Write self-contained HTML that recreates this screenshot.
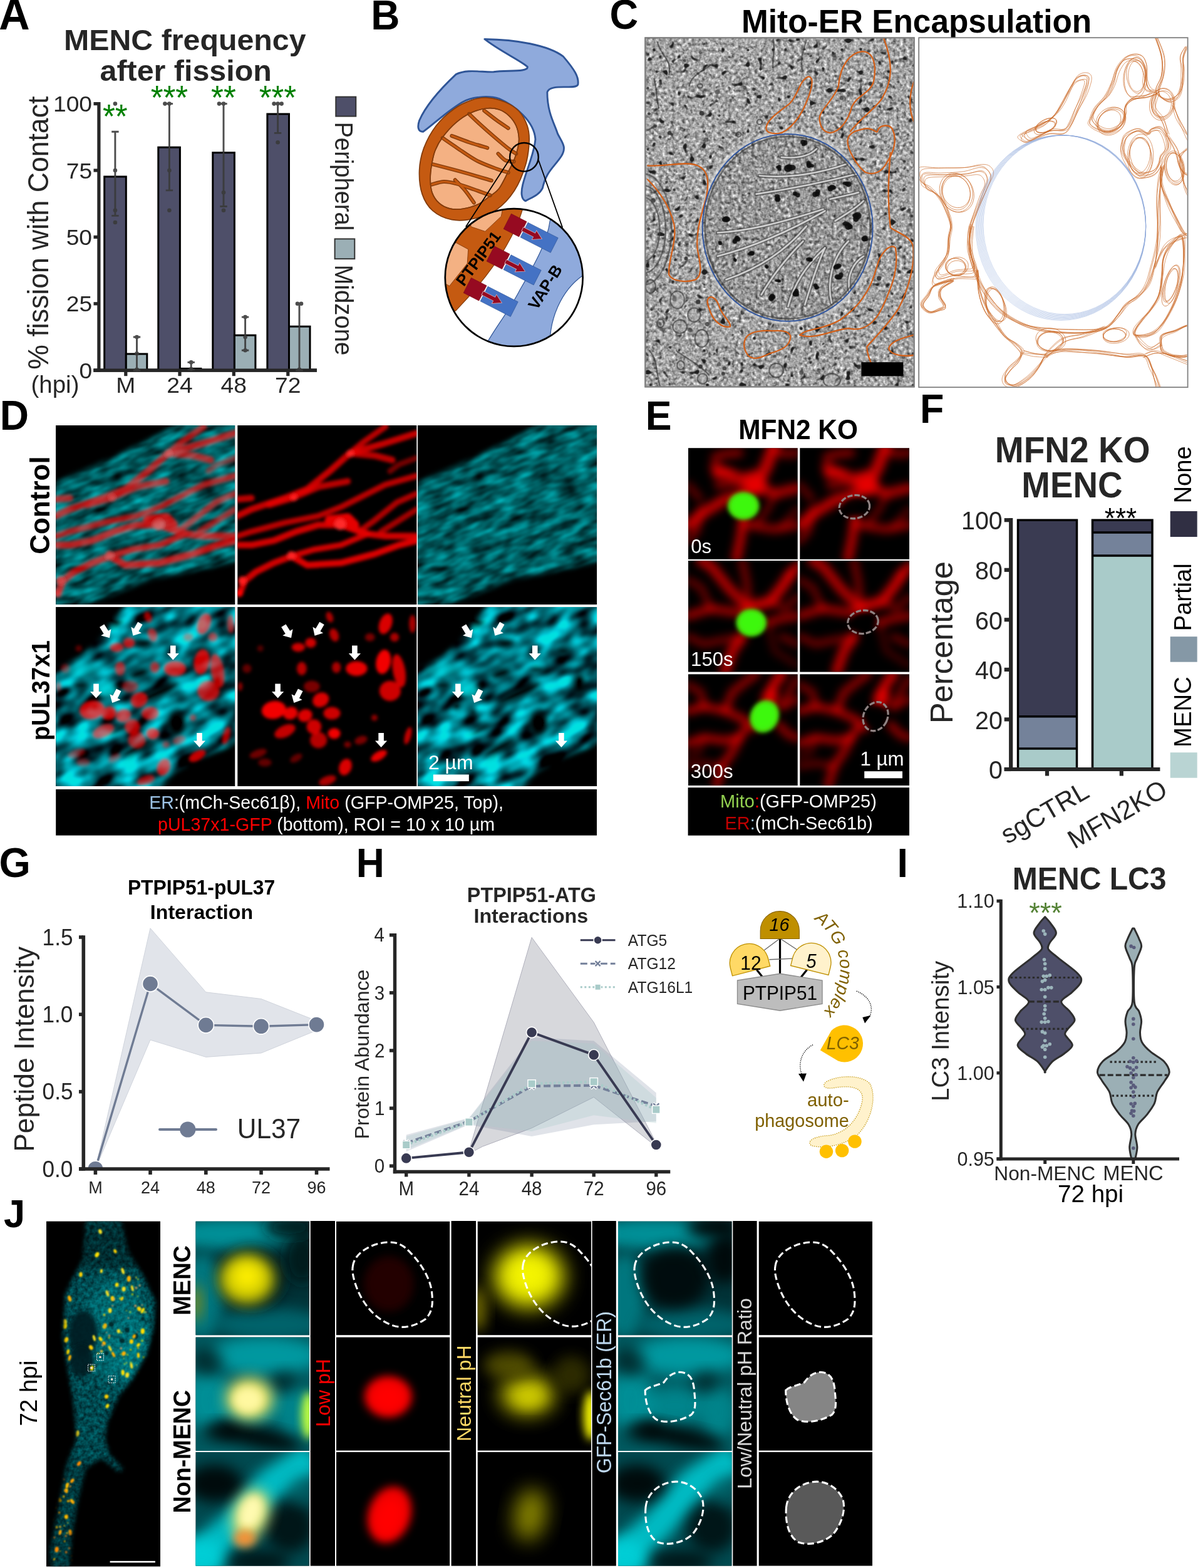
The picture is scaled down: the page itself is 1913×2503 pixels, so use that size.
<!DOCTYPE html>
<html lang="en"><head><meta charset="utf-8"><title>Figure</title>
<style>
html,body{margin:0;padding:0;background:#fff;}
body{width:1913px;height:2503px;overflow:hidden;font-family:'Liberation Sans',Arial,sans-serif;}
svg{display:block;}
text{font-family:'Liberation Sans',Arial,sans-serif;}
</style></head>
<body>
<svg width="1913" height="2503" viewBox="0 0 1913 2503">
<defs>

<filter id="emtex" x="0" y="0" width="100%" height="100%" color-interpolation-filters="sRGB">
  <feTurbulence type="fractalNoise" baseFrequency="0.19" numOctaves="2" seed="7" result="n"/>
  <feColorMatrix in="n" type="matrix" values="0.68 0.68 0 0 -0.035  0.68 0.68 0 0 -0.035  0.68 0.68 0 0 -0.035  0 0 0 0 1" result="g"/>
  <feTurbulence type="fractalNoise" baseFrequency="0.1" numOctaves="1" seed="31" result="n2"/>
  <feColorMatrix in="n2" type="matrix" values="0 0 0 0 0.12  0 0 0 0 0.12  0 0 0 0 0.12  -10 0 0 0 3.7" result="sp"/>
  <feGaussianBlur in="sp" stdDeviation="0.5" result="sp2"/>
  <feComposite in="sp2" in2="g" operator="over" result="c"/>
  <feGaussianBlur in="c" stdDeviation="0.5"/>
</filter>
<filter id="emtex2" x="0" y="0" width="100%" height="100%" color-interpolation-filters="sRGB">
  <feTurbulence type="fractalNoise" baseFrequency="0.19" numOctaves="2" seed="23" result="n"/>
  <feColorMatrix in="n" type="matrix" values="0.66 0.66 0 0 -0.07  0.66 0.66 0 0 -0.07  0.66 0.66 0 0 -0.07  0 0 0 0 1" result="g"/>
  <feGaussianBlur in="g" stdDeviation="0.6"/>
</filter>
<filter id="b1" x="-50%" y="-50%" width="200%" height="200%"><feGaussianBlur stdDeviation="1"/></filter>
<filter id="b2" x="-50%" y="-50%" width="200%" height="200%"><feGaussianBlur stdDeviation="2"/></filter>
<filter id="b05" x="-50%" y="-50%" width="200%" height="200%"><feGaussianBlur stdDeviation="0.6"/></filter>
<clipPath id="emclip"><rect x="1031" y="61" width="428" height="556"/></clipPath>
<clipPath id="mitoclip"><ellipse cx="1257.6" cy="363.4" rx="135.5" ry="149"/></clipPath>
<clipPath id="c2clip"><rect x="1468" y="61" width="427.5" height="556.5"/></clipPath>


<filter id="cy1" x="0" y="0" width="100%" height="100%" color-interpolation-filters="sRGB">
  <feTurbulence type="fractalNoise" baseFrequency="0.03 0.08" numOctaves="2" seed="3" result="n"/>
  <feColorMatrix in="n" type="matrix" values="0 0 0 0 0  0.9 0 0 0 -0.08  0.93 0 0 0 -0.08  0 0 0 0 1"/>
  <feGaussianBlur stdDeviation="1.2"/>
</filter>
<filter id="cy2" x="0" y="0" width="100%" height="100%" color-interpolation-filters="sRGB">
  <feTurbulence type="fractalNoise" baseFrequency="0.022 0.04" numOctaves="2" seed="14" result="n"/>
  <feColorMatrix in="n" type="matrix" values="0 0 0 0 0  2.3 0 0 0 -0.62  2.4 0 0 0 -0.62  0 0 0 0 1"/>
  <feGaussianBlur stdDeviation="1.5"/>
</filter>
<filter id="b3" x="-50%" y="-50%" width="200%" height="200%"><feGaussianBlur stdDeviation="2.6"/></filter>
<filter id="b4" x="-50%" y="-50%" width="200%" height="200%"><feGaussianBlur stdDeviation="4.5"/></filter>
<filter id="b8" x="-50%" y="-50%" width="200%" height="200%"><feGaussianBlur stdDeviation="8"/></filter>
<filter id="b12" x="-50%" y="-50%" width="200%" height="200%"><feGaussianBlur stdDeviation="12"/></filter>
<clipPath id="dclip"><rect x="0" y="0" width="286" height="286"/></clipPath>

<mask id="mtop" maskUnits="userSpaceOnUse" x="0" y="0" width="286" height="286"><rect width="286" height="286" fill="#000"/><path d="M-20,100 L60,66 L110,42 L170,12 L220,-20 L310,-20 L310,212 L250,226 L150,246 L110,262 L60,283 L-20,300 Z" fill="#fff" filter="url(#b4)"/></mask>
<g id="cytop" clip-path="url(#dclip)"><rect width="286" height="286" fill="#000"/><g mask="url(#mtop)"><g transform="rotate(-22 143 143)"><rect x="-80" y="-80" width="446" height="446" filter="url(#cy1)"/></g></g></g>
<g id="redtop" clip-path="url(#dclip)"><g fill="none" stroke="#e60000" stroke-linecap="round" stroke-linejoin="round" filter="url(#b3)"><polyline points="286.4,12.5 229.3,30.4 179.3,44.6 147.1,73.2 111.4,101.8 75.7,116.1 22.1,133.9 0.0,144.6" stroke-width="10.5" stroke-opacity="0.85"/><polyline points="179.3,44.6 218.6,48.2 247.1,55.4" stroke-width="10.5" stroke-opacity="0.8"/><polyline points="236.4,1.8 200.7,26.8 179.3,44.6" stroke-width="9.5" stroke-opacity="0.8"/><polyline points="175.7,89.3 129.3,98.2 86.4,116.1 50.7,126.8" stroke-width="10.5" stroke-opacity="0.8"/><polyline points="0.0,117.9 22.1,116.1" stroke-width="10.5" stroke-opacity="0.8"/><polyline points="286.4,80.4 236.4,94.6 200.7,112.5 165.0,130.4 129.3,144.6 75.7,155.4 22.1,169.6 0.0,176.8" stroke-width="9.5" stroke-opacity="0.8"/><polyline points="286.4,108.9 254.3,123.2 218.6,151.8 193.6,169.6 165.0,158.9" stroke-width="9.5" stroke-opacity="0.75"/><polyline points="286.4,176.8 236.4,176.8 207.9,173.2 165.0,158.9 129.3,158.9 93.6,169.6 57.9,183.9 22.1,191.1 0.0,191.1" stroke-width="10.5" stroke-opacity="0.9"/><polyline points="86.4,208.9 111.4,223.2 165.0,219.6 218.6,205.4 257.9,191.1 286.4,183.9" stroke-width="10.5" stroke-opacity="0.95"/><polyline points="86.4,208.9 57.9,219.6 29.3,233.9 11.4,248.2 4.3,266.1" stroke-width="10.5" stroke-opacity="0.9"/><polyline points="86.4,208.9 122.1,198.2 165.0,191.1 207.9,173.2" stroke-width="9.5" stroke-opacity="0.9"/><polyline points="286.4,133.9 257.9,151.8 229.3,169.6" stroke-width="9.5" stroke-opacity="0.7"/><polyline points="147.1,151.8 175.7,148.2 186.4,158.9" stroke-width="16" stroke-opacity="1.0"/><polyline points="286.4,51.8 257.9,62.5 243.6,73.2" stroke-width="9" stroke-opacity="0.5"/><circle cx="164" cy="158" r="9" fill="#ff2a2a" stroke="none"/><circle cx="86" cy="208" r="7" fill="#ff2020" stroke="none"/><circle cx="180" cy="45" r="6" fill="#ff2020" stroke="none"/><circle cx="90" cy="115" r="6" fill="#ff1a1a" stroke="none"/><circle cx="8" cy="248" r="7" fill="#ff1a1a" stroke="none"/><circle cx="3" cy="268" r="6" fill="#f00" stroke="none"/></g></g>
<mask id="mbot" maskUnits="userSpaceOnUse" x="0" y="0" width="286" height="286"><rect width="286" height="286" fill="#000"/><g filter="url(#b4)"><path d="M-20,110 L40,80 L90,30 L120,-20 L310,-20 L310,200 L270,225 L230,240 L190,262 L150,310 L-20,310 Z" fill="#fff"/><g fill="#000"><ellipse cx="163" cy="137" rx="40" ry="10" transform="rotate(-25 163 137)"/><ellipse cx="133" cy="106" rx="18" ry="9" transform="rotate(-20 133 106)"/><ellipse cx="140" cy="58" rx="16" ry="8"/><ellipse cx="232" cy="70" rx="12" ry="7"/><ellipse cx="62" cy="158" rx="10" ry="9"/><ellipse cx="88" cy="168" rx="7" ry="9"/><ellipse cx="193" cy="185" rx="18" ry="22"/><ellipse cx="258" cy="122" rx="13" ry="18"/><ellipse cx="130" cy="225" rx="30" ry="9" transform="rotate(-28 130 225)"/><ellipse cx="95" cy="25" rx="12" ry="8"/><ellipse cx="190" cy="100" rx="14" ry="7"/><ellipse cx="100" cy="195" rx="16" ry="6" transform="rotate(-30 100 195)"/><ellipse cx="215" cy="245" rx="14" ry="10"/><ellipse cx="40" cy="125" rx="14" ry="7"/></g></g></mask>
<g id="cybot" clip-path="url(#dclip)"><rect width="286" height="286" fill="#000"/><g mask="url(#mbot)"><g transform="rotate(-28 143 143)" opacity="0.88"><rect x="-80" y="-80" width="446" height="446" filter="url(#cy2)"/></g><ellipse cx="82" cy="133" rx="16" ry="12" fill="#00e8ee" opacity="0.8" filter="url(#b4)"/><ellipse cx="40" cy="100" rx="30" ry="10" fill="#00c8cc" opacity="0.5" filter="url(#b4)"/></g></g>
<g id="redbot" clip-path="url(#dclip)"><g fill="#f20000" filter="url(#b3)"><ellipse cx="97.1" cy="64.3" rx="10.7" ry="7.1" transform="rotate(0 97.1 64.3)" opacity="0.85"/><ellipse cx="116.8" cy="57.1" rx="8.9" ry="7.9" transform="rotate(0 116.8 57.1)" opacity="0.85"/><ellipse cx="147.1" cy="16.1" rx="5.4" ry="8.9" transform="rotate(-20 147.1 16.1)" opacity="0.7"/><ellipse cx="154.3" cy="44.6" rx="7.1" ry="10.7" transform="rotate(-20 154.3 44.6)" opacity="0.75"/><ellipse cx="102.5" cy="98.2" rx="7.9" ry="10.7" transform="rotate(0 102.5 98.2)" opacity="0.75"/><ellipse cx="190.0" cy="98.2" rx="17.1" ry="11.8" transform="rotate(0 190.0 98.2)" opacity="0.95"/><ellipse cx="157.9" cy="96.4" rx="7.1" ry="8.9" transform="rotate(0 157.9 96.4)" opacity="0.7"/><ellipse cx="232.9" cy="87.5" rx="11.8" ry="19.6" transform="rotate(10 232.9 87.5)" opacity="1"/><ellipse cx="236.4" cy="26.8" rx="10.0" ry="17.1" transform="rotate(20 236.4 26.8)" opacity="0.9"/><ellipse cx="250.7" cy="48.2" rx="7.1" ry="7.1" transform="rotate(0 250.7 48.2)" opacity="0.7"/><ellipse cx="279.3" cy="26.8" rx="5.4" ry="14.3" transform="rotate(0 279.3 26.8)" opacity="0.7"/><ellipse cx="257.9" cy="101.8" rx="10.0" ry="26.8" transform="rotate(-10 257.9 101.8)" opacity="0.85"/><ellipse cx="243.6" cy="133.9" rx="17.1" ry="16.1" transform="rotate(0 243.6 133.9)" opacity="0.85"/><ellipse cx="57.9" cy="164.3" rx="19.6" ry="14.3" transform="rotate(-10 57.9 164.3)" opacity="1"/><ellipse cx="84.6" cy="169.6" rx="11.8" ry="10.0" transform="rotate(-20 84.6 169.6)" opacity="0.95"/><ellipse cx="107.9" cy="173.2" rx="11.8" ry="10.0" transform="rotate(-20 107.9 173.2)" opacity="0.9"/><ellipse cx="132.9" cy="148.2" rx="13.6" ry="11.4" transform="rotate(-30 132.9 148.2)" opacity="0.9"/><ellipse cx="118.6" cy="126.8" rx="12.9" ry="9.3" transform="rotate(0 118.6 126.8)" opacity="0.5"/><ellipse cx="150.7" cy="169.6" rx="13.6" ry="10.0" transform="rotate(0 150.7 169.6)" opacity="0.85"/><ellipse cx="75.7" cy="198.2" rx="17.9" ry="9.3" transform="rotate(-25 75.7 198.2)" opacity="0.8"/><ellipse cx="122.1" cy="191.1" rx="11.8" ry="11.8" transform="rotate(0 122.1 191.1)" opacity="0.85"/><ellipse cx="154.3" cy="201.8" rx="10.0" ry="8.6" transform="rotate(0 154.3 201.8)" opacity="1"/><ellipse cx="129.3" cy="212.5" rx="13.6" ry="12.9" transform="rotate(0 129.3 212.5)" opacity="0.75"/><ellipse cx="225.7" cy="237.5" rx="14.3" ry="6.8" transform="rotate(-30 225.7 237.5)" opacity="0.95"/><ellipse cx="172.1" cy="255.4" rx="10.0" ry="13.6" transform="rotate(20 172.1 255.4)" opacity="0.9"/><ellipse cx="143.6" cy="276.8" rx="14.3" ry="7.1" transform="rotate(-20 143.6 276.8)" opacity="0.7"/><ellipse cx="272.1" cy="205.4" rx="5.0" ry="14.3" transform="rotate(15 272.1 205.4)" opacity="0.8"/><ellipse cx="197.1" cy="212.5" rx="10.7" ry="6.4" transform="rotate(-20 197.1 212.5)" opacity="0.5"/><ellipse cx="32.9" cy="233.9" rx="14.3" ry="6.4" transform="rotate(-20 32.9 233.9)" opacity="0.45"/><ellipse cx="15.0" cy="98.2" rx="7.1" ry="7.1" transform="rotate(0 15.0 98.2)" opacity="0.4"/><ellipse cx="4.3" cy="126.8" rx="3.6" ry="7.1" transform="rotate(0 4.3 126.8)" opacity="0.6"/><ellipse cx="218.6" cy="176.8" rx="5.0" ry="5.0" transform="rotate(0 218.6 176.8)" opacity="0.6"/><ellipse cx="43.6" cy="248.2" rx="10.7" ry="6.4" transform="rotate(0 43.6 248.2)" opacity="0.4"/><ellipse cx="211.4" cy="48.2" rx="7.9" ry="6.4" transform="rotate(0 211.4 48.2)" opacity="0.5"/><ellipse cx="36.4" cy="66.1" rx="5.0" ry="5.0" transform="rotate(0 36.4 66.1)" opacity="0.35"/><ellipse cx="175.7" cy="219.6" rx="5.7" ry="5.0" transform="rotate(0 175.7 219.6)" opacity="0.5"/><ellipse cx="93.6" cy="241.1" rx="10.7" ry="5.7" transform="rotate(-30 93.6 241.1)" opacity="0.4"/></g></g>
<path id="arw" d="M0,0 L-9.6,-10.5 L-4.3,-10.5 L-4.3,-23 L4.3,-23 L4.3,-10.5 L9.6,-10.5 Z" fill="#fff"/>
<clipPath id="eclip"><rect x="0" y="0" width="174.7" height="177.6"/></clipPath>
<filter id="eb" x="-50%" y="-50%" width="200%" height="200%"><feGaussianBlur stdDeviation="7"/></filter>
<filter id="eg" x="-50%" y="-50%" width="200%" height="200%"><feGaussianBlur stdDeviation="3.2"/></filter>
<g id="enet0" clip-path="url(#eclip)"><g fill="none" stroke="#e80000" stroke-linecap="round" stroke-linejoin="round" filter="url(#eb)"><polyline points="108.6,59.5 124.4,30.1 135.7,0.0" stroke-width="20" stroke-opacity="0.8"/><polyline points="108.6,59.5 81.4,45.9 58.8,39.1 43.0,30.1" stroke-width="16" stroke-opacity="0.75"/><polyline points="43.0,14.3 58.8,9.7 81.4,7.5" stroke-width="14" stroke-opacity="0.55"/><polyline points="45.2,41.4 65.6,39.1" stroke-width="14" stroke-opacity="0.9"/><polyline points="47.5,59.5 70.1,55.0 92.7,59.5" stroke-width="12" stroke-opacity="0.6"/><polyline points="108.6,59.5 138.0,73.1 174.6,64.0" stroke-width="16" stroke-opacity="0.7"/><polyline points="108.6,61.8 86.0,75.3 58.8,82.1 24.9,102.5 0.0,122.8" stroke-width="17" stroke-opacity="0.8"/><polyline points="88.2,111.5 83.7,143.2 76.9,176.4" stroke-width="15" stroke-opacity="0.75"/><polyline points="88.2,120.6 108.6,125.1 138.0,129.6 174.6,122.8" stroke-width="13" stroke-opacity="0.6"/><polyline points="20.4,97.9 13.6,131.9 0.0,147.7" stroke-width="12" stroke-opacity="0.5"/><polyline points="135.7,0.0 153.8,9.7 174.6,7.5" stroke-width="14" stroke-opacity="0.5"/><polyline points="0.0,59.5 18.1,79.8" stroke-width="12" stroke-opacity="0.4"/><polyline points="138.0,73.1 126.7,97.9 108.6,120.6" stroke-width="10" stroke-opacity="0.45"/><polyline points="174.6,97.9 149.3,125.1" stroke-width="10" stroke-opacity="0.4"/><polyline points="108.6,59.5 104.0,52.7" stroke-width="34" stroke-opacity="0.85"/></g></g>
<g id="enet1" clip-path="url(#eclip)"><g fill="none" stroke="#e80000" stroke-linecap="round" stroke-linejoin="round" filter="url(#eb)"><polyline points="97.3,74.2 131.2,65.1 149.3,42.5 162.9,22.2" stroke-width="17" stroke-opacity="0.85"/><polyline points="97.3,76.5 65.6,44.8 36.2,8.6 20.4,0.0" stroke-width="16" stroke-opacity="0.75"/><polyline points="86.0,121.7 70.1,144.3 58.8,177.1" stroke-width="16" stroke-opacity="0.8"/><polyline points="0.0,87.8 36.2,76.5 81.4,83.2 97.3,76.5" stroke-width="14" stroke-opacity="0.65"/><polyline points="126.7,99.1 149.3,92.3 174.6,87.8" stroke-width="14" stroke-opacity="0.6"/><polyline points="162.9,22.2 174.6,8.6" stroke-width="14" stroke-opacity="0.8"/><polyline points="97.3,74.2 92.7,31.2 86.0,0.0" stroke-width="12" stroke-opacity="0.5"/><polyline points="131.2,65.1 153.8,76.5 174.6,58.4" stroke-width="11" stroke-opacity="0.45"/><polyline points="0.0,31.2 20.4,42.5 36.2,76.5" stroke-width="11" stroke-opacity="0.45"/><polyline points="0.0,121.7 24.9,133.0 58.8,126.2 86.0,121.7" stroke-width="11" stroke-opacity="0.5"/><polyline points="149.3,121.7 174.6,133.0" stroke-width="11" stroke-opacity="0.45"/><polyline points="126.7,99.1 138.0,144.3 174.6,166.9" stroke-width="9" stroke-opacity="0.3"/></g></g>
<g id="enet2" clip-path="url(#eclip)"><g fill="none" stroke="#e80000" stroke-linecap="round" stroke-linejoin="round" filter="url(#eb)"><polyline points="0.0,58.4 24.9,51.6 58.8,58.4 92.7,74.2 104.0,85.5" stroke-width="13" stroke-opacity="0.7"/><polyline points="131.2,33.5 135.7,17.6 149.3,0.0" stroke-width="16" stroke-opacity="0.85"/><polyline points="131.2,33.5 128.9,42.5" stroke-width="24" stroke-opacity="0.9"/><polyline points="58.8,58.4 70.1,29.0 92.7,10.9 108.6,0.0" stroke-width="13" stroke-opacity="0.6"/><polyline points="92.7,85.5 81.4,101.3 58.8,105.9 24.9,101.3 0.0,110.4" stroke-width="13" stroke-opacity="0.7"/><polyline points="81.4,101.3 70.1,124.0 54.3,146.6 45.2,177.6" stroke-width="14" stroke-opacity="0.65"/><polyline points="144.8,81.0 160.6,96.8 174.6,101.3" stroke-width="13" stroke-opacity="0.6"/><polyline points="149.3,51.6 174.6,40.3" stroke-width="12" stroke-opacity="0.55"/><polyline points="24.9,51.6 20.4,29.0 0.0,17.6" stroke-width="12" stroke-opacity="0.5"/><polyline points="174.6,6.3 160.6,29.0 149.3,51.6" stroke-width="12" stroke-opacity="0.5"/><polyline points="0.0,146.6 24.9,142.0 54.3,146.6" stroke-width="10" stroke-opacity="0.45"/><polyline points="24.9,101.3 18.1,124.0 0.0,130.7" stroke-width="9" stroke-opacity="0.35"/></g></g>
<marker id="harw" viewBox="0 0 10 10" refX="5" refY="5" markerWidth="7" markerHeight="7" orient="auto"><path d="M0,0 L10,5 L0,10 Z" fill="#000"/></marker>
<path id="atgarc" d="M1300.0,1467.8 A 97.3 97.3 0 0 1 1313.0,1616.3" fill="none"/>
<filter id="jb" x="-50%" y="-50%" width="200%" height="200%"><feGaussianBlur stdDeviation="11"/></filter>
<filter id="jb2" x="-50%" y="-50%" width="200%" height="200%"><feGaussianBlur stdDeviation="7"/></filter>
<filter id="jb3" x="-50%" y="-50%" width="200%" height="200%"><feGaussianBlur stdDeviation="16"/></filter>
<filter id="jc1" x="-50%" y="-50%" width="200%" height="200%"><feGaussianBlur stdDeviation="1.1"/></filter>
<filter id="jc3" x="-50%" y="-50%" width="200%" height="200%"><feGaussianBlur stdDeviation="3"/></filter>
<filter id="jtex" x="0" y="0" width="100%" height="100%" color-interpolation-filters="sRGB">
  <feTurbulence type="fractalNoise" baseFrequency="0.16" numOctaves="2" seed="9" result="n"/>
  <feColorMatrix in="n" type="matrix" values="0 0 0 0 0  0.85 0 0 0 -0.17  0.9 0 0 0 -0.17  0 0 0 0 1"/>
  <feGaussianBlur stdDeviation="0.7"/>
</filter>
<clipPath id="jclip"><rect x="0" y="0" width="181.5" height="181.6"/></clipPath>
<clipPath id="cellclip"><rect x="74" y="1949.6" width="182" height="551"/></clipPath>
<mask id="cellmask" maskUnits="userSpaceOnUse" x="60" y="1940" width="210" height="570"><rect x="60" y="1940" width="210" height="570" fill="#000"/><polygon points="137.2,1946.7 131.7,2009.8 104.3,2064.7 100.2,2133.3 108.4,2188.1 118.0,2243.0 122.1,2297.9 105.7,2339.1 93.3,2407.7 79.6,2476.3 82.3,2503.7 109.8,2503.7 115.3,2448.8 124.9,2394.0 137.2,2344.6 161.9,2328.1 189.4,2350.1 197.6,2344.6 175.6,2322.6 167.4,2297.9 171.5,2270.5 189.4,2229.3 211.3,2201.9 234.6,2160.7 245.6,2119.5 248.4,2078.4 229.1,2037.2 204.4,1996.0 193.5,1946.7" fill="#fff" filter="url(#jc3)"/></mask>
</defs>
<rect width="1913" height="2503" fill="#fff"/>
<g id="pa">
<text font-size="68.36" fill="#000" font-weight="bold" transform="translate(-1.82 47.00) scale(1 1.0415)">A</text>
<text font-size="48.32" fill="#262626" font-weight="bold" transform="translate(101.98 79.90) scale(1 0.97)">MENC frequency</text>
<text font-size="48.40" fill="#262626" font-weight="bold" transform="translate(159.55 129.40) scale(1 0.95)">after fission</text>
<g stroke="#262626" stroke-width="5.2" fill="none">
<path d="M157.9,163.0 V593.8000000000001"/>
<path d="M149.5,591.2 H506"/>
<path d="M149.5,591.2 H158"/>
<path d="M149.5,484.8 H158"/>
<path d="M149.5,378.4 H158"/>
<path d="M149.5,272.0 H158"/>
<path d="M149.5,165.6 H158"/>
<path d="M200.8,591.2 V600.2"/>
<path d="M287,591.2 V600.2"/>
<path d="M373.3,591.2 V600.2"/>
<path d="M459.8,591.2 V600.2"/>
</g>
<text font-size="37.2" fill="#262626" text-anchor="end" transform="translate(147.07 603.80) scale(1 0.96)">0</text>
<text font-size="37.2" fill="#262626" text-anchor="end" transform="translate(147.17 497.40) scale(1 0.96)">25</text>
<text font-size="37.2" fill="#262626" text-anchor="end" transform="translate(147.05 391.00) scale(1 0.96)">50</text>
<text font-size="37.2" fill="#262626" text-anchor="end" transform="translate(147.17 284.60) scale(1 0.96)">75</text>
<text font-size="37.2" fill="#262626" text-anchor="end" transform="translate(147.03 178.20) scale(1 0.96)">100</text>
<text font-size="37.2" fill="#262626" text-anchor="middle" transform="translate(200.80 626.70) scale(1 0.96)">M</text>
<text font-size="37.2" fill="#262626" text-anchor="middle" transform="translate(287.00 626.70) scale(1 0.96)">24</text>
<text font-size="37.2" fill="#262626" text-anchor="middle" transform="translate(373.30 626.70) scale(1 0.96)">48</text>
<text font-size="37.2" fill="#262626" text-anchor="middle" transform="translate(459.80 626.70) scale(1 0.96)">72</text>
<text font-size="38.43" fill="#262626" transform="translate(49.57 626.70)">(hpi)</text>
<text font-size="44.57" fill="#262626" transform="translate(76.70 589.63) rotate(-90) scale(1 1.04)">% fission with Contact</text>
<rect x="166.7" y="282.0" width="34.6" height="309.2" fill="#4e4f69" stroke="#000" stroke-width="3"/>
<rect x="201.3" y="565.0" width="33.5" height="26.2" fill="#9bafb5" stroke="#000" stroke-width="3"/>
<rect x="252.8" y="235.2" width="34.6" height="356.0" fill="#4e4f69" stroke="#000" stroke-width="3"/>
<rect x="287.4" y="588.4" width="33.5" height="2.8" fill="#9bafb5" stroke="#000" stroke-width="3"/>
<rect x="339.8" y="243.7" width="34.6" height="347.5" fill="#4e4f69" stroke="#000" stroke-width="3"/>
<rect x="374.4" y="535.2" width="33.5" height="56.0" fill="#9bafb5" stroke="#000" stroke-width="3"/>
<rect x="426.9" y="182.0" width="34.6" height="409.2" fill="#4e4f69" stroke="#000" stroke-width="3"/>
<rect x="461.5" y="521.2" width="33.5" height="70.0" fill="#9bafb5" stroke="#000" stroke-width="3"/>
<path d="M149.5,591.2 H506" stroke="#262626" stroke-width="5.2"/>
<g stroke="#3a3a3a" stroke-width="2.9" fill="#3a3a3a" opacity="0.9">
<path d="M183.9,210.3 V344.4 M178.2,210.3 h11.4 M178.2,344.4 h11.4" fill="none"/>
<circle cx="183.9" cy="165.6" r="3.3" stroke="none"/>
<circle cx="183.9" cy="272.0" r="3.3" stroke="none"/>
<circle cx="183.9" cy="335.8" r="3.3" stroke="none"/>
<circle cx="183.9" cy="355.0" r="3.3" stroke="none"/>
<path d="M270.4,165.6 V303.9 M264.7,165.6 h11.4 M264.7,303.9 h11.4" fill="none"/>
<circle cx="263.4" cy="165.6" r="3.3" stroke="none"/>
<circle cx="270.4" cy="165.6" r="3.3" stroke="none"/>
<circle cx="270.4" cy="272.0" r="3.3" stroke="none"/>
<circle cx="270.4" cy="335.8" r="3.3" stroke="none"/>
<path d="M357.0,165.6 V329.5 M351.3,165.6 h11.4 M351.3,329.5 h11.4" fill="none"/>
<circle cx="350.0" cy="165.6" r="3.3" stroke="none"/>
<circle cx="357.0" cy="165.6" r="3.3" stroke="none"/>
<circle cx="357.0" cy="307.3" r="3.3" stroke="none"/>
<circle cx="357.0" cy="335.8" r="3.3" stroke="none"/>
<path d="M443.6,165.6 V212.4 M437.9,165.6 h11.4 M437.9,212.4 h11.4" fill="none"/>
<circle cx="437.6" cy="165.6" r="3.3" stroke="none"/>
<circle cx="443.6" cy="165.6" r="3.3" stroke="none"/>
<circle cx="449.6" cy="165.6" r="3.3" stroke="none"/>
<circle cx="443.6" cy="227.3" r="3.3" stroke="none"/>
<path d="M218.5,538.0 V591.2 M212.8,538.0 h11.4 M212.8,591.2 h11.4" fill="none"/>
<circle cx="218.5" cy="538.0" r="3.3" stroke="none"/>
<circle cx="218.5" cy="564.4" r="3.3" stroke="none"/>
<circle cx="218.5" cy="589.9" r="3.3" stroke="none"/>
<path d="M305.2,578.4 V589.9 M299.5,578.4 h11.4 M299.5,589.9 h11.4" fill="none"/>
<circle cx="305.2" cy="578.4" r="3.3" stroke="none"/>
<circle cx="305.2" cy="589.1" r="3.3" stroke="none"/>
<path d="M391.6,506.1 V559.3 M385.9,506.1 h11.4 M385.9,559.3 h11.4" fill="none"/>
<circle cx="391.6" cy="506.1" r="3.3" stroke="none"/>
<circle cx="391.6" cy="538.0" r="3.3" stroke="none"/>
<circle cx="391.6" cy="559.3" r="3.3" stroke="none"/>
<path d="M478.0,484.8 V591.2 M472.3,484.8 h11.4 M472.3,591.2 h11.4" fill="none"/>
<circle cx="475.0" cy="484.8" r="3.3" stroke="none"/>
<circle cx="481.0" cy="484.8" r="3.3" stroke="none"/>
<circle cx="478.0" cy="589.9" r="3.3" stroke="none"/>
</g>
<text font-size="51.00" fill="#008000" transform="translate(163.91 204.00) scale(1 1.0415)">**</text>
<text font-size="51.00" fill="#008000" transform="translate(240.66 174.00) scale(1 1.0415)">***</text>
<text font-size="51.00" fill="#008000" transform="translate(337.11 174.00) scale(1 1.0415)">**</text>
<text font-size="51.00" fill="#008000" transform="translate(413.66 174.00) scale(1 1.0415)">***</text>
<rect x="536.3" y="154.6" width="32" height="31" fill="#4e4f69" stroke="#333" stroke-width="2"/>
<rect x="534.6" y="381.4" width="31.7" height="31.8" fill="#9bafb5" stroke="#333" stroke-width="2"/>
<text font-size="38.14" fill="#262626" transform="translate(535.30 194.42) rotate(90) scale(1 1.06)">Peripheral</text>
<text font-size="38.27" fill="#262626" transform="translate(535.30 422.61) rotate(90) scale(1 1.06)">Midzone</text>
</g>
<g id="pb">
<text font-size="63.93" fill="#000" font-weight="bold" transform="translate(592.24 47.00) scale(1 1.0415)">B</text>
<g transform="translate(560,0) scale(0.300345)"><path d="M712,208 C880,210 1050,240 1130,300 C1190,370 1215,410 1208,450 C1195,480 1060,440 1045,490 C1045,600 1085,660 1100,710 C1125,760 1150,780 1120,830 C1080,890 1040,910 1020,1000 C1000,1040 960,1050 930,1068 C905,1060 905,1020 915,980 C935,900 975,820 982,740 C975,640 870,560 790,525 C730,505 640,515 590,545 C500,600 430,670 385,700 C355,700 355,670 365,640 C400,560 480,470 560,395 C620,365 700,385 760,382 C830,372 945,385 940,355 C900,320 790,270 712,208 Z" fill="#8faadc" stroke="#2f5597" stroke-width="9.5" stroke-linejoin="round"/><g transform="translate(299.65,133.18) scale(0.594554)"><path d="M720.0,650.0 C770.0,653.3 833.3,670.0 880.0,690.0 C926.7,710.0 967.5,735.0 1000.0,770.0 C1032.5,805.0 1059.7,855.0 1075.0,900.0 C1090.3,945.0 1094.5,981.7 1092.0,1040.0 C1089.5,1098.3 1082.0,1176.7 1060.0,1250.0 C1038.0,1323.3 1003.3,1413.3 960.0,1480.0 C916.7,1546.7 860.0,1608.3 800.0,1650.0 C740.0,1691.7 666.7,1715.0 600.0,1730.0 C533.3,1745.0 461.7,1751.7 400.0,1740.0 C338.3,1728.3 274.2,1698.3 230.0,1660.0 C185.8,1621.7 155.0,1570.0 135.0,1510.0 C115.0,1450.0 107.5,1368.3 110.0,1300.0 C112.5,1231.7 125.0,1166.7 150.0,1100.0 C175.0,1033.3 215.0,958.3 260.0,900.0 C305.0,841.7 366.7,788.3 420.0,750.0 C473.3,711.7 530.0,686.7 580.0,670.0 C630.0,653.3 670.0,646.7 720.0,650.0 Z" fill="#c55a11" stroke="#843c0c" stroke-width="10"/><path d="M710.0,745.0 C751.7,740.0 786.7,744.2 820.0,755.0 C853.3,765.8 884.2,785.8 910.0,810.0 C935.8,834.2 960.0,866.7 975.0,900.0 C990.0,933.3 997.8,975.0 1000.0,1010.0 C1002.2,1045.0 995.5,1076.7 988.0,1110.0 C980.5,1143.3 969.7,1175.0 955.0,1210.0 C940.3,1245.0 922.5,1277.5 900.0,1320.0 C877.5,1362.5 846.7,1430.0 820.0,1465.0 C793.3,1500.0 770.0,1507.5 740.0,1530.0 C710.0,1552.5 680.0,1581.3 640.0,1600.0 C600.0,1618.7 543.3,1635.3 500.0,1642.0 C456.7,1648.7 415.8,1648.7 380.0,1640.0 C344.2,1631.3 310.8,1613.3 285.0,1590.0 C259.2,1566.7 237.8,1535.0 225.0,1500.0 C212.2,1465.0 208.8,1421.7 208.0,1380.0 C207.2,1338.3 212.7,1293.3 220.0,1250.0 C227.3,1206.7 235.3,1161.7 252.0,1120.0 C268.7,1078.3 288.7,1041.7 320.0,1000.0 C351.3,958.3 398.3,905.8 440.0,870.0 C481.7,834.2 525.0,805.8 570.0,785.0 C615.0,764.2 668.3,750.0 710.0,745.0 Z" fill="#f4b183" stroke="#843c0c" stroke-width="9"/><path d="M690.0,765.0 C708.3,779.2 764.2,823.8 800.0,850.0 C835.8,876.2 887.5,910.0 905.0,922.0" fill="none" stroke="#843c0c" stroke-width="34" stroke-linecap="round"/><path d="M555.0,795.0 C570.8,810.0 612.5,850.8 650.0,885.0 C687.5,919.2 738.3,964.2 780.0,1000.0 C821.7,1035.8 867.5,1075.0 900.0,1100.0 C932.5,1125.0 962.5,1141.7 975.0,1150.0" fill="none" stroke="#843c0c" stroke-width="34" stroke-linecap="round"/><path d="M400.0,990.0 C426.7,1000.0 507.0,1032.0 560.0,1050.0 C613.0,1068.0 691.7,1090.0 718.0,1098.0" fill="none" stroke="#843c0c" stroke-width="34" stroke-linecap="round"/><path d="M318.0,1010.0 C340.0,1025.0 399.7,1066.7 450.0,1100.0 C500.3,1133.3 561.7,1179.2 620.0,1210.0 C678.3,1240.8 752.5,1267.0 800.0,1285.0 C847.5,1303.0 887.5,1312.5 905.0,1318.0" fill="none" stroke="#843c0c" stroke-width="34" stroke-linecap="round"/><path d="M232.0,1245.0 C273.3,1255.8 392.8,1285.8 480.0,1310.0 C567.2,1334.2 709.2,1376.7 755.0,1390.0" fill="none" stroke="#843c0c" stroke-width="34" stroke-linecap="round"/><path d="M222.0,1425.0 C240.0,1420.8 292.0,1400.8 330.0,1400.0 C368.0,1399.2 405.0,1408.3 450.0,1420.0 C495.0,1431.7 550.8,1453.0 600.0,1470.0 C649.2,1487.0 720.8,1513.3 745.0,1522.0" fill="none" stroke="#843c0c" stroke-width="34" stroke-linecap="round"/><path d="M430.0,1385.0 C445.0,1400.8 492.0,1446.2 520.0,1480.0 C548.0,1513.8 585.0,1570.0 598.0,1588.0" fill="none" stroke="#843c0c" stroke-width="34" stroke-linecap="round"/><path d="M815.0,1150.0 C825.8,1160.0 856.7,1198.3 880.0,1210.0 C903.3,1221.7 942.5,1218.3 955.0,1220.0" fill="none" stroke="#843c0c" stroke-width="34" stroke-linecap="round"/><path d="M690.0,765.0 C708.3,779.2 764.2,823.8 800.0,850.0 C835.8,876.2 887.5,910.0 905.0,922.0" fill="none" stroke="#c55a11" stroke-width="18" stroke-linecap="round"/><path d="M555.0,795.0 C570.8,810.0 612.5,850.8 650.0,885.0 C687.5,919.2 738.3,964.2 780.0,1000.0 C821.7,1035.8 867.5,1075.0 900.0,1100.0 C932.5,1125.0 962.5,1141.7 975.0,1150.0" fill="none" stroke="#c55a11" stroke-width="18" stroke-linecap="round"/><path d="M400.0,990.0 C426.7,1000.0 507.0,1032.0 560.0,1050.0 C613.0,1068.0 691.7,1090.0 718.0,1098.0" fill="none" stroke="#c55a11" stroke-width="18" stroke-linecap="round"/><path d="M318.0,1010.0 C340.0,1025.0 399.7,1066.7 450.0,1100.0 C500.3,1133.3 561.7,1179.2 620.0,1210.0 C678.3,1240.8 752.5,1267.0 800.0,1285.0 C847.5,1303.0 887.5,1312.5 905.0,1318.0" fill="none" stroke="#c55a11" stroke-width="18" stroke-linecap="round"/><path d="M232.0,1245.0 C273.3,1255.8 392.8,1285.8 480.0,1310.0 C567.2,1334.2 709.2,1376.7 755.0,1390.0" fill="none" stroke="#c55a11" stroke-width="18" stroke-linecap="round"/><path d="M222.0,1425.0 C240.0,1420.8 292.0,1400.8 330.0,1400.0 C368.0,1399.2 405.0,1408.3 450.0,1420.0 C495.0,1431.7 550.8,1453.0 600.0,1470.0 C649.2,1487.0 720.8,1513.3 745.0,1522.0" fill="none" stroke="#c55a11" stroke-width="18" stroke-linecap="round"/><path d="M430.0,1385.0 C445.0,1400.8 492.0,1446.2 520.0,1480.0 C548.0,1513.8 585.0,1570.0 598.0,1588.0" fill="none" stroke="#c55a11" stroke-width="18" stroke-linecap="round"/><path d="M815.0,1150.0 C825.8,1160.0 856.7,1198.3 880.0,1210.0 C903.3,1221.7 942.5,1218.3 955.0,1220.0" fill="none" stroke="#c55a11" stroke-width="18" stroke-linecap="round"/><path d="M710.0,745.0 C751.7,740.0 786.7,744.2 820.0,755.0 C853.3,765.8 884.2,785.8 910.0,810.0 C935.8,834.2 960.0,866.7 975.0,900.0 C990.0,933.3 997.8,975.0 1000.0,1010.0 C1002.2,1045.0 995.5,1076.7 988.0,1110.0 C980.5,1143.3 969.7,1175.0 955.0,1210.0 C940.3,1245.0 922.5,1277.5 900.0,1320.0 C877.5,1362.5 846.7,1430.0 820.0,1465.0 C793.3,1500.0 770.0,1507.5 740.0,1530.0 C710.0,1552.5 680.0,1581.3 640.0,1600.0 C600.0,1618.7 543.3,1635.3 500.0,1642.0 C456.7,1648.7 415.8,1648.7 380.0,1640.0 C344.2,1631.3 310.8,1613.3 285.0,1590.0 C259.2,1566.7 237.8,1535.0 225.0,1500.0 C212.2,1465.0 208.8,1421.7 208.0,1380.0 C207.2,1338.3 212.7,1293.3 220.0,1250.0 C227.3,1206.7 235.3,1161.7 252.0,1120.0 C268.7,1078.3 288.7,1041.7 320.0,1000.0 C351.3,958.3 398.3,905.8 440.0,870.0 C481.7,834.2 525.0,805.8 570.0,785.0 C615.0,764.2 668.3,750.0 710.0,745.0 Z" fill="none" stroke="#843c0c" stroke-width="9"/></g><path d="M848,842 L612,1205 M998,850 L1126,1210" stroke="#000" stroke-width="6" fill="none"/><circle cx="922" cy="835" r="76" fill="none" stroke="#000" stroke-width="8"/><clipPath id="bclip"><circle cx="868" cy="1475" r="366"/></clipPath><circle cx="868" cy="1475" r="366" fill="#fff"/><g clip-path="url(#bclip)"><path d="M480,1050 L930,1050 C900,1200 800,1400 560,1650 L480,1700 Z" fill="#c55a11" stroke="#843c0c" stroke-width="4"/><path d="M620,1100 L640,1205 L715,1230 L800,1150 L810,1100 Z" fill="#f4b183" stroke="#843c0c" stroke-width="3"/><path d="M490,1330 L560,1290 L625,1325 L620,1400 L525,1520 L490,1500 Z" fill="#f4b183" stroke="#843c0c" stroke-width="3"/><path d="M1065,1120 C1060,1250 1010,1350 900,1540 C850,1640 770,1740 720,1830 L1060,1860 C1050,1700 1120,1540 1240,1460 L1260,1100 Z" fill="#8faadc" stroke="#2f5597" stroke-width="4"/><g transform="translate(958,1240) rotate(27)"><rect x="-40" y="-44" width="180" height="88" fill="#4472c4" stroke="#2f5597" stroke-width="2"/><rect x="-140" y="-45" width="92" height="90" fill="#960a21" stroke="#7a0a1c" stroke-width="2"/><path d="M-50,-11 H20 V-27 L66,0 L20,27 V11 H-50 Z" fill="#960a21" stroke="#c9a0b0" stroke-width="3"/></g><g transform="translate(868,1412) rotate(27)"><rect x="-40" y="-44" width="180" height="88" fill="#4472c4" stroke="#2f5597" stroke-width="2"/><rect x="-140" y="-45" width="92" height="90" fill="#960a21" stroke="#7a0a1c" stroke-width="2"/><path d="M-50,-11 H20 V-27 L66,0 L20,27 V11 H-50 Z" fill="#960a21" stroke="#c9a0b0" stroke-width="3"/></g><g transform="translate(745,1580) rotate(27)"><rect x="-40" y="-44" width="180" height="88" fill="#4472c4" stroke="#2f5597" stroke-width="2"/><rect x="-140" y="-45" width="92" height="90" fill="#960a21" stroke="#7a0a1c" stroke-width="2"/><path d="M-50,-11 H20 V-27 L66,0 L20,27 V11 H-50 Z" fill="#960a21" stroke="#c9a0b0" stroke-width="3"/></g></g><circle cx="868" cy="1475" r="366" fill="none" stroke="#000" stroke-width="9"/><text x="0" y="0" font-size="84" font-weight="bold" fill="#000" transform="translate(602,1526) rotate(-53.5)">PTPIP51</text><text x="0" y="0" font-size="86" font-weight="bold" fill="#000" transform="translate(990,1652) rotate(-58)">VAP-B</text></g>
</g>
<g id="pc">
<text font-size="63.21" fill="#000" font-weight="bold" transform="translate(973.47 46.20) scale(1 1.0415)">C</text>
<text font-size="51.35" fill="#000" font-weight="bold" transform="translate(1184.08 51.50)">Mito-ER Encapsulation</text>
<rect x="1029.4" y="59.4" width="431.2" height="559" fill="#7f7f7f"/>
<g clip-path="url(#emclip)">
<rect x="1031" y="61" width="428" height="556" fill="#b4b4b4"/>
<rect x="1031" y="61" width="428" height="556" filter="url(#emtex)"/>
<g clip-path="url(#mitoclip)">
<rect x="1120" y="210" width="280" height="310" filter="url(#emtex2)"/>
<g transform="translate(1020,50) scale(0.267860)" filter="url(#b05)"><path d="M470,1200 C640,1190 820,1150 1100,1060" stroke="#3c3c3c" stroke-width="22" fill="none" stroke-linecap="round" opacity="0.7"/><path d="M470,1340 C700,1280 900,1190 1110,1070" stroke="#3c3c3c" stroke-width="22" fill="none" stroke-linecap="round" opacity="0.7"/><path d="M520,1480 C750,1400 900,1280 1000,1160" stroke="#3c3c3c" stroke-width="22" fill="none" stroke-linecap="round" opacity="0.7"/><path d="M720,860 C900,880 1100,840 1240,790" stroke="#3c3c3c" stroke-width="22" fill="none" stroke-linecap="round" opacity="0.7"/><path d="M850,750 C950,760 1020,740 1060,700" stroke="#3c3c3c" stroke-width="22" fill="none" stroke-linecap="round" opacity="0.7"/><path d="M700,970 C900,940 1100,900 1300,850" stroke="#3c3c3c" stroke-width="22" fill="none" stroke-linecap="round" opacity="0.7"/><path d="M730,1570 C800,1450 880,1350 980,1250" stroke="#3c3c3c" stroke-width="22" fill="none" stroke-linecap="round" opacity="0.7"/><path d="M890,1640 C920,1520 990,1400 1110,1290" stroke="#3c3c3c" stroke-width="22" fill="none" stroke-linecap="round" opacity="0.7"/><path d="M990,1630 C1030,1500 1060,1400 1110,1290" stroke="#3c3c3c" stroke-width="22" fill="none" stroke-linecap="round" opacity="0.7"/><path d="M1150,1620 C1120,1500 1150,1350 1250,1250" stroke="#3c3c3c" stroke-width="22" fill="none" stroke-linecap="round" opacity="0.7"/><path d="M1260,1560 C1230,1450 1290,1370 1340,1340" stroke="#3c3c3c" stroke-width="22" fill="none" stroke-linecap="round" opacity="0.7"/><path d="M1170,1130 C1250,1080 1300,1050 1340,1010" stroke="#3c3c3c" stroke-width="22" fill="none" stroke-linecap="round" opacity="0.7"/><path d="M1140,1000 C1220,980 1280,970 1310,960" stroke="#3c3c3c" stroke-width="22" fill="none" stroke-linecap="round" opacity="0.7"/><path d="M470,1200 C640,1190 820,1150 1100,1060" stroke="#d8d8d8" stroke-width="10" fill="none" stroke-linecap="round"/><path d="M470,1340 C700,1280 900,1190 1110,1070" stroke="#d8d8d8" stroke-width="10" fill="none" stroke-linecap="round"/><path d="M520,1480 C750,1400 900,1280 1000,1160" stroke="#d8d8d8" stroke-width="10" fill="none" stroke-linecap="round"/><path d="M720,860 C900,880 1100,840 1240,790" stroke="#d8d8d8" stroke-width="10" fill="none" stroke-linecap="round"/><path d="M850,750 C950,760 1020,740 1060,700" stroke="#d8d8d8" stroke-width="10" fill="none" stroke-linecap="round"/><path d="M700,970 C900,940 1100,900 1300,850" stroke="#d8d8d8" stroke-width="10" fill="none" stroke-linecap="round"/><path d="M730,1570 C800,1450 880,1350 980,1250" stroke="#d8d8d8" stroke-width="10" fill="none" stroke-linecap="round"/><path d="M890,1640 C920,1520 990,1400 1110,1290" stroke="#d8d8d8" stroke-width="10" fill="none" stroke-linecap="round"/><path d="M990,1630 C1030,1500 1060,1400 1110,1290" stroke="#d8d8d8" stroke-width="10" fill="none" stroke-linecap="round"/><path d="M1150,1620 C1120,1500 1150,1350 1250,1250" stroke="#d8d8d8" stroke-width="10" fill="none" stroke-linecap="round"/><path d="M1260,1560 C1230,1450 1290,1370 1340,1340" stroke="#d8d8d8" stroke-width="10" fill="none" stroke-linecap="round"/><path d="M1170,1130 C1250,1080 1300,1050 1340,1010" stroke="#d8d8d8" stroke-width="10" fill="none" stroke-linecap="round"/><path d="M1140,1000 C1220,980 1280,970 1310,960" stroke="#d8d8d8" stroke-width="10" fill="none" stroke-linecap="round"/><ellipse cx="896" cy="809" rx="19" ry="16" fill="#0a0a0a" opacity="0.92"/><ellipse cx="890" cy="817" rx="24" ry="22" fill="#0a0a0a" opacity="0.92"/><ellipse cx="914" cy="812" rx="21" ry="17" fill="#0a0a0a" opacity="0.92"/><ellipse cx="1012" cy="787" rx="13" ry="16" fill="#0a0a0a" opacity="0.92"/><ellipse cx="1028" cy="801" rx="17" ry="11" fill="#0a0a0a" opacity="0.92"/><ellipse cx="1015" cy="798" rx="16" ry="16" fill="#0a0a0a" opacity="0.92"/><ellipse cx="837" cy="808" rx="12" ry="12" fill="#0a0a0a" opacity="0.92"/><ellipse cx="830" cy="810" rx="11" ry="9" fill="#0a0a0a" opacity="0.92"/><ellipse cx="838" cy="821" rx="12" ry="10" fill="#0a0a0a" opacity="0.92"/><ellipse cx="1250" cy="911" rx="17" ry="16" fill="#0a0a0a" opacity="0.92"/><ellipse cx="1240" cy="908" rx="15" ry="13" fill="#0a0a0a" opacity="0.92"/><ellipse cx="1232" cy="906" rx="17" ry="10" fill="#0a0a0a" opacity="0.92"/><ellipse cx="1142" cy="938" rx="16" ry="16" fill="#0a0a0a" opacity="0.92"/><ellipse cx="1154" cy="931" rx="22" ry="14" fill="#0a0a0a" opacity="0.92"/><ellipse cx="1152" cy="928" rx="19" ry="14" fill="#0a0a0a" opacity="0.92"/><ellipse cx="1051" cy="971" rx="16" ry="17" fill="#0a0a0a" opacity="0.92"/><ellipse cx="1067" cy="955" rx="14" ry="14" fill="#0a0a0a" opacity="0.92"/><ellipse cx="1063" cy="968" rx="15" ry="15" fill="#0a0a0a" opacity="0.92"/><ellipse cx="934" cy="969" rx="9" ry="12" fill="#0a0a0a" opacity="0.92"/><ellipse cx="948" cy="977" rx="13" ry="13" fill="#0a0a0a" opacity="0.92"/><ellipse cx="931" cy="967" rx="14" ry="12" fill="#0a0a0a" opacity="0.92"/><ellipse cx="828" cy="1000" rx="17" ry="17" fill="#0a0a0a" opacity="0.92"/><ellipse cx="825" cy="983" rx="16" ry="12" fill="#0a0a0a" opacity="0.92"/><ellipse cx="827" cy="1000" rx="15" ry="11" fill="#0a0a0a" opacity="0.92"/><ellipse cx="516" cy="1121" rx="21" ry="16" fill="#0a0a0a" opacity="0.92"/><ellipse cx="523" cy="1120" rx="23" ry="17" fill="#0a0a0a" opacity="0.92"/><ellipse cx="521" cy="1119" rx="15" ry="15" fill="#0a0a0a" opacity="0.92"/><ellipse cx="585" cy="1232" rx="12" ry="15" fill="#0a0a0a" opacity="0.92"/><ellipse cx="573" cy="1251" rx="13" ry="15" fill="#0a0a0a" opacity="0.92"/><ellipse cx="587" cy="1238" rx="20" ry="15" fill="#0a0a0a" opacity="0.92"/><ellipse cx="486" cy="1259" rx="8" ry="9" fill="#0a0a0a" opacity="0.92"/><ellipse cx="486" cy="1265" rx="12" ry="9" fill="#0a0a0a" opacity="0.92"/><ellipse cx="482" cy="1257" rx="9" ry="8" fill="#0a0a0a" opacity="0.92"/><ellipse cx="659" cy="1327" rx="11" ry="9" fill="#0a0a0a" opacity="0.92"/><ellipse cx="674" cy="1321" rx="16" ry="12" fill="#0a0a0a" opacity="0.92"/><ellipse cx="674" cy="1323" rx="15" ry="14" fill="#0a0a0a" opacity="0.92"/><ellipse cx="570" cy="1355" rx="7" ry="10" fill="#0a0a0a" opacity="0.92"/><ellipse cx="576" cy="1365" rx="8" ry="9" fill="#0a0a0a" opacity="0.92"/><ellipse cx="574" cy="1362" rx="10" ry="8" fill="#0a0a0a" opacity="0.92"/><ellipse cx="1295" cy="1115" rx="17" ry="21" fill="#0a0a0a" opacity="0.92"/><ellipse cx="1304" cy="1099" rx="23" ry="22" fill="#0a0a0a" opacity="0.92"/><ellipse cx="1295" cy="1098" rx="22" ry="14" fill="#0a0a0a" opacity="0.92"/><ellipse cx="1260" cy="1164" rx="15" ry="15" fill="#0a0a0a" opacity="0.92"/><ellipse cx="1249" cy="1162" rx="21" ry="21" fill="#0a0a0a" opacity="0.92"/><ellipse cx="1236" cy="1147" rx="23" ry="13" fill="#0a0a0a" opacity="0.92"/><ellipse cx="1349" cy="1232" rx="17" ry="15" fill="#0a0a0a" opacity="0.92"/><ellipse cx="1349" cy="1241" rx="17" ry="11" fill="#0a0a0a" opacity="0.92"/><ellipse cx="1344" cy="1237" rx="17" ry="15" fill="#0a0a0a" opacity="0.92"/><ellipse cx="1019" cy="1360" rx="10" ry="9" fill="#0a0a0a" opacity="0.92"/><ellipse cx="1022" cy="1360" rx="15" ry="13" fill="#0a0a0a" opacity="0.92"/><ellipse cx="1012" cy="1358" rx="15" ry="12" fill="#0a0a0a" opacity="0.92"/><ellipse cx="1177" cy="1407" rx="18" ry="12" fill="#0a0a0a" opacity="0.92"/><ellipse cx="1191" cy="1397" rx="18" ry="13" fill="#0a0a0a" opacity="0.92"/><ellipse cx="1183" cy="1400" rx="20" ry="12" fill="#0a0a0a" opacity="0.92"/><ellipse cx="1185" cy="1463" rx="19" ry="15" fill="#0a0a0a" opacity="0.92"/><ellipse cx="1193" cy="1468" rx="18" ry="12" fill="#0a0a0a" opacity="0.92"/><ellipse cx="1205" cy="1453" rx="14" ry="17" fill="#0a0a0a" opacity="0.92"/><ellipse cx="1058" cy="1525" rx="11" ry="15" fill="#0a0a0a" opacity="0.92"/><ellipse cx="1053" cy="1514" rx="13" ry="11" fill="#0a0a0a" opacity="0.92"/><ellipse cx="1061" cy="1527" rx="14" ry="9" fill="#0a0a0a" opacity="0.92"/><ellipse cx="935" cy="1561" rx="16" ry="17" fill="#0a0a0a" opacity="0.92"/><ellipse cx="940" cy="1551" rx="14" ry="18" fill="#0a0a0a" opacity="0.92"/><ellipse cx="936" cy="1566" rx="20" ry="16" fill="#0a0a0a" opacity="0.92"/><ellipse cx="795" cy="1583" rx="16" ry="20" fill="#0a0a0a" opacity="0.92"/><ellipse cx="789" cy="1590" rx="16" ry="19" fill="#0a0a0a" opacity="0.92"/><ellipse cx="798" cy="1583" rx="17" ry="13" fill="#0a0a0a" opacity="0.92"/><ellipse cx="835" cy="1488" rx="11" ry="8" fill="#0a0a0a" opacity="0.92"/><ellipse cx="823" cy="1485" rx="12" ry="8" fill="#0a0a0a" opacity="0.92"/><ellipse cx="837" cy="1488" rx="11" ry="9" fill="#0a0a0a" opacity="0.92"/><ellipse cx="993" cy="663" rx="12" ry="15" fill="#0a0a0a" opacity="0.92"/><ellipse cx="983" cy="673" rx="12" ry="11" fill="#0a0a0a" opacity="0.92"/><ellipse cx="980" cy="661" rx="16" ry="14" fill="#0a0a0a" opacity="0.92"/><ellipse cx="764" cy="1404" rx="11" ry="7" fill="#0a0a0a" opacity="0.92"/><ellipse cx="761" cy="1400" rx="9" ry="10" fill="#0a0a0a" opacity="0.92"/><ellipse cx="764" cy="1406" rx="7" ry="9" fill="#0a0a0a" opacity="0.92"/></g>
</g>
<g transform="translate(1020,50) scale(0.267860)" filter="url(#b05)"><circle cx="1312" cy="2000" r="12" fill="#2c2c2c" opacity="0.87"/><circle cx="86" cy="1008" r="14" fill="#2c2c2c" opacity="0.74"/><circle cx="1481" cy="275" r="10" fill="#2c2c2c" opacity="0.56"/><circle cx="61" cy="491" r="9" fill="#2c2c2c" opacity="0.86"/><circle cx="1265" cy="372" r="13" fill="#2c2c2c" opacity="0.51"/><circle cx="1028" cy="304" r="7" fill="#2c2c2c" opacity="0.84"/><circle cx="375" cy="488" r="14" fill="#2c2c2c" opacity="0.84"/><circle cx="503" cy="2040" r="11" fill="#2c2c2c" opacity="0.76"/><circle cx="368" cy="1997" r="12" fill="#2c2c2c" opacity="0.88"/><circle cx="1470" cy="661" r="10" fill="#2c2c2c" opacity="0.52"/><circle cx="273" cy="175" r="9" fill="#2c2c2c" opacity="0.72"/><circle cx="45" cy="1450" r="9" fill="#2c2c2c" opacity="0.59"/><circle cx="1167" cy="159" r="14" fill="#2c2c2c" opacity="0.46"/><circle cx="1240" cy="1797" r="7" fill="#2c2c2c" opacity="0.80"/><circle cx="55" cy="137" r="8" fill="#2c2c2c" opacity="0.88"/><circle cx="354" cy="1612" r="14" fill="#2c2c2c" opacity="0.87"/><circle cx="213" cy="1597" r="13" fill="#2c2c2c" opacity="0.84"/><circle cx="99" cy="2007" r="8" fill="#2c2c2c" opacity="0.60"/><circle cx="1017" cy="1950" r="9" fill="#2c2c2c" opacity="0.87"/><circle cx="547" cy="409" r="8" fill="#2c2c2c" opacity="0.52"/><circle cx="1143" cy="2113" r="8" fill="#2c2c2c" opacity="0.47"/><circle cx="1619" cy="1150" r="10" fill="#2c2c2c" opacity="0.56"/><circle cx="990" cy="1759" r="10" fill="#2c2c2c" opacity="0.64"/><circle cx="129" cy="1945" r="7" fill="#2c2c2c" opacity="0.67"/><circle cx="1381" cy="312" r="12" fill="#2c2c2c" opacity="0.88"/><circle cx="211" cy="944" r="8" fill="#2c2c2c" opacity="0.83"/><circle cx="1639" cy="1813" r="14" fill="#2c2c2c" opacity="0.65"/><circle cx="686" cy="345" r="10" fill="#2c2c2c" opacity="0.89"/><circle cx="1576" cy="1344" r="10" fill="#2c2c2c" opacity="0.60"/><circle cx="183" cy="606" r="12" fill="#2c2c2c" opacity="0.84"/><circle cx="618" cy="1675" r="12" fill="#2c2c2c" opacity="0.76"/><circle cx="510" cy="2007" r="12" fill="#2c2c2c" opacity="0.71"/><circle cx="59" cy="1178" r="9" fill="#2c2c2c" opacity="0.75"/><circle cx="781" cy="1739" r="12" fill="#2c2c2c" opacity="0.81"/><circle cx="1221" cy="1763" r="9" fill="#2c2c2c" opacity="0.83"/><circle cx="1432" cy="1472" r="14" fill="#2c2c2c" opacity="0.88"/><circle cx="306" cy="1780" r="14" fill="#2c2c2c" opacity="0.66"/><circle cx="1209" cy="397" r="12" fill="#2c2c2c" opacity="0.71"/><circle cx="84" cy="373" r="10" fill="#2c2c2c" opacity="0.74"/><circle cx="390" cy="1467" r="11" fill="#2c2c2c" opacity="0.47"/><circle cx="795" cy="511" r="7" fill="#2c2c2c" opacity="0.51"/><circle cx="548" cy="418" r="8" fill="#2c2c2c" opacity="0.47"/><circle cx="421" cy="1919" r="7" fill="#2c2c2c" opacity="0.63"/><circle cx="224" cy="1769" r="10" fill="#2c2c2c" opacity="0.47"/><circle cx="1022" cy="237" r="11" fill="#2c2c2c" opacity="0.60"/><circle cx="969" cy="2033" r="13" fill="#2c2c2c" opacity="0.64"/><circle cx="631" cy="336" r="11" fill="#2c2c2c" opacity="0.70"/><circle cx="1572" cy="2053" r="11" fill="#2c2c2c" opacity="0.61"/><circle cx="1470" cy="42" r="8" fill="#2c2c2c" opacity="0.70"/><circle cx="1024" cy="333" r="11" fill="#2c2c2c" opacity="0.85"/><circle cx="402" cy="646" r="14" fill="#2c2c2c" opacity="0.62"/><circle cx="1578" cy="1941" r="11" fill="#2c2c2c" opacity="0.57"/><circle cx="1610" cy="1072" r="10" fill="#2c2c2c" opacity="0.59"/><circle cx="1615" cy="1063" r="9" fill="#2c2c2c" opacity="0.66"/><circle cx="235" cy="1333" r="10" fill="#2c2c2c" opacity="0.58"/><circle cx="1291" cy="1760" r="7" fill="#2c2c2c" opacity="0.69"/><circle cx="478" cy="1985" r="12" fill="#2c2c2c" opacity="0.56"/><circle cx="468" cy="362" r="14" fill="#2c2c2c" opacity="0.58"/><circle cx="1230" cy="286" r="12" fill="#2c2c2c" opacity="0.59"/><circle cx="98" cy="565" r="10" fill="#2c2c2c" opacity="0.86"/><circle cx="1461" cy="1175" r="7" fill="#2c2c2c" opacity="0.80"/><circle cx="811" cy="1936" r="10" fill="#2c2c2c" opacity="0.63"/><circle cx="1403" cy="449" r="9" fill="#2c2c2c" opacity="0.82"/><circle cx="146" cy="1779" r="12" fill="#2c2c2c" opacity="0.64"/><circle cx="498" cy="1664" r="13" fill="#2c2c2c" opacity="0.51"/><circle cx="286" cy="1259" r="13" fill="#2c2c2c" opacity="0.48"/><circle cx="408" cy="1745" r="13" fill="#2c2c2c" opacity="0.75"/><circle cx="81" cy="1543" r="14" fill="#2c2c2c" opacity="0.90"/><circle cx="1162" cy="142" r="13" fill="#2c2c2c" opacity="0.55"/><circle cx="1073" cy="2021" r="12" fill="#2c2c2c" opacity="0.51"/><circle cx="508" cy="1949" r="8" fill="#2c2c2c" opacity="0.72"/><circle cx="702" cy="375" r="11" fill="#2c2c2c" opacity="0.47"/><circle cx="213" cy="829" r="8" fill="#2c2c2c" opacity="0.48"/><circle cx="1446" cy="319" r="10" fill="#2c2c2c" opacity="0.59"/><circle cx="1542" cy="818" r="7" fill="#2c2c2c" opacity="0.76"/><circle cx="282" cy="1353" r="11" fill="#2c2c2c" opacity="0.86"/><circle cx="447" cy="1601" r="11" fill="#2c2c2c" opacity="0.51"/><circle cx="415" cy="812" r="12" fill="#2c2c2c" opacity="0.53"/><ellipse cx="230" cy="1600" rx="42" ry="52" fill="#bdbdbd" fill-opacity="0.5" stroke="#3c3c3c" stroke-width="8" opacity="0.75"/><ellipse cx="330" cy="1690" rx="38" ry="42" fill="#bdbdbd" fill-opacity="0.5" stroke="#3c3c3c" stroke-width="8" opacity="0.75"/><ellipse cx="245" cy="1760" rx="42" ry="40" fill="#bdbdbd" fill-opacity="0.5" stroke="#3c3c3c" stroke-width="8" opacity="0.75"/><ellipse cx="375" cy="1830" rx="40" ry="52" fill="#bdbdbd" fill-opacity="0.5" stroke="#3c3c3c" stroke-width="8" opacity="0.75"/><ellipse cx="70" cy="1520" rx="30" ry="40" fill="#bdbdbd" fill-opacity="0.5" stroke="#3c3c3c" stroke-width="8" opacity="0.75"/><ellipse cx="820" cy="2020" rx="42" ry="42" fill="#bdbdbd" fill-opacity="0.5" stroke="#3c3c3c" stroke-width="8" opacity="0.75"/><ellipse cx="380" cy="2070" rx="30" ry="30" fill="#bdbdbd" fill-opacity="0.5" stroke="#3c3c3c" stroke-width="8" opacity="0.75"/><ellipse cx="250" cy="1990" rx="22" ry="26" fill="#bdbdbd" fill-opacity="0.5" stroke="#3c3c3c" stroke-width="8" opacity="0.75"/><ellipse cx="1150" cy="2080" rx="50" ry="40" fill="#bdbdbd" fill-opacity="0.5" stroke="#3c3c3c" stroke-width="8" opacity="0.75"/><ellipse cx="130" cy="1740" rx="20" ry="25" fill="#bdbdbd" fill-opacity="0.5" stroke="#3c3c3c" stroke-width="8" opacity="0.75"/><ellipse cx="720" cy="540" rx="15" ry="15" fill="#bdbdbd" fill-opacity="0.5" stroke="#3c3c3c" stroke-width="8" opacity="0.75"/><ellipse cx="595" cy="615" rx="14" ry="14" fill="#bdbdbd" fill-opacity="0.5" stroke="#3c3c3c" stroke-width="8" opacity="0.75"/><ellipse cx="365" cy="325" rx="15" ry="12" fill="#bdbdbd" fill-opacity="0.5" stroke="#3c3c3c" stroke-width="8" opacity="0.75"/><ellipse cx="30" cy="1180" rx="95" ry="190" fill="none" stroke="#404040" stroke-width="9" opacity="0.7"/><ellipse cx="30" cy="1180" rx="130" ry="260" fill="none" stroke="#404040" stroke-width="9" opacity="0.7"/><ellipse cx="30" cy="1180" rx="165" ry="330" fill="none" stroke="#404040" stroke-width="9" opacity="0.7"/><path d="M110,60 C130,150 200,160 180,260" fill="none" stroke="#303030" stroke-width="8" opacity="0.7"/><path d="M300,330 C310,260 380,240 430,200" fill="none" stroke="#303030" stroke-width="8" opacity="0.7"/><path d="M800,50 C820,120 790,170 800,220" fill="none" stroke="#303030" stroke-width="8" opacity="0.7"/><path d="M1000,50 C980,120 960,170 975,230" fill="none" stroke="#303030" stroke-width="8" opacity="0.7"/><path d="M90,280 C110,340 100,400 120,460" fill="none" stroke="#303030" stroke-width="8" opacity="0.7"/><path d="M220,1900 C300,1960 380,2000 420,2050" fill="none" stroke="#303030" stroke-width="8" opacity="0.7"/><path d="M60,1900 C120,1960 100,2060 130,2120" fill="none" stroke="#303030" stroke-width="8" opacity="0.7"/></g>
<ellipse cx="1257.6" cy="363.4" rx="139" ry="152.5" fill="none" stroke="#dcdcdc" stroke-width="5" opacity="0.6" filter="url(#b1)"/>
<ellipse cx="1257.6" cy="363.4" rx="132" ry="145.5" fill="none" stroke="#3a3a3a" stroke-width="2.5" opacity="0.6" filter="url(#b05)"/>
<g transform="translate(1020,50) scale(0.267860)"><path d="M760,570 C770,520 850,470 900,430 C950,380 960,290 1010,270 C1050,270 1030,350 1000,420 C970,500 900,600 830,610 C780,610 755,600 760,570 Z" fill="none" stroke="#d2601a" stroke-width="8.6" stroke-linejoin="round"/><path d="M1080,540 C1060,480 1150,430 1190,330 C1200,200 1260,130 1330,120 C1400,120 1420,200 1400,300 C1380,370 1300,380 1270,450 C1250,530 1200,600 1140,605 C1100,600 1085,570 1080,540 Z" fill="none" stroke="#d2601a" stroke-width="8.6" stroke-linejoin="round"/><path d="M1245,650 C1250,600 1300,590 1350,580 C1400,570 1420,620 1425,590 C1440,555 1500,550 1515,590 C1540,650 1520,720 1480,780 C1450,840 1400,860 1350,840 C1300,800 1240,700 1245,650 Z" fill="none" stroke="#d2601a" stroke-width="8.6" stroke-linejoin="round"/><path d="M1460,40 C1520,200 1510,300 1450,400 C1420,450 1300,540 1260,600" fill="none" stroke="#d2601a" stroke-width="8.6" stroke-linejoin="round"/><path d="M1500,720 C1490,850 1480,1000 1500,1170 C1540,1200 1620,1220 1635,1280 C1650,1400 1600,1550 1550,1650 C1480,1760 1400,1830 1360,1880 C1360,1930 1380,1960 1390,1990" fill="none" stroke="#d2601a" stroke-width="8.6" stroke-linejoin="round"/><path d="M50,800 C150,810 280,770 350,800 C420,830 420,900 400,1000 C370,1100 340,1200 350,1300 C370,1400 380,1450 340,1480 C280,1500 200,1490 180,1450 C170,1380 230,1250 210,1150 C180,1020 100,930 50,880" fill="none" stroke="#d2601a" stroke-width="8.6" stroke-linejoin="round"/><path d="M960,1810 C1000,1770 1100,1780 1200,1720 C1300,1650 1380,1560 1420,1400 C1440,1320 1500,1260 1530,1290 C1550,1400 1520,1500 1450,1650 C1400,1750 1330,1790 1250,1770 C1150,1780 1050,1840 960,1810 Z" fill="none" stroke="#d2601a" stroke-width="8.6" stroke-linejoin="round"/><path d="M630,1850 C640,1790 720,1780 800,1785 C860,1780 900,1790 905,1820 C900,1880 850,1900 780,1920 C720,1950 680,1960 650,1930 C630,1900 625,1880 630,1850 Z" fill="none" stroke="#d2601a" stroke-width="8.6" stroke-linejoin="round"/><path d="M410,1600 C420,1570 460,1580 480,1640 C500,1700 550,1730 545,1760 C500,1770 450,1730 430,1680 C415,1640 405,1620 410,1600 Z" fill="none" stroke="#d2601a" stroke-width="8.6" stroke-linejoin="round"/><path d="M1640,1810 C1560,1830 1500,1850 1490,1890 C1500,1930 1580,1940 1640,1930" fill="none" stroke="#d2601a" stroke-width="8.6" stroke-linejoin="round"/><path d="M1640,300 C1610,380 1610,470 1640,540" fill="none" stroke="#d2601a" stroke-width="8.6" stroke-linejoin="round"/></g>
<ellipse cx="1257.6" cy="363.4" rx="136" ry="149.5" fill="none" stroke="#2f55a0" stroke-width="1.9"/>
<rect x="1375.4" y="578.2" width="67" height="22.2" fill="#000"/>
</g>
<rect x="1030.4" y="60.4" width="429.2" height="557" fill="none" stroke="#7f7f7f" stroke-width="2.2"/>
<rect x="1467.2" y="60.2" width="429.4" height="558" fill="#fff" stroke="#7f7f7f" stroke-width="1.8"/>
<g clip-path="url(#c2clip)">
<g transform="translate(1460,50) scale(0.269644)" fill="none" stroke="#c55a11" stroke-width="2.3" opacity="0.92"><path d="M27.7,807.1 C46.3,795.3 99.1,808.2 143.5,808.2 C187.9,808.2 251.4,810.5 294.0,807.1 C336.5,803.7 372.9,789.0 398.8,787.8 C424.7,786.7 437.8,790.8 449.4,800.3 C461.1,809.8 471.3,824.2 468.8,844.8 C466.3,865.3 448.4,891.3 434.2,923.4 C420.0,955.5 399.4,998.9 383.5,1037.3 C367.6,1075.6 348.0,1116.7 338.8,1153.3 C329.6,1189.9 326.9,1223.2 328.4,1256.8 C329.9,1290.4 339.3,1326.3 347.7,1355.0 C356.0,1383.8 374.5,1411.1 378.5,1429.3 C382.5,1447.4 380.7,1458.0 371.8,1463.9 C362.9,1469.9 347.2,1464.5 325.2,1465.0 C303.2,1465.6 268.3,1461.7 239.9,1467.2 C211.4,1472.8 175.7,1491.8 154.6,1498.3 C133.5,1504.9 120.4,1512.2 113.3,1506.6 C106.1,1501.0 101.9,1485.9 111.8,1464.6 C121.7,1443.3 157.6,1404.0 172.6,1378.9 C187.6,1353.8 196.1,1339.7 201.7,1313.8 C207.3,1287.9 203.6,1251.0 206.0,1223.4 C208.4,1195.7 219.5,1174.5 216.1,1147.9 C212.7,1121.4 197.6,1090.9 185.4,1064.1 C173.3,1037.3 159.7,1010.4 143.1,987.1 C126.5,963.9 104.4,942.9 85.8,924.8 C67.2,906.8 41.3,898.6 31.6,879.0 C21.9,859.3 9.0,818.9 27.7,807.1 Z"/><path d="M43.8,820.6 C63.1,807.3 116.8,812.1 159.2,809.8 C201.6,807.4 259.9,808.7 298.2,806.5 C336.6,804.2 366.7,794.4 389.1,796.4 C411.4,798.4 421.5,807.3 432.3,818.5 C443.2,829.6 454.8,844.3 454.3,863.4 C453.9,882.5 440.8,904.4 429.6,933.2 C418.4,962.1 401.6,1000.8 387.2,1036.6 C372.9,1072.4 353.5,1112.1 343.5,1147.9 C333.6,1183.8 328.0,1218.2 327.4,1251.8 C326.8,1285.4 333.1,1321.5 339.9,1349.6 C346.7,1377.7 364.2,1403.4 368.4,1420.6 C372.7,1437.9 372.7,1447.1 365.4,1452.9 C358.2,1458.8 345.0,1454.4 324.7,1455.7 C304.5,1457.0 271.2,1455.2 243.7,1460.9 C216.2,1466.7 180.7,1485.0 159.7,1490.3 C138.6,1495.5 124.8,1499.7 117.4,1492.3 C110.1,1485.0 105.8,1467.3 115.5,1446.1 C125.1,1425.0 160.6,1387.6 175.3,1365.2 C190.1,1342.8 198.6,1333.9 203.8,1311.7 C209.0,1289.5 204.8,1257.9 206.5,1232.1 C208.3,1206.2 218.0,1184.5 214.5,1156.5 C211.0,1128.4 196.5,1093.1 185.4,1063.6 C174.3,1034.1 162.9,1003.1 148.0,979.5 C133.1,955.9 113.6,936.6 96.2,921.7 C78.9,906.8 52.5,906.8 43.7,889.9 C35.0,873.1 24.6,834.0 43.8,820.6 Z"/><path d="M54.0,840.0 C73.4,828.5 119.3,840.2 158.6,838.6 C198.0,836.9 252.8,835.5 290.2,830.1 C327.6,824.8 359.3,808.2 382.9,806.5 C406.4,804.8 419.8,809.4 431.4,820.0 C443.1,830.6 454.3,848.3 452.5,870.1 C450.6,891.9 433.8,920.0 420.3,950.9 C406.7,981.7 386.1,1021.6 371.2,1055.2 C356.3,1088.8 338.3,1122.1 330.8,1152.5 C323.3,1182.9 323.5,1208.6 326.3,1237.7 C329.1,1266.8 339.9,1299.2 347.5,1327.1 C355.1,1355.0 370.4,1384.8 371.9,1405.1 C373.4,1425.4 367.0,1440.9 356.4,1448.9 C345.9,1457.0 328.6,1453.7 308.4,1453.4 C288.3,1453.1 258.8,1445.6 235.6,1447.2 C212.4,1448.8 185.5,1460.2 169.1,1463.3 C152.7,1466.3 143.9,1470.4 137.3,1465.4 C130.7,1460.4 123.7,1449.6 129.6,1433.0 C135.4,1416.5 162.2,1386.2 172.7,1366.2 C183.2,1346.3 187.6,1336.7 192.6,1313.2 C197.5,1289.8 197.1,1253.7 202.2,1225.6 C207.3,1197.6 223.5,1172.6 223.3,1145.0 C223.1,1117.4 212.1,1085.5 201.2,1059.8 C190.3,1034.1 175.3,1010.4 157.8,990.8 C140.3,971.3 115.5,956.3 96.2,942.4 C77.0,928.5 49.3,924.6 42.3,907.6 C35.2,890.5 34.6,851.5 54.0,840.0 Z"/><path d="M54.6,846.7 C72.9,837.1 126.1,848.8 167.2,848.7 C208.3,848.7 264.9,850.1 301.1,846.3 C337.3,842.6 365.0,828.0 384.5,826.2 C403.9,824.3 410.0,827.0 417.8,835.5 C425.7,843.9 433.0,857.5 431.4,876.7 C429.7,896.0 417.4,921.2 407.9,950.9 C398.5,980.6 385.8,1020.8 374.7,1055.0 C363.6,1089.3 349.1,1125.1 341.3,1156.4 C333.5,1187.7 329.0,1214.6 327.9,1242.7 C326.7,1270.7 330.0,1300.1 334.4,1324.8 C338.8,1349.5 351.6,1373.7 354.1,1390.8 C356.6,1408.0 355.7,1420.1 349.4,1427.6 C343.1,1435.0 333.2,1433.6 316.4,1435.5 C299.5,1437.4 272.2,1434.9 248.4,1439.2 C224.7,1443.5 193.3,1457.7 173.8,1461.2 C154.3,1464.6 139.8,1467.0 131.5,1459.9 C123.1,1452.8 116.3,1437.3 123.7,1418.5 C131.1,1399.6 162.3,1366.7 175.8,1346.7 C189.3,1326.7 198.6,1318.8 204.8,1298.6 C211.0,1278.3 209.9,1249.0 213.0,1225.3 C216.1,1201.6 226.5,1181.8 223.4,1156.4 C220.3,1130.9 205.8,1099.3 194.4,1072.4 C183.0,1045.5 169.8,1017.2 154.8,994.9 C139.7,972.6 120.3,953.5 104.1,938.8 C87.9,924.1 65.9,922.0 57.7,906.7 C49.4,891.3 36.3,856.4 54.6,846.7 Z"/><path d="M63.3,858.0 C80.0,845.7 129.9,852.2 169.3,849.8 C208.6,847.5 263.5,847.2 299.5,843.8 C335.5,840.4 364.8,828.7 385.3,829.5 C405.7,830.2 414.0,837.3 422.0,848.3 C430.1,859.3 436.7,875.6 433.4,895.4 C430.1,915.3 414.4,939.5 402.3,967.3 C390.2,995.2 373.5,1031.3 360.6,1062.5 C347.7,1093.7 332.0,1125.8 324.6,1154.8 C317.2,1183.7 315.1,1209.2 316.2,1236.3 C317.3,1263.4 324.5,1292.9 331.1,1317.2 C337.7,1341.5 352.5,1365.7 355.9,1382.1 C359.2,1398.5 357.8,1409.2 351.1,1415.4 C344.4,1421.6 332.8,1418.2 315.7,1419.2 C298.7,1420.2 271.5,1416.9 248.8,1421.5 C226.2,1426.2 197.5,1441.8 179.9,1447.2 C162.3,1452.7 150.7,1458.9 143.2,1454.4 C135.8,1450.0 129.5,1438.0 135.3,1420.6 C141.2,1403.1 168.3,1370.8 178.6,1349.8 C188.9,1328.8 193.6,1317.1 197.3,1294.4 C201.0,1271.6 197.8,1238.6 200.7,1213.3 C203.6,1188.0 215.5,1167.1 214.7,1142.6 C214.0,1118.0 204.4,1089.7 196.3,1066.1 C188.2,1042.4 178.9,1019.4 165.9,1000.8 C152.9,982.1 134.3,966.8 118.2,954.0 C102.1,941.1 78.4,939.9 69.3,923.9 C60.1,907.9 46.7,870.4 63.3,858.0 Z"/><path d="M71.4,872.0 C88.3,860.0 136.7,863.3 174.5,860.7 C212.3,858.0 264.5,858.3 298.1,856.3 C331.7,854.3 357.9,846.4 376.1,848.6 C394.3,850.7 400.3,859.2 407.2,869.0 C414.1,878.9 420.0,891.4 417.5,907.4 C415.0,923.5 401.8,941.2 392.2,965.3 C382.7,989.4 370.1,1021.7 360.3,1052.1 C350.4,1082.4 338.5,1116.6 333.0,1147.4 C327.5,1178.2 326.5,1208.1 327.2,1236.7 C327.8,1265.4 332.9,1295.7 337.0,1319.3 C341.2,1342.8 351.7,1363.7 352.0,1377.9 C352.3,1392.2 347.4,1399.7 338.9,1404.8 C330.4,1410.0 317.7,1407.1 301.1,1408.8 C284.5,1410.5 259.5,1409.9 239.3,1414.9 C219.0,1419.9 194.2,1435.1 179.5,1439.0 C164.7,1442.9 156.2,1445.0 150.6,1438.2 C144.9,1431.3 139.9,1415.7 145.8,1398.0 C151.7,1380.2 176.9,1349.7 186.1,1331.6 C195.3,1313.4 198.3,1307.5 201.0,1289.2 C203.7,1270.8 199.8,1244.0 202.5,1221.4 C205.1,1198.9 217.0,1178.6 216.9,1153.7 C216.9,1128.9 209.1,1097.4 201.9,1072.3 C194.8,1047.1 186.8,1021.8 174.2,1002.8 C161.5,983.9 142.9,970.0 126.1,958.4 C109.3,946.8 82.5,947.5 73.4,933.1 C64.3,918.7 54.6,884.1 71.4,872.0 Z"/><path d="M614.5,620.1 C622.1,610.2 649.3,596.7 673.3,584.7 C697.3,572.7 731.6,562.8 758.6,548.1 C785.5,533.4 813.8,515.7 835.1,496.4 C856.5,477.0 870.6,458.8 886.7,432.2 C902.8,405.5 919.6,363.3 931.8,336.4 C944.0,309.6 949.1,286.1 960.1,271.1 C971.2,256.1 985.3,249.9 998.3,246.5 C1011.2,243.1 1029.4,243.8 1038.0,250.7 C1046.5,257.6 1052.4,267.2 1049.7,287.9 C1047.0,308.7 1034.0,347.1 1021.9,375.1 C1009.9,403.0 993.5,425.6 977.5,455.7 C961.4,485.8 941.4,530.6 925.7,555.8 C909.9,581.0 904.5,598.1 883.1,606.8 C861.7,615.5 823.7,603.0 797.2,608.1 C770.7,613.1 745.7,628.8 724.0,637.2 C702.3,645.6 682.9,657.2 666.9,658.4 C650.9,659.5 636.8,650.6 628.0,644.2 C619.3,637.8 607.0,630.0 614.5,620.1 Z"/><path d="M629.1,614.2 C638.0,606.4 670.0,601.0 693.3,591.7 C716.5,582.3 746.3,573.5 768.8,558.1 C791.3,542.6 811.3,521.1 828.5,499.0 C845.7,476.9 856.1,453.9 872.0,425.7 C887.9,397.6 908.5,355.4 924.0,330.1 C939.6,304.8 951.7,285.6 965.3,274.0 C978.9,262.5 994.4,261.4 1005.7,260.6 C1017.0,259.9 1028.9,262.7 1033.1,269.4 C1037.4,276.2 1036.2,283.3 1031.2,301.3 C1026.2,319.3 1013.1,352.5 1003.3,377.4 C993.5,402.3 983.9,422.1 972.4,450.6 C960.8,479.2 947.4,523.4 934.0,548.6 C920.6,573.8 914.6,592.5 891.9,601.9 C869.1,611.3 826.6,600.1 797.7,605.1 C768.8,610.1 740.4,624.3 718.6,631.9 C696.8,639.5 679.9,649.8 666.9,650.9 C653.8,652.0 646.4,644.6 640.1,638.5 C633.8,632.4 620.2,622.0 629.1,614.2 Z"/><path d="M644.2,616.4 C654.9,606.3 678.1,595.4 699.2,583.3 C720.3,571.3 748.7,559.1 770.8,544.0 C792.9,528.8 814.7,510.6 832.0,492.2 C849.3,473.8 860.2,457.7 874.6,433.5 C888.9,409.4 905.7,371.8 918.2,347.2 C930.8,322.7 938.2,300.8 949.8,286.4 C961.5,272.0 975.9,264.6 988.2,261.0 C1000.5,257.4 1016.3,257.7 1023.6,264.8 C1030.9,272.0 1034.7,283.1 1032.1,303.9 C1029.4,324.8 1017.6,363.3 1007.7,389.9 C997.9,416.6 985.5,437.4 972.8,463.8 C960.0,490.2 944.6,527.8 931.2,548.4 C917.7,569.0 913.1,580.6 892.1,587.3 C871.2,594.0 832.8,582.4 805.3,588.8 C777.9,595.2 750.2,614.6 727.4,625.8 C704.6,637.1 684.2,653.2 668.7,656.2 C653.3,659.3 639.0,650.7 634.9,644.1 C630.8,637.5 633.5,626.6 644.2,616.4 Z"/><path d="M639.3,609.5 C646.6,600.6 677.7,586.6 700.7,575.0 C723.6,563.4 754.7,553.2 777.0,539.9 C799.4,526.7 818.9,512.1 834.7,495.6 C850.4,479.0 857.9,464.5 871.5,440.6 C885.1,416.7 902.3,377.8 916.3,352.3 C930.3,326.7 942.2,302.3 955.5,287.5 C968.8,272.7 984.8,265.6 995.8,263.4 C1006.9,261.3 1018.1,265.4 1021.9,274.4 C1025.7,283.5 1023.5,297.3 1018.6,317.9 C1013.7,338.4 1001.4,374.0 992.4,397.6 C983.4,421.3 975.4,436.6 964.8,459.8 C954.2,483.1 941.7,517.0 928.8,537.2 C916.0,557.3 909.1,571.7 887.6,580.8 C866.1,590.0 826.1,583.9 799.7,592.0 C773.3,600.1 748.5,619.8 729.2,629.5 C709.9,639.1 695.9,649.9 683.8,649.8 C671.6,649.6 663.8,635.3 656.4,628.6 C649.0,621.9 631.9,618.5 639.3,609.5 Z"/><path d="M661.9,595.2 C671.2,586.7 693.0,585.5 711.8,578.0 C730.6,570.5 755.1,563.7 774.6,550.0 C794.1,536.3 812.8,515.8 828.5,495.9 C844.3,476.0 854.8,454.9 869.1,430.5 C883.5,406.1 901.2,370.8 914.7,349.5 C928.2,328.2 938.0,313.0 950.3,302.5 C962.7,291.9 977.4,288.7 988.8,286.1 C1000.1,283.4 1013.5,281.8 1018.3,286.7 C1023.2,291.6 1023.2,298.0 1017.9,315.7 C1012.6,333.4 997.9,368.1 986.6,392.9 C975.2,417.7 962.0,439.2 949.8,464.5 C937.7,489.8 924.6,525.6 913.9,544.7 C903.2,563.8 902.2,573.3 885.6,579.1 C868.9,584.8 837.2,573.3 814.0,579.2 C790.9,585.2 767.1,604.1 746.7,614.9 C726.3,625.6 706.8,641.1 691.6,643.5 C676.5,645.9 660.9,637.1 656.0,629.1 C651.0,621.0 652.6,603.7 661.9,595.2 Z"/><path d="M664.5,590.0 C672.5,581.1 698.6,572.4 717.8,563.4 C737.0,554.5 760.9,547.5 779.6,536.1 C798.3,524.8 815.0,510.7 829.8,495.1 C844.6,479.4 854.4,464.3 868.6,442.3 C882.8,420.3 901.3,385.2 915.1,363.1 C928.8,341.0 939.3,321.7 950.9,309.4 C962.4,297.2 975.2,292.4 984.5,289.6 C993.8,286.9 1003.6,287.6 1006.9,293.0 C1010.3,298.4 1009.1,305.6 1004.8,321.9 C1000.5,338.2 989.3,368.5 981.1,390.7 C972.8,412.8 964.9,430.2 955.2,454.6 C945.6,479.1 934.6,515.9 923.4,537.3 C912.1,558.8 907.4,574.4 887.9,583.1 C868.4,591.8 831.6,583.9 806.4,589.7 C781.2,595.4 755.9,610.1 736.7,617.5 C717.6,625.0 702.6,634.3 691.4,634.2 C680.3,634.1 674.5,624.4 670.0,617.0 C665.5,609.6 656.5,599.0 664.5,590.0 Z"/><path d="M1037.8,517.3 C1043.7,500.7 1051.6,473.8 1066.1,451.9 C1080.5,430.0 1108.0,409.8 1124.5,385.7 C1141.0,361.7 1152.3,335.7 1165.2,307.7 C1178.1,279.6 1187.5,242.8 1201.9,217.3 C1216.3,191.8 1234.7,168.5 1251.8,154.6 C1268.8,140.7 1287.4,135.0 1304.0,133.7 C1320.6,132.4 1339.1,135.1 1351.2,146.9 C1363.4,158.7 1372.0,181.6 1376.8,204.5 C1381.6,227.4 1376.0,262.3 1380.3,284.3 C1384.6,306.3 1391.7,323.9 1402.5,336.6 C1413.4,349.2 1448.8,351.6 1445.3,360.3 C1441.7,369.1 1406.3,381.4 1381.2,389.0 C1356.1,396.7 1316.8,395.2 1294.6,406.4 C1272.5,417.6 1255.8,436.7 1248.2,456.2 C1240.5,475.7 1253.3,503.0 1248.8,523.5 C1244.2,544.1 1237.8,565.4 1220.8,579.3 C1203.9,593.3 1171.1,605.7 1147.0,607.0 C1122.9,608.3 1095.7,596.4 1076.3,587.2 C1056.8,577.9 1036.8,563.2 1030.4,551.5 C1024.0,539.9 1031.9,533.9 1037.8,517.3 Z"/><path d="M1042.5,517.0 C1048.7,500.3 1063.2,474.8 1078.8,453.1 C1094.4,431.5 1121.2,411.1 1135.9,387.0 C1150.7,362.8 1157.3,336.5 1167.2,308.4 C1177.1,280.3 1182.3,243.5 1195.3,218.2 C1208.2,192.8 1226.9,169.8 1245.0,156.2 C1263.1,142.6 1285.6,137.3 1304.0,136.7 C1322.4,136.0 1343.3,139.8 1355.5,152.3 C1367.6,164.8 1374.2,188.5 1377.0,211.9 C1379.7,235.3 1370.0,270.5 1372.2,292.7 C1374.3,314.9 1379.2,332.6 1389.8,345.0 C1400.4,357.5 1437.2,359.4 1435.7,367.2 C1434.3,375.0 1403.9,385.5 1381.2,391.6 C1358.5,397.7 1321.5,394.4 1299.5,403.7 C1277.4,413.0 1258.4,429.8 1249.0,447.6 C1239.6,465.4 1248.7,490.9 1243.1,510.5 C1237.6,530.2 1231.3,551.1 1215.8,565.4 C1200.3,579.6 1171.7,593.2 1150.2,596.0 C1128.7,598.8 1105.1,589.4 1086.9,582.2 C1068.8,575.0 1048.7,563.7 1041.3,552.9 C1033.9,542.0 1036.2,533.6 1042.5,517.0 Z"/><path d="M1046.6,516.9 C1051.6,500.8 1058.1,474.0 1072.1,452.0 C1086.1,429.9 1113.8,408.9 1130.7,384.7 C1147.5,360.4 1160.3,334.1 1173.2,306.4 C1186.0,278.7 1195.0,242.9 1207.9,218.5 C1220.9,194.0 1236.2,172.2 1251.0,159.6 C1265.7,147.1 1281.4,142.9 1296.4,143.0 C1311.4,143.2 1329.1,147.7 1341.1,160.5 C1353.2,173.4 1363.1,197.0 1368.7,220.0 C1374.4,243.0 1370.6,277.2 1375.0,298.6 C1379.4,320.0 1385.6,336.9 1395.1,348.5 C1404.5,360.1 1436.1,361.4 1431.8,368.4 C1427.5,375.3 1393.1,385.0 1369.3,390.4 C1345.5,395.9 1309.3,392.3 1289.2,401.1 C1269.0,410.0 1255.0,426.2 1248.6,443.5 C1242.2,460.8 1255.0,485.8 1250.8,505.1 C1246.6,524.4 1239.9,545.2 1223.4,559.3 C1206.8,573.4 1174.7,586.9 1151.4,589.8 C1128.1,592.8 1102.0,583.8 1083.7,576.9 C1065.5,570.0 1048.2,558.5 1042.0,548.4 C1035.8,538.4 1041.6,532.9 1046.6,516.9 Z"/><path d="M1055.9,509.0 C1060.6,492.9 1074.3,463.8 1089.5,441.3 C1104.8,418.9 1132.1,397.7 1147.1,374.4 C1162.2,351.0 1170.5,326.5 1179.6,301.2 C1188.8,275.8 1192.2,243.8 1202.0,222.4 C1211.8,201.1 1224.5,183.0 1238.6,173.0 C1252.7,163.0 1270.1,161.2 1286.6,162.5 C1303.2,163.7 1324.1,168.5 1337.7,180.3 C1351.4,192.2 1362.7,213.2 1368.6,233.4 C1374.6,253.6 1369.7,283.5 1373.2,301.5 C1376.7,319.5 1381.0,332.4 1389.8,341.5 C1398.6,350.5 1429.5,349.8 1426.1,355.8 C1422.8,361.8 1391.8,371.3 1369.7,377.7 C1347.6,384.0 1313.7,382.9 1293.5,393.9 C1273.3,404.9 1257.4,424.0 1248.8,443.5 C1240.2,463.0 1248.2,490.3 1241.9,510.8 C1235.6,531.3 1226.9,552.7 1211.1,566.5 C1195.2,580.4 1166.6,592.5 1147.0,593.7 C1127.4,595.0 1107.5,583.6 1093.2,574.3 C1078.9,565.0 1067.4,548.9 1061.2,538.0 C1055.0,527.1 1051.2,525.1 1055.9,509.0 Z"/><path d="M1050.5,508.3 C1054.5,491.9 1070.7,466.1 1087.3,444.6 C1104.0,423.1 1134.5,402.4 1150.5,379.2 C1166.6,356.1 1175.1,331.2 1183.6,305.5 C1192.2,279.9 1193.0,247.1 1201.9,225.2 C1210.8,203.3 1222.4,184.4 1237.1,174.0 C1251.8,163.6 1271.9,161.4 1290.0,162.7 C1308.0,164.1 1331.7,169.6 1345.3,182.1 C1358.9,194.7 1368.5,216.9 1371.7,238.0 C1374.8,259.1 1364.3,290.0 1364.3,308.7 C1364.4,327.4 1364.3,341.2 1371.9,350.4 C1379.5,359.5 1411.1,358.6 1410.1,363.7 C1409.1,368.8 1384.5,376.4 1365.9,380.9 C1347.3,385.4 1317.3,382.0 1298.5,390.9 C1279.7,399.8 1262.4,416.3 1253.0,434.1 C1243.6,451.9 1248.6,477.6 1241.9,497.6 C1235.3,517.6 1227.5,539.4 1213.1,554.1 C1198.8,568.9 1174.1,583.0 1155.8,586.2 C1137.5,589.5 1118.6,581.0 1103.2,573.8 C1087.8,566.5 1072.2,553.6 1063.4,542.7 C1054.6,531.8 1046.5,524.6 1050.5,508.3 Z"/><path d="M1061.2,489.7 C1065.7,474.0 1078.4,449.7 1093.3,431.8 C1108.2,413.9 1135.1,400.7 1150.8,382.2 C1166.4,363.8 1176.7,344.5 1187.1,321.1 C1197.6,297.7 1203.1,264.4 1213.6,241.6 C1224.1,218.9 1236.9,196.2 1250.1,184.6 C1263.3,172.9 1278.8,170.2 1292.8,171.7 C1306.8,173.3 1323.8,181.6 1334.2,194.1 C1344.6,206.6 1352.0,228.2 1355.1,246.9 C1358.1,265.6 1350.9,290.7 1352.5,306.3 C1354.0,321.9 1356.6,331.6 1364.4,340.4 C1372.1,349.3 1400.9,351.5 1399.1,359.5 C1397.2,367.5 1371.1,381.2 1353.2,388.5 C1335.2,395.7 1307.3,394.8 1291.3,402.9 C1275.4,410.9 1263.6,422.5 1257.5,436.7 C1251.4,451.0 1260.2,470.8 1254.8,488.2 C1249.4,505.7 1240.8,526.9 1225.1,541.6 C1209.4,556.2 1180.9,572.6 1160.5,576.1 C1140.2,579.7 1118.8,571.1 1103.1,562.8 C1087.4,554.4 1073.5,538.2 1066.5,526.0 C1059.5,513.9 1056.8,505.4 1061.2,489.7 Z"/><path d="M1227.9,653.3 C1232.3,633.7 1235.1,618.9 1250.5,606.0 C1265.9,593.2 1298.7,576.4 1320.2,576.0 C1341.8,575.6 1366.3,603.2 1380.0,603.5 C1393.8,603.8 1390.4,583.6 1402.8,577.7 C1415.1,571.9 1438.3,561.8 1454.2,568.2 C1470.2,574.7 1488.0,596.9 1498.7,616.5 C1509.4,636.2 1520.6,665.9 1518.6,686.2 C1516.5,706.4 1495.2,720.1 1486.3,738.0 C1477.4,755.8 1476.0,775.1 1465.1,793.3 C1454.2,811.4 1440.7,834.0 1420.9,846.8 C1401.1,859.5 1366.6,869.1 1346.2,869.7 C1325.8,870.3 1313.5,862.8 1298.5,850.5 C1283.6,838.2 1269.1,817.3 1256.6,796.2 C1244.2,775.0 1228.8,747.3 1224.0,723.5 C1219.2,699.7 1223.4,672.9 1227.9,653.3 Z"/><path d="M1230.3,658.3 C1235.5,640.7 1240.7,620.6 1257.1,606.9 C1273.5,593.2 1306.9,576.5 1328.7,576.1 C1350.4,575.8 1374.6,603.6 1387.7,604.6 C1400.7,605.7 1396.4,587.6 1406.9,582.4 C1417.4,577.2 1437.2,567.4 1450.6,573.3 C1464.0,579.2 1478.6,599.4 1487.4,617.8 C1496.2,636.3 1505.6,664.3 1503.4,684.2 C1501.2,704.0 1481.4,718.4 1474.1,736.9 C1466.8,755.4 1467.9,776.4 1459.7,795.1 C1451.4,813.8 1441.5,836.9 1424.4,849.0 C1407.4,861.0 1376.3,868.7 1357.5,867.3 C1338.6,865.9 1326.7,854.9 1311.4,840.6 C1296.0,826.3 1279.8,802.9 1265.5,781.5 C1251.3,760.1 1231.9,732.7 1226.0,712.2 C1220.1,691.6 1225.1,675.8 1230.3,658.3 Z"/><path d="M1233.0,661.1 C1234.9,644.2 1236.2,632.7 1250.2,621.0 C1264.2,609.4 1295.2,593.1 1316.7,591.0 C1338.2,589.0 1363.8,611.3 1379.0,608.9 C1394.2,606.5 1394.5,583.8 1407.9,576.5 C1421.3,569.2 1444.5,558.5 1459.4,565.1 C1474.3,571.7 1489.3,595.1 1497.3,616.2 C1505.2,637.3 1511.8,670.0 1507.0,691.9 C1502.3,713.9 1478.7,730.3 1468.6,748.1 C1458.5,765.9 1456.2,783.5 1446.6,798.8 C1437.0,814.1 1427.0,831.1 1411.1,839.7 C1395.3,848.3 1367.7,852.4 1351.7,850.4 C1335.8,848.4 1327.8,839.3 1315.3,827.7 C1302.8,816.1 1289.5,798.6 1276.7,781.1 C1263.9,763.5 1245.8,742.5 1238.6,722.5 C1231.3,702.6 1231.0,678.0 1233.0,661.1 Z"/><path d="M1241.1,669.7 C1245.5,655.3 1248.7,638.6 1262.1,624.7 C1275.6,610.8 1302.7,590.2 1321.8,586.3 C1340.9,582.3 1362.8,602.6 1376.6,601.2 C1390.4,599.9 1391.1,582.0 1404.6,578.2 C1418.0,574.4 1442.4,569.9 1457.1,578.5 C1471.9,587.2 1486.0,611.1 1492.9,630.3 C1499.8,649.4 1503.8,676.0 1498.7,693.5 C1493.6,711.1 1470.7,720.7 1462.3,735.7 C1454.0,750.7 1455.7,767.1 1448.7,783.7 C1441.7,800.2 1435.5,822.6 1420.4,834.9 C1405.3,847.3 1376.5,857.6 1358.1,857.8 C1339.8,858.0 1325.7,849.3 1310.3,836.3 C1294.9,823.2 1278.1,800.2 1265.7,779.4 C1253.3,758.5 1239.8,729.4 1235.7,711.1 C1231.6,692.8 1236.7,684.1 1241.1,669.7 Z"/><path d="M1248.3,658.8 C1252.1,641.0 1255.1,628.5 1267.7,617.2 C1280.2,605.9 1305.6,591.2 1323.6,590.9 C1341.7,590.5 1362.7,614.4 1376.1,615.1 C1389.4,615.7 1390.8,599.0 1403.7,594.7 C1416.6,590.3 1439.8,582.7 1453.5,589.0 C1467.2,595.3 1479.7,615.2 1485.8,632.5 C1492.0,649.8 1495.2,675.6 1490.5,692.7 C1485.7,709.8 1464.6,720.8 1457.3,735.2 C1449.9,749.6 1452.6,764.8 1446.3,779.1 C1439.9,793.5 1434.0,811.4 1419.2,821.4 C1404.4,831.4 1375.7,838.8 1357.7,839.1 C1339.7,839.5 1325.5,833.4 1311.1,823.7 C1296.6,814.0 1281.8,797.7 1270.9,781.0 C1259.9,764.4 1249.0,744.2 1245.2,723.8 C1241.5,703.4 1244.6,676.6 1248.3,658.8 Z"/><path d="M1240.2,662.4 C1244.3,646.7 1250.9,630.6 1266.5,618.3 C1282.1,606.1 1313.5,590.3 1334.0,588.9 C1354.5,587.6 1377.3,609.9 1389.5,610.2 C1401.6,610.4 1398.1,594.2 1407.0,590.4 C1415.9,586.7 1432.2,580.3 1443.1,587.8 C1453.9,595.2 1465.2,616.5 1472.1,635.0 C1479.1,653.5 1486.7,680.6 1484.6,698.6 C1482.5,716.7 1465.6,728.7 1459.6,743.3 C1453.6,757.8 1455.4,772.6 1448.5,786.0 C1441.7,799.4 1433.5,815.5 1418.6,823.7 C1403.7,831.9 1376.1,836.8 1359.1,835.2 C1342.1,833.6 1330.7,825.2 1316.7,814.1 C1302.8,803.0 1287.8,785.4 1275.4,768.5 C1263.0,751.6 1248.0,730.3 1242.1,712.6 C1236.3,694.9 1236.2,678.1 1240.2,662.4 Z"/><path d="M118.7,1509.1 C94.2,1523.7 97.4,1547.5 86.6,1566.1 C75.9,1584.6 53.1,1604.9 54.1,1620.4 C55.1,1635.9 77.5,1655.8 92.5,1659.4 C107.5,1662.9 130.9,1647.7 144.2,1641.5 C157.5,1635.2 171.5,1634.3 172.2,1621.8 C172.9,1609.3 149.8,1583.0 148.6,1566.5 C147.4,1550.0 150.7,1537.3 164.9,1522.6 C179.1,1507.9 241.4,1480.5 233.7,1478.2 C226.0,1476.0 143.3,1494.4 118.7,1509.1 Z"/><path d="M115.8,1505.3 C88.5,1521.8 85.5,1542.8 72.3,1561.2 C59.1,1579.6 34.5,1599.1 36.6,1615.6 C38.7,1632.1 66.1,1654.4 85.1,1660.2 C104.1,1666.0 133.8,1654.4 150.5,1650.5 C167.2,1646.6 184.1,1649.1 185.2,1636.7 C186.3,1624.3 160.1,1595.8 157.1,1576.2 C154.0,1556.6 153.9,1538.3 167.0,1519.2 C180.1,1500.2 244.1,1464.3 235.6,1461.9 C227.0,1459.6 143.0,1488.7 115.8,1505.3 Z"/><path d="M127.3,1499.4 C104.7,1514.0 98.9,1534.5 84.9,1553.6 C70.9,1572.6 43.1,1595.5 43.0,1613.9 C42.9,1632.3 66.8,1657.3 84.4,1664.1 C102.0,1670.9 132.0,1659.6 148.7,1654.6 C165.5,1649.6 183.9,1648.4 184.9,1634.3 C186.0,1620.2 159.7,1589.7 155.1,1569.9 C150.5,1550.1 146.5,1532.7 157.4,1515.5 C168.3,1498.2 225.6,1469.1 220.6,1466.4 C215.5,1463.8 149.9,1484.9 127.3,1499.4 Z"/><path d="M116.7,1507.7 C92.5,1522.8 91.8,1547.5 80.6,1566.6 C69.5,1585.7 46.9,1606.5 49.6,1622.3 C52.2,1638.2 78.7,1658.4 96.5,1661.9 C114.4,1665.3 141.9,1649.7 156.8,1643.1 C171.6,1636.6 186.1,1635.3 185.6,1622.4 C185.1,1609.4 157.9,1582.4 153.6,1565.5 C149.4,1548.6 148.1,1535.7 160.2,1520.8 C172.2,1505.9 233.0,1478.2 225.7,1476.0 C218.5,1473.8 140.9,1492.6 116.7,1507.7 Z"/><path d="M122.6,1506.5 C98.3,1521.8 98.5,1547.2 86.6,1566.2 C74.8,1585.2 50.7,1605.1 51.7,1620.7 C52.8,1636.2 76.8,1655.8 92.7,1659.5 C108.6,1663.2 133.7,1648.3 147.1,1642.9 C160.5,1637.5 173.9,1638.7 173.3,1627.2 C172.7,1615.7 146.2,1590.5 143.6,1573.8 C141.0,1557.1 142.7,1543.7 157.6,1527.2 C172.5,1510.6 238.6,1478.1 232.8,1474.6 C226.9,1471.2 147.0,1491.2 122.6,1506.5 Z"/><path d="M125.6,1497.2 C100.7,1511.2 92.6,1541.2 78.4,1562.7 C64.1,1584.1 38.1,1608.4 40.0,1625.9 C41.9,1643.4 70.6,1664.4 89.9,1667.8 C109.2,1671.3 140.3,1654.1 156.0,1646.5 C171.6,1638.9 185.3,1635.6 183.6,1622.1 C182.0,1608.5 151.1,1581.6 146.0,1565.0 C140.8,1548.5 139.0,1537.0 152.7,1522.7 C166.3,1508.3 232.3,1483.2 227.8,1479.0 C223.3,1474.7 150.5,1483.3 125.6,1497.2 Z"/><path d="M1588.0,1221.4 C1600.7,1243.4 1596.2,1349.1 1590.5,1405.0 C1584.9,1460.8 1570.2,1509.6 1554.2,1556.4 C1538.2,1603.2 1514.2,1650.5 1494.5,1685.9 C1474.9,1721.3 1455.7,1749.6 1436.5,1768.7 C1417.3,1787.8 1400.1,1795.7 1379.3,1800.5 C1358.6,1805.3 1322.8,1805.0 1312.0,1797.5 C1301.2,1790.0 1307.2,1772.5 1314.5,1755.4 C1321.8,1738.3 1340.7,1714.7 1355.8,1694.8 C1370.9,1674.9 1389.1,1658.7 1405.3,1635.9 C1421.5,1613.2 1442.4,1589.0 1453.1,1558.1 C1463.9,1527.2 1465.9,1484.7 1469.8,1450.4 C1473.7,1416.1 1469.0,1381.9 1476.4,1352.4 C1483.9,1322.9 1495.9,1295.1 1514.5,1273.3 C1533.1,1251.5 1575.4,1199.5 1588.0,1221.4 Z"/><path d="M1586.7,1209.8 C1599.5,1232.5 1596.5,1343.0 1591.6,1400.8 C1586.7,1458.5 1572.8,1509.0 1557.4,1556.4 C1541.9,1603.8 1518.3,1650.3 1498.9,1685.2 C1479.5,1720.0 1460.3,1746.7 1441.0,1765.6 C1421.6,1784.5 1404.0,1792.6 1382.7,1798.8 C1361.4,1804.9 1324.6,1807.6 1313.0,1802.6 C1301.5,1797.5 1306.7,1783.7 1313.4,1768.4 C1320.0,1753.0 1338.2,1730.7 1352.9,1710.3 C1367.5,1689.8 1385.2,1671.2 1401.2,1645.6 C1417.2,1620.1 1438.1,1591.2 1448.9,1556.9 C1459.7,1522.7 1461.9,1476.3 1466.1,1440.2 C1470.3,1404.0 1466.1,1369.4 1474.2,1340.2 C1482.3,1310.9 1495.9,1286.6 1514.7,1264.8 C1533.4,1243.1 1573.9,1187.1 1586.7,1209.8 Z"/><path d="M1582.9,1226.7 C1594.4,1248.8 1595.1,1350.1 1592.1,1404.0 C1589.2,1457.9 1579.8,1504.8 1565.4,1550.1 C1551.0,1595.5 1526.9,1641.5 1505.6,1676.3 C1484.3,1711.0 1459.6,1739.1 1437.5,1758.5 C1415.5,1778.0 1394.5,1786.8 1373.1,1792.8 C1351.7,1798.7 1318.3,1800.1 1308.9,1794.2 C1299.4,1788.3 1308.8,1772.8 1316.4,1757.3 C1324.1,1741.8 1341.4,1720.0 1354.8,1701.3 C1368.1,1682.5 1381.5,1667.2 1396.3,1644.8 C1411.0,1622.3 1431.0,1598.1 1443.3,1566.8 C1455.7,1535.5 1463.0,1492.1 1470.2,1456.8 C1477.5,1421.4 1477.9,1385.7 1486.8,1354.7 C1495.6,1323.8 1507.3,1292.6 1523.3,1271.3 C1539.4,1250.0 1571.4,1204.6 1582.9,1226.7 Z"/><path d="M1583.4,1214.9 C1595.4,1236.5 1594.9,1345.5 1591.6,1402.5 C1588.4,1459.5 1577.9,1510.0 1563.8,1556.9 C1549.7,1603.9 1527.3,1649.9 1507.1,1684.2 C1487.0,1718.4 1464.9,1744.1 1442.9,1762.3 C1421.0,1780.6 1398.9,1787.9 1375.5,1793.6 C1352.2,1799.4 1314.1,1802.0 1302.7,1797.1 C1291.4,1792.1 1298.8,1779.0 1307.5,1764.1 C1316.1,1749.1 1338.1,1727.5 1354.6,1707.4 C1371.1,1687.3 1390.4,1668.7 1406.5,1643.5 C1422.6,1618.3 1441.6,1589.6 1451.3,1556.2 C1460.9,1522.7 1460.8,1477.7 1464.5,1442.7 C1468.3,1407.7 1464.5,1374.7 1473.7,1346.4 C1482.9,1318.2 1501.5,1295.2 1519.8,1273.3 C1538.1,1251.3 1571.4,1193.4 1583.4,1214.9 Z"/><path d="M1588.8,1219.5 C1601.5,1242.0 1604.2,1341.2 1600.9,1395.1 C1597.6,1448.9 1585.0,1495.4 1568.9,1542.7 C1552.8,1590.1 1526.5,1640.7 1504.4,1679.2 C1482.3,1717.7 1458.4,1751.7 1436.3,1773.5 C1414.2,1795.4 1393.8,1805.4 1371.7,1810.4 C1349.6,1815.3 1314.0,1812.3 1303.9,1803.3 C1293.8,1794.4 1302.4,1774.1 1310.9,1756.6 C1319.5,1739.1 1339.9,1717.0 1355.2,1698.4 C1370.4,1679.9 1387.4,1667.4 1402.6,1645.4 C1417.8,1623.4 1436.3,1599.4 1446.5,1566.6 C1456.6,1533.8 1458.2,1486.2 1463.3,1448.4 C1468.4,1410.6 1466.7,1371.2 1476.9,1339.8 C1487.2,1308.4 1506.0,1279.9 1524.7,1259.9 C1543.3,1239.8 1576.1,1197.0 1588.8,1219.5 Z"/><path d="M1596.5,1205.5 C1609.4,1228.4 1600.6,1335.8 1593.8,1393.8 C1587.0,1451.8 1571.2,1504.3 1555.7,1553.6 C1540.1,1602.8 1518.7,1652.8 1500.4,1689.5 C1482.1,1726.2 1465.4,1754.6 1445.9,1773.5 C1426.5,1792.4 1407.2,1798.7 1383.6,1802.9 C1360.0,1807.1 1318.4,1805.8 1304.5,1798.5 C1290.5,1791.1 1293.1,1774.7 1299.8,1758.8 C1306.5,1743.0 1327.5,1721.9 1344.8,1703.4 C1362.1,1684.9 1385.1,1670.4 1403.7,1647.6 C1422.3,1624.7 1445.3,1599.4 1456.4,1566.3 C1467.5,1533.1 1467.3,1486.4 1470.3,1448.8 C1473.2,1411.1 1466.3,1372.4 1474.1,1340.4 C1481.8,1308.3 1496.3,1278.9 1516.7,1256.4 C1537.1,1234.0 1583.7,1182.6 1596.5,1205.5 Z"/><path d="M1645.5,1745.8 C1627.4,1723.9 1568.7,1764.7 1538.3,1773.3 C1507.9,1782.0 1477.0,1785.9 1462.9,1797.7 C1448.8,1809.6 1451.8,1828.6 1453.8,1844.4 C1455.9,1860.3 1457.9,1880.0 1475.0,1892.9 C1492.0,1905.8 1527.5,1919.9 1556.2,1921.9 C1584.8,1924.0 1632.1,1934.6 1647.0,1905.3 C1661.9,1875.9 1663.6,1767.8 1645.5,1745.8 Z"/><path d="M1640.5,1744.4 C1624.5,1725.3 1573.6,1768.9 1546.0,1779.8 C1518.5,1790.8 1489.9,1797.1 1475.4,1810.0 C1460.9,1822.9 1460.1,1842.1 1458.9,1857.0 C1457.7,1872.0 1453.8,1889.3 1468.1,1899.7 C1482.4,1910.1 1515.6,1920.4 1544.5,1919.6 C1573.5,1918.7 1626.0,1923.9 1642.0,1894.7 C1658.0,1865.5 1656.5,1763.6 1640.5,1744.4 Z"/><path d="M1638.0,1751.3 C1621.1,1730.9 1561.6,1769.7 1533.0,1777.8 C1504.5,1785.8 1478.5,1788.7 1467.0,1799.6 C1455.5,1810.6 1462.0,1828.4 1464.3,1843.3 C1466.5,1858.2 1466.1,1876.9 1480.3,1889.1 C1494.5,1901.3 1523.9,1914.9 1549.6,1916.7 C1575.4,1918.5 1620.0,1927.6 1634.8,1900.0 C1649.5,1872.4 1655.0,1771.6 1638.0,1751.3 Z"/><path d="M1642.8,1744.5 C1627.7,1721.9 1574.1,1763.3 1546.2,1772.3 C1518.3,1781.2 1489.7,1785.6 1475.4,1798.1 C1461.2,1810.5 1461.8,1830.5 1460.9,1847.0 C1460.0,1863.6 1456.5,1884.1 1470.2,1897.4 C1483.9,1910.7 1515.5,1925.0 1543.2,1926.7 C1570.9,1928.4 1619.9,1938.2 1636.6,1907.9 C1653.2,1877.5 1657.9,1767.1 1642.8,1744.5 Z"/><path d="M1641.3,1744.3 C1624.4,1721.8 1562.9,1763.3 1533.4,1772.3 C1504.0,1781.4 1476.5,1786.0 1464.7,1798.6 C1452.9,1811.2 1460.0,1831.3 1462.7,1847.9 C1465.4,1864.6 1466.4,1885.1 1481.1,1898.3 C1495.8,1911.5 1525.3,1925.6 1551.0,1927.2 C1576.6,1928.7 1619.8,1938.0 1634.9,1907.5 C1650.0,1877.0 1658.2,1766.8 1641.3,1744.3 Z"/><path d="M1643.7,1746.4 C1628.6,1724.7 1572.6,1765.8 1543.9,1775.0 C1515.2,1784.1 1485.9,1789.0 1471.5,1801.3 C1457.1,1813.7 1457.9,1833.0 1457.6,1849.0 C1457.4,1864.9 1455.7,1884.4 1470.0,1896.9 C1484.3,1909.5 1516.1,1922.8 1543.5,1924.1 C1570.9,1925.5 1617.5,1934.8 1634.2,1905.2 C1650.9,1875.5 1658.7,1768.1 1643.7,1746.4 Z"/><path d="M324.9,1150.8 C323.3,1174.8 308.4,1246.4 315.3,1294.8 C322.2,1343.2 346.7,1398.1 366.5,1441.0 C386.3,1483.8 408.8,1515.7 434.2,1551.8 C459.7,1587.9 486.8,1627.0 519.3,1657.7 C551.8,1688.4 587.7,1715.9 629.2,1735.8 C670.8,1755.7 715.1,1768.2 768.6,1776.9 C822.0,1785.6 896.4,1788.5 950.0,1788.0 C1003.6,1787.4 1055.6,1781.3 1090.2,1773.5 C1124.7,1765.6 1137.9,1757.5 1157.2,1740.9 C1176.6,1724.3 1190.6,1695.6 1206.4,1674.1 C1222.3,1652.6 1231.7,1630.0 1252.5,1611.9 C1273.4,1593.7 1308.3,1583.6 1331.6,1565.2 C1354.9,1546.8 1377.3,1528.0 1392.3,1501.7 C1407.2,1475.4 1414.1,1442.8 1421.4,1407.3 C1428.6,1371.7 1432.6,1330.6 1435.6,1288.4 C1438.5,1246.2 1437.5,1202.8 1439.1,1154.0 C1440.8,1105.2 1441.0,1043.3 1445.6,995.6 C1450.2,947.8 1460.5,902.9 1466.8,867.6 C1473.0,832.3 1480.4,797.7 1483.2,783.8"/><path d="M346.8,1153.1 C344.6,1176.3 331.3,1244.3 334.1,1292.3 C336.9,1340.3 349.6,1396.2 363.6,1441.1 C377.5,1486.0 392.6,1523.4 417.6,1561.6 C442.7,1599.9 475.7,1641.5 513.6,1670.6 C551.4,1699.8 599.0,1721.6 644.8,1736.5 C690.7,1751.4 737.6,1755.0 788.7,1760.1 C839.8,1765.2 904.1,1765.9 951.4,1766.9 C998.6,1767.9 1040.2,1768.9 1071.9,1766.2 C1103.7,1763.5 1118.7,1763.7 1142.0,1750.6 C1165.4,1737.4 1190.6,1709.8 1212.0,1687.3 C1233.4,1664.8 1249.5,1636.6 1270.5,1615.6 C1291.5,1594.5 1320.0,1580.2 1337.9,1560.7 C1355.7,1541.3 1366.7,1524.2 1377.3,1498.9 C1388.0,1473.6 1392.4,1444.1 1401.5,1408.7 C1410.7,1373.4 1423.9,1330.6 1432.5,1286.6 C1441.1,1242.7 1449.3,1194.5 1453.2,1144.8 C1457.2,1095.1 1455.5,1033.2 1456.3,988.3 C1457.1,943.3 1456.9,905.6 1458.1,875.2 C1459.3,844.8 1462.5,817.3 1463.3,805.7"/><path d="M340.4,1142.4 C337.6,1166.9 320.7,1240.1 323.4,1289.7 C326.2,1339.3 341.8,1396.2 357.0,1440.2 C372.2,1484.3 389.5,1517.3 414.6,1554.0 C439.7,1590.6 471.1,1629.7 507.9,1660.2 C544.7,1690.6 589.5,1717.4 635.5,1736.8 C681.5,1756.2 729.9,1768.0 783.8,1776.6 C837.8,1785.1 908.4,1788.2 959.2,1788.0 C1010.0,1787.9 1056.5,1782.8 1088.9,1775.8 C1121.2,1768.7 1133.8,1761.7 1153.5,1745.5 C1173.1,1729.4 1190.2,1701.0 1206.7,1679.0 C1223.3,1657.0 1233.1,1633.2 1252.6,1613.6 C1272.1,1594.0 1302.7,1581.4 1323.8,1561.2 C1345.0,1541.0 1364.2,1519.8 1379.7,1492.2 C1395.3,1464.7 1406.0,1431.2 1417.4,1395.9 C1428.7,1360.7 1441.1,1321.0 1447.9,1280.8 C1454.7,1240.6 1457.4,1200.6 1458.3,1154.8 C1459.3,1109.0 1453.9,1051.1 1453.6,1005.9 C1453.2,960.7 1454.3,918.3 1456.4,883.7 C1458.4,849.2 1464.0,812.9 1465.6,798.8"/><path d="M331.5,1141.9 C331.3,1168.7 322.6,1250.0 330.5,1303.0 C338.4,1356.1 361.1,1416.7 379.0,1460.0 C397.0,1503.3 414.9,1531.1 438.2,1563.1 C461.6,1595.1 486.9,1625.4 519.0,1651.9 C551.1,1678.3 588.6,1702.5 630.8,1721.9 C673.0,1741.3 718.7,1757.6 772.2,1768.2 C825.7,1778.7 898.9,1785.0 951.7,1785.0 C1004.6,1784.9 1055.2,1776.8 1089.5,1767.9 C1123.7,1759.0 1137.7,1747.8 1157.4,1731.8 C1177.1,1715.8 1192.1,1690.1 1207.6,1672.0 C1223.1,1654.0 1231.1,1638.7 1250.3,1623.3 C1269.6,1608.0 1300.9,1600.1 1323.0,1580.0 C1345.2,1559.9 1366.8,1534.1 1383.0,1502.8 C1399.1,1471.4 1410.0,1430.1 1419.8,1391.7 C1429.5,1353.3 1437.8,1311.9 1441.4,1272.2 C1445.0,1232.5 1442.4,1197.2 1441.4,1153.5 C1440.3,1109.8 1433.8,1055.2 1435.1,1010.0 C1436.3,964.9 1442.5,919.1 1449.0,882.7 C1455.6,846.3 1470.0,806.8 1474.2,791.7"/><path d="M352.4,1154.6 C350.9,1178.4 339.0,1249.4 343.5,1297.2 C348.0,1345.0 364.6,1399.3 379.5,1441.4 C394.3,1483.4 409.7,1514.4 432.4,1549.4 C455.0,1584.5 482.2,1622.2 515.5,1651.9 C548.8,1681.5 589.1,1708.0 632.1,1727.5 C675.0,1746.9 720.7,1759.5 773.5,1768.7 C826.2,1777.9 896.7,1782.0 948.6,1782.7 C1000.5,1783.3 1049.8,1779.2 1084.8,1772.7 C1119.9,1766.2 1136.6,1759.5 1158.8,1743.6 C1181.1,1727.8 1200.8,1699.5 1218.2,1677.5 C1235.5,1655.6 1245.1,1631.6 1263.0,1611.9 C1280.9,1592.2 1307.8,1579.5 1325.6,1559.4 C1343.4,1539.2 1357.6,1518.3 1369.7,1491.2 C1381.7,1464.1 1388.6,1431.4 1398.0,1396.9 C1407.5,1362.4 1418.8,1323.6 1426.3,1284.1 C1433.8,1244.6 1439.1,1205.3 1442.9,1160.0 C1446.8,1114.7 1446.2,1057.3 1449.5,1012.3 C1452.7,967.3 1458.2,924.7 1462.6,890.1 C1467.0,855.5 1473.6,818.9 1475.8,804.7"/><path d="M334.3,1151.0 C332.2,1174.4 316.5,1242.6 321.4,1291.2 C326.4,1339.8 345.7,1397.2 363.8,1442.5 C382.0,1487.8 403.0,1525.2 430.3,1563.0 C457.5,1600.8 490.4,1641.0 527.1,1669.5 C563.9,1698.0 607.0,1719.2 650.7,1733.9 C694.3,1748.6 738.5,1752.7 788.8,1757.8 C839.1,1763.0 904.7,1763.8 952.4,1764.8 C1000.1,1765.7 1043.6,1766.1 1074.9,1763.4 C1106.2,1760.6 1119.2,1760.9 1140.2,1748.2 C1161.1,1735.5 1181.3,1709.2 1200.6,1687.3 C1219.9,1665.4 1233.9,1638.1 1256.0,1616.9 C1278.1,1595.6 1311.1,1580.1 1333.2,1559.8 C1355.2,1539.5 1374.1,1520.5 1388.4,1494.9 C1402.6,1469.3 1410.3,1440.3 1418.7,1406.1 C1427.1,1372.0 1435.1,1332.4 1438.9,1290.0 C1442.7,1247.7 1442.1,1201.7 1441.6,1152.1 C1441.0,1102.5 1435.2,1038.9 1435.7,992.4 C1436.1,945.9 1439.7,904.5 1444.3,873.0 C1448.9,841.6 1460.1,815.1 1463.2,803.5"/><path d="M1431.9,32.1 C1437.7,53.2 1462.0,120.4 1467.1,158.9 C1472.3,197.4 1468.8,230.6 1462.6,263.0 C1456.3,295.4 1424.9,330.0 1429.5,353.4 C1434.0,376.8 1469.4,396.8 1490.0,403.5 C1510.6,410.1 1537.7,403.9 1553.1,393.5 C1568.6,383.1 1576.2,367.2 1582.8,340.9 C1589.5,314.5 1591.5,268.2 1593.1,235.3 C1594.7,202.3 1587.2,170.9 1592.6,143.1 C1598.0,115.3 1620.1,80.9 1625.6,68.5"/><path d="M1421.4,28.0 C1428.1,46.9 1454.1,103.1 1461.8,141.0 C1469.4,178.9 1470.1,218.2 1467.3,255.6 C1464.5,292.9 1437.9,338.1 1444.9,365.1 C1451.9,392.1 1488.7,413.6 1509.4,417.8 C1530.1,421.9 1555.8,406.2 1569.1,390.1 C1582.3,373.9 1586.1,348.9 1589.1,320.8 C1592.0,292.7 1588.9,249.6 1586.7,221.4 C1584.6,193.3 1573.0,173.5 1575.9,151.8 C1578.8,130.1 1599.5,101.2 1604.2,91.1"/><path d="M1438.6,35.2 C1445.6,53.2 1473.5,107.4 1480.4,143.3 C1487.3,179.3 1485.6,214.9 1480.1,250.8 C1474.6,286.8 1443.9,331.5 1447.6,359.2 C1451.3,387.0 1484.2,411.5 1502.4,417.4 C1520.5,423.4 1544.1,410.5 1556.5,395.1 C1569.0,379.7 1573.1,354.1 1576.9,324.9 C1580.7,295.8 1579.8,249.7 1579.5,220.1 C1579.1,190.5 1570.1,169.0 1574.7,147.1 C1579.4,125.2 1601.7,98.5 1607.1,88.8"/><path d="M1438.3,34.2 C1445.3,55.1 1474.1,120.6 1479.8,159.7 C1485.6,198.8 1480.5,235.2 1472.8,268.9 C1465.1,302.6 1430.8,339.5 1433.7,362.0 C1436.6,384.4 1469.9,400.6 1490.3,403.4 C1510.7,406.3 1539.4,392.7 1556.1,379.1 C1572.7,365.6 1583.2,346.8 1590.4,321.9 C1597.7,297.1 1599.7,257.5 1599.6,230.2 C1599.4,202.9 1587.8,181.4 1589.5,158.2 C1591.2,135.0 1606.4,102.1 1609.7,90.9"/><path d="M1421.4,20.0 C1428.2,41.3 1453.3,106.8 1462.0,148.1 C1470.6,189.4 1475.4,230.8 1473.4,267.8 C1471.3,304.7 1444.9,345.7 1449.7,369.7 C1454.5,393.8 1485.4,410.0 1502.3,412.2 C1519.3,414.3 1539.0,397.9 1551.6,382.7 C1564.1,367.5 1570.6,346.7 1577.7,320.9 C1584.8,295.2 1591.3,255.6 1594.2,228.4 C1597.1,201.1 1591.3,180.7 1595.1,157.5 C1599.0,134.2 1613.5,100.3 1617.2,88.9"/><path d="M1432.3,40.5 C1438.0,60.4 1461.9,122.7 1467.0,159.7 C1472.0,196.7 1468.8,230.2 1462.8,262.5 C1456.8,294.7 1426.2,330.6 1430.8,353.4 C1435.5,376.1 1470.3,394.0 1490.6,398.8 C1511.0,403.6 1537.6,393.3 1552.9,381.9 C1568.1,370.5 1575.6,354.3 1582.1,330.4 C1588.7,306.5 1590.5,266.8 1592.1,238.4 C1593.7,210.0 1586.2,185.8 1591.5,160.2 C1596.8,134.7 1618.5,97.6 1623.9,85.1"/><path d="M1508.7,629.0 C1517.1,641.4 1546.7,675.7 1559.4,703.2 C1572.0,730.6 1578.2,762.4 1584.5,793.7 C1590.8,825.0 1591.8,863.4 1597.1,890.7 C1602.4,918.0 1613.2,946.4 1616.4,957.5"/><path d="M1493.4,609.9 C1501.2,624.3 1526.8,663.3 1540.0,696.1 C1553.2,728.8 1562.8,771.1 1572.9,806.7 C1582.9,842.3 1590.3,883.8 1600.2,909.6 C1610.1,935.4 1627.1,952.8 1632.4,961.5"/><path d="M1504.5,614.1 C1513.7,628.6 1546.5,668.7 1559.8,700.8 C1573.1,733.0 1578.6,772.1 1584.3,807.1 C1590.1,842.1 1589.1,883.6 1594.3,910.8 C1599.5,938.1 1612.1,960.8 1615.6,970.7"/><path d="M1493.0,614.8 C1500.8,629.7 1526.7,671.4 1540.0,703.9 C1553.4,736.4 1563.1,775.8 1573.2,809.7 C1583.2,843.6 1590.6,882.5 1600.5,907.4 C1610.3,932.2 1627.1,950.2 1632.5,958.7"/><path d="M1459.9,794.4 C1460.0,812.8 1453.0,869.1 1460.4,905.0 C1467.8,940.8 1488.4,976.3 1504.2,1009.6 C1519.9,1042.9 1539.1,1075.4 1554.8,1104.8 C1570.6,1134.2 1587.5,1169.7 1598.6,1185.9 C1609.7,1202.0 1617.7,1199.0 1621.5,1201.6"/><path d="M1460.6,792.5 C1460.3,810.5 1451.7,864.2 1458.8,900.2 C1465.8,936.3 1487.0,974.0 1503.0,1008.7 C1518.9,1043.3 1538.8,1078.2 1554.5,1108.3 C1570.2,1138.3 1586.5,1173.5 1597.0,1188.8 C1607.5,1204.1 1614.2,1198.1 1617.6,1199.9"/><path d="M1464.5,800.4 C1465.7,818.3 1464.0,873.2 1471.5,908.1 C1479.0,943.1 1497.5,977.4 1509.6,1010.1 C1521.7,1042.8 1532.5,1075.1 1544.2,1104.1 C1555.9,1133.2 1568.1,1168.8 1579.8,1184.6 C1591.6,1200.4 1608.8,1196.6 1614.6,1199.0"/><path d="M1478.6,793.0 C1476.2,811.0 1462.0,865.3 1464.0,901.2 C1465.9,937.0 1477.9,973.3 1490.3,1008.1 C1502.7,1043.0 1521.1,1078.8 1538.5,1110.3 C1556.0,1141.7 1579.6,1180.2 1594.9,1196.7 C1610.3,1213.2 1624.6,1207.3 1630.6,1209.4"/><path d="M1474.3,799.2 C1471.7,814.7 1456.2,859.9 1458.9,892.0 C1461.7,924.1 1476.7,957.4 1490.7,991.7 C1504.8,1026.0 1525.4,1063.9 1543.2,1097.8 C1561.0,1131.7 1583.4,1175.0 1597.5,1195.1 C1611.6,1215.2 1622.9,1214.4 1627.9,1218.2"/><path d="M1461.4,806.6 C1462.0,823.8 1457.2,876.2 1465.1,910.1 C1473.1,944.1 1494.6,977.6 1509.2,1010.3 C1523.8,1043.1 1539.8,1076.6 1552.8,1106.6 C1565.8,1136.5 1577.8,1173.9 1587.2,1190.1 C1596.6,1206.3 1605.6,1201.4 1609.2,1203.6"/><path d="M1609.9,1218.0 C1597.1,1222.5 1556.8,1232.2 1533.3,1244.9 C1509.9,1257.6 1487.2,1269.2 1469.2,1294.2 C1451.2,1319.2 1432.7,1378.1 1425.3,1394.9"/><path d="M1612.1,1200.3 C1600.5,1204.6 1564.7,1211.3 1542.6,1226.0 C1520.5,1240.7 1499.6,1258.2 1479.8,1288.4 C1459.9,1318.6 1432.6,1387.5 1423.2,1407.3"/><path d="M1626.3,1219.0 C1613.6,1223.0 1575.2,1230.7 1550.2,1243.0 C1525.3,1255.3 1498.6,1267.2 1476.4,1292.9 C1454.3,1318.6 1427.2,1379.6 1417.4,1396.9"/><path d="M1612.9,1208.2 C1599.3,1211.1 1555.0,1213.7 1531.3,1225.9 C1507.5,1238.0 1487.6,1252.2 1470.6,1281.1 C1453.5,1310.0 1435.9,1379.4 1429.0,1399.1"/><path d="M378.7,1413.9 C379.3,1436.3 376.0,1508.4 382.3,1548.6 C388.6,1588.7 400.6,1624.5 416.7,1654.6 C432.9,1684.8 457.0,1703.4 479.2,1729.4 C501.3,1755.3 527.9,1789.1 549.5,1810.4 C571.1,1831.7 594.2,1842.2 608.9,1857.3 C623.6,1872.4 638.3,1886.6 637.8,1901.2 C637.3,1915.7 619.3,1929.7 605.8,1944.6 C592.4,1959.4 568.3,1974.3 557.1,1990.2 C545.9,2006.0 538.8,2024.2 538.4,2039.8 C538.1,2055.4 544.9,2073.6 555.1,2083.6 C565.3,2093.6 580.5,2104.4 599.8,2099.8 C619.1,2095.3 648.3,2074.5 670.8,2056.1 C693.3,2037.7 715.5,2010.7 734.7,1989.5 C753.9,1968.3 765.2,1944.3 786.0,1928.7 C806.7,1913.1 832.0,1902.8 859.4,1895.9 C886.7,1889.1 911.6,1888.1 950.0,1887.4 C988.4,1886.8 1041.0,1888.2 1089.5,1892.0 C1138.0,1895.7 1195.6,1906.5 1241.0,1909.9 C1286.4,1913.3 1334.1,1897.6 1361.8,1912.2 C1389.5,1926.8 1397.6,1973.9 1407.2,1997.5 C1416.9,2021.1 1415.2,2032.8 1419.7,2053.7 C1424.1,2074.7 1431.5,2111.5 1433.8,2123.0"/><path d="M364.4,1414.5 C368.4,1435.3 377.2,1502.5 388.4,1539.8 C399.6,1577.0 416.2,1609.6 431.8,1637.9 C447.4,1666.3 465.0,1683.7 481.9,1710.0 C498.8,1736.3 515.4,1772.0 533.1,1795.7 C550.9,1819.5 572.0,1833.9 588.4,1852.7 C604.9,1871.4 627.5,1890.3 632.0,1908.3 C636.5,1926.2 626.5,1943.7 615.7,1960.4 C604.9,1977.1 580.5,1992.9 567.3,2008.3 C554.0,2023.8 540.2,2040.0 536.2,2053.1 C532.2,2066.2 534.3,2080.4 543.3,2087.0 C552.4,2093.6 569.4,2100.2 590.4,2092.6 C611.5,2085.0 645.2,2061.2 669.5,2041.5 C693.8,2021.8 717.1,1994.6 736.5,1974.3 C755.9,1954.1 765.3,1932.7 785.9,1919.9 C806.6,1907.2 832.0,1901.3 860.5,1897.9 C888.9,1894.5 917.0,1897.6 956.8,1899.5 C996.5,1901.4 1050.9,1905.0 1098.8,1909.2 C1146.7,1913.5 1201.0,1923.6 1244.1,1925.1 C1287.2,1926.7 1330.3,1907.4 1357.3,1918.8 C1384.3,1930.2 1393.5,1973.2 1406.3,1993.7 C1419.1,2014.1 1425.2,2022.2 1434.1,2041.3 C1442.9,2060.4 1455.2,2097.1 1459.4,2108.3"/><path d="M369.5,1413.5 C371.1,1434.6 371.8,1500.9 379.5,1540.4 C387.3,1579.9 400.9,1618.9 415.9,1650.5 C431.0,1682.0 450.5,1703.9 469.7,1729.6 C488.9,1755.3 510.3,1786.0 531.2,1804.9 C552.1,1823.8 576.8,1828.8 594.9,1843.1 C613.1,1857.5 635.8,1872.9 640.0,1891.0 C644.1,1909.1 631.8,1931.8 619.9,1951.7 C608.0,1971.5 581.9,1992.9 568.5,2010.0 C555.1,2027.1 542.3,2042.2 539.8,2054.3 C537.3,2066.4 542.6,2076.4 553.4,2082.7 C564.3,2088.9 583.7,2096.7 604.8,2091.7 C625.9,2086.7 658.2,2069.6 679.9,2052.7 C701.6,2035.7 719.7,2011.6 735.0,1990.1 C750.2,1968.5 753.8,1941.0 771.3,1923.3 C788.8,1905.6 811.7,1890.8 840.0,1883.9 C868.4,1877.0 898.9,1878.8 941.5,1882.0 C984.0,1885.3 1043.7,1895.4 1095.2,1903.4 C1146.7,1911.4 1205.3,1926.8 1250.3,1930.0 C1295.4,1933.2 1338.9,1912.1 1365.4,1922.4 C1391.9,1932.6 1398.3,1971.4 1409.1,1991.5 C1420.0,2011.5 1423.0,2021.4 1430.5,2042.8 C1438.1,2064.1 1450.3,2106.7 1454.3,2119.5"/><path d="M375.7,1410.3 C376.7,1433.0 375.1,1505.6 381.7,1546.3 C388.3,1587.1 400.2,1624.4 415.3,1655.0 C430.3,1685.6 451.1,1704.4 471.9,1729.8 C492.8,1755.2 517.5,1787.4 540.2,1807.3 C563.0,1827.2 590.1,1835.2 608.3,1849.3 C626.4,1863.4 647.8,1876.6 649.3,1891.8 C650.8,1907.0 633.4,1923.0 617.5,1940.4 C601.5,1957.8 569.8,1977.1 553.5,1996.2 C537.3,2015.3 522.2,2037.6 519.9,2054.9 C517.6,2072.1 525.7,2091.1 539.7,2099.9 C553.7,2108.7 578.8,2116.0 603.8,2107.6 C628.8,2099.3 665.8,2072.3 689.7,2049.7 C713.6,2027.1 732.6,1995.2 747.4,1972.0 C762.3,1948.8 763.2,1924.3 778.9,1910.3 C794.5,1896.3 814.3,1890.5 841.3,1887.9 C868.3,1885.2 898.2,1890.8 941.0,1894.5 C983.9,1898.1 1045.7,1904.2 1098.3,1909.8 C1151.0,1915.3 1211.9,1926.1 1257.1,1927.8 C1302.4,1929.5 1345.5,1909.2 1370.1,1920.0 C1394.7,1930.7 1397.2,1972.2 1404.8,1992.2 C1412.3,2012.3 1410.5,2020.6 1415.6,2040.3 C1420.7,2060.0 1432.1,2098.9 1435.3,2110.6"/><path d="M372.1,1415.4 C375.5,1435.9 382.6,1500.1 392.6,1538.4 C402.6,1576.7 417.3,1613.8 432.1,1645.2 C446.8,1676.7 464.0,1699.9 480.9,1727.0 C497.7,1754.1 515.2,1787.8 533.2,1807.8 C551.3,1827.8 572.8,1833.3 589.2,1846.9 C605.6,1860.6 627.5,1873.3 631.6,1890.0 C635.6,1906.7 624.6,1927.3 613.7,1947.0 C602.7,1966.8 578.4,1989.9 566.0,2008.5 C553.5,2027.2 541.4,2045.6 538.8,2058.7 C536.2,2071.9 540.5,2082.3 550.3,2087.6 C560.1,2093.0 577.6,2097.5 597.8,2090.9 C618.0,2084.3 649.2,2065.0 671.3,2047.9 C693.3,2030.9 712.7,2008.7 730.0,1988.7 C747.3,1968.7 754.4,1944.6 775.0,1927.9 C795.5,1911.1 822.5,1896.3 853.3,1888.3 C884.1,1880.3 916.9,1878.4 959.8,1880.0 C1002.7,1881.5 1061.3,1889.5 1110.6,1897.7 C1159.9,1905.8 1214.2,1923.7 1255.4,1928.7 C1296.6,1933.6 1334.9,1916.3 1357.8,1927.6 C1380.8,1938.9 1383.6,1977.5 1393.1,1996.4 C1402.5,2015.3 1405.6,2021.1 1414.5,2040.7 C1423.4,2060.4 1441.1,2101.9 1446.5,2114.1"/><path d="M375.6,1416.8 C377.7,1437.4 380.3,1503.4 388.4,1540.2 C396.4,1576.9 409.5,1609.0 423.7,1637.5 C437.9,1666.0 455.8,1684.1 473.3,1711.2 C490.9,1738.2 510.1,1775.4 529.3,1799.7 C548.4,1824.1 571.2,1839.1 588.0,1857.5 C604.8,1875.8 626.5,1893.5 630.1,1909.8 C633.7,1926.1 621.2,1940.8 609.5,1955.5 C597.7,1970.2 572.3,1983.4 559.8,1997.8 C547.3,2012.3 535.9,2028.1 534.6,2042.3 C533.4,2056.5 540.3,2073.4 552.4,2082.9 C564.4,2092.4 585.1,2103.6 607.0,2099.3 C628.9,2094.9 661.8,2075.0 683.8,2056.9 C705.7,2038.8 723.6,2012.2 738.6,1990.7 C753.5,1969.2 756.4,1944.3 773.5,1927.9 C790.6,1911.5 812.9,1899.8 841.0,1892.2 C869.1,1884.7 899.4,1883.0 942.1,1882.6 C984.8,1882.2 1045.1,1884.8 1097.1,1890.0 C1149.1,1895.3 1208.5,1908.9 1254.2,1914.3 C1299.8,1919.7 1344.2,1906.4 1371.0,1922.3 C1397.9,1938.2 1404.4,1986.6 1415.3,2009.7 C1426.2,2032.8 1429.0,2042.4 1436.2,2061.0 C1443.4,2079.5 1454.9,2111.0 1458.7,2121.0"/><path d="M633.6,1901.4 C644.9,1902.9 675.4,1908.6 701.2,1910.2 C727.0,1911.8 773.8,1910.8 788.3,1910.9"/><path d="M635.3,1907.2 C647.1,1910.1 680.3,1921.0 706.0,1924.7 C731.8,1928.5 776.0,1928.8 790.0,1929.6"/><path d="M650.4,1890.9 C660.0,1893.3 686.4,1901.5 708.2,1905.7 C730.1,1909.9 769.2,1914.3 781.4,1916.0"/><path d="M645.9,1890.0 C656.5,1893.0 685.5,1902.7 709.5,1907.9 C733.5,1913.1 776.4,1919.0 789.8,1921.3"/><path d="M1319.9,1798.4 C1326.4,1805.6 1345.2,1829.7 1358.9,1841.6 C1372.5,1853.6 1386.1,1869.5 1401.9,1870.0 C1417.6,1870.6 1444.9,1849.0 1453.5,1844.7"/><path d="M1308.3,1808.5 C1314.0,1816.9 1329.0,1846.9 1342.6,1859.0 C1356.2,1871.2 1371.8,1884.0 1390.0,1881.2 C1408.1,1878.4 1441.3,1848.8 1451.6,1842.3"/><path d="M1307.9,1791.8 C1313.4,1801.9 1326.7,1836.1 1340.7,1852.5 C1354.7,1868.8 1371.8,1889.6 1391.8,1890.0 C1411.7,1890.4 1448.9,1860.8 1460.4,1855.0"/><path d="M1300.5,1791.0 C1308.1,1800.1 1328.4,1830.4 1346.2,1845.7 C1364.0,1861.0 1386.8,1880.7 1407.1,1882.8 C1427.5,1885.0 1458.2,1862.7 1468.4,1858.7"/><path d="M1355.8,1929.8 C1367.8,1925.8 1402.1,1908.1 1427.5,1905.4 C1452.9,1902.8 1475.3,1905.7 1508.5,1914.0 C1541.7,1922.3 1607.0,1948.4 1626.7,1955.2"/><path d="M1371.0,1910.2 C1380.6,1907.0 1406.7,1890.4 1428.5,1891.1 C1450.4,1891.9 1469.4,1902.4 1502.0,1914.7 C1534.6,1927.0 1603.7,1956.4 1624.0,1964.8"/><path d="M1363.8,1910.3 C1372.9,1907.7 1396.8,1892.9 1418.5,1895.0 C1440.1,1897.1 1459.8,1909.9 1493.7,1923.1 C1527.5,1936.4 1600.2,1965.9 1621.6,1974.4"/><path d="M1360.6,1929.5 C1372.0,1925.6 1404.3,1908.4 1428.9,1905.9 C1453.5,1903.4 1474.7,1906.3 1508.2,1914.5 C1541.6,1922.8 1609.4,1948.6 1629.6,1955.5"/><path d="M1138.7,1748.8 C1117.3,1756.0 1053.2,1779.7 1010.3,1791.7 C967.4,1803.6 921.3,1799.5 881.3,1820.4 C841.3,1841.3 788.8,1901.0 770.3,1917.2"/><path d="M1140.1,1754.0 C1118.4,1763.0 1052.3,1793.8 1010.0,1808.2 C967.8,1822.5 924.9,1819.8 886.8,1840.0 C848.6,1860.2 798.8,1914.5 781.2,1929.4"/><path d="M1129.3,1745.7 C1106.7,1753.3 1036.7,1778.8 993.6,1791.2 C950.4,1803.6 907.4,1799.8 870.2,1820.1 C833.0,1840.5 787.1,1897.7 770.5,1913.2"/><path d="M1120.3,1749.9 C1100.5,1759.1 1040.3,1790.3 1002.0,1805.1 C963.7,1819.9 926.5,1818.1 890.4,1838.8 C854.3,1859.5 802.8,1914.2 785.3,1929.3"/><path d="M1437.2,363.7 C1435.6,377.4 1420.6,419.4 1427.6,445.4 C1434.6,471.5 1467.1,492.6 1479.3,520.0 C1491.5,547.4 1497.1,594.8 1500.7,609.7"/><path d="M1439.1,364.4 C1434.4,378.5 1407.6,422.6 1411.2,449.3 C1414.9,476.0 1446.5,497.5 1461.1,524.5 C1475.8,551.4 1492.6,596.6 1498.9,611.0"/><path d="M1431.6,368.5 C1429.4,383.3 1411.1,431.1 1418.6,457.7 C1426.2,484.4 1461.6,502.8 1476.8,528.4 C1492.1,554.0 1504.6,597.3 1510.2,611.1"/><path d="M1449.4,368.9 C1446.0,384.1 1425.0,431.8 1428.5,460.1 C1432.1,488.4 1460.2,511.2 1470.9,538.7 C1481.6,566.2 1489.0,610.7 1492.6,625.1"/><path d="M1615.8,689.7 C1608.0,698.4 1574.5,720.1 1569.1,742.2 C1563.8,764.2 1573.2,802.3 1583.8,821.9 C1594.4,841.5 1624.5,853.5 1632.6,859.8"/><path d="M1619.1,699.9 C1609.4,706.8 1567.9,722.1 1560.6,740.9 C1553.4,759.6 1563.3,793.9 1575.6,812.5 C1587.9,831.2 1624.8,846.2 1634.7,852.9"/><path d="M1619.5,690.5 C1612.2,699.7 1581.2,723.1 1575.5,745.8 C1569.8,768.4 1576.3,807.3 1585.1,826.2 C1593.8,845.1 1621.0,853.7 1628.1,859.2"/><path d="M1618.9,693.3 C1611.4,703.3 1579.6,730.8 1574.0,753.6 C1568.3,776.3 1575.5,812.9 1585.0,829.9 C1594.5,846.8 1623.2,850.9 1630.8,855.1"/><path d="M1535.3,419.4 C1539.4,434.8 1550.3,481.7 1560.3,511.6 C1570.2,541.4 1585.8,576.0 1595.2,598.4 C1604.5,620.8 1612.9,638.1 1616.5,646.0"/><path d="M1530.7,438.0 C1537.1,451.5 1555.8,493.6 1568.8,519.1 C1581.8,544.6 1599.2,572.4 1608.7,591.1 C1618.1,609.8 1622.6,624.6 1625.4,631.2"/><path d="M1526.9,422.1 C1533.1,437.0 1550.5,481.9 1564.2,511.4 C1577.9,540.9 1597.5,576.5 1609.1,599.2 C1620.8,621.9 1629.8,639.6 1634.0,647.7"/><path d="M1527.9,436.2 C1531.6,449.6 1538.5,491.1 1550.0,516.8 C1561.5,542.5 1582.9,571.0 1596.7,590.4 C1610.6,609.7 1627.2,625.9 1633.3,633.0"/><ellipse cx="1164" cy="538" rx="93" ry="72" transform="rotate(-41 1160 530)"/><ellipse cx="1164" cy="526" rx="90" ry="70" transform="rotate(-32 1160 530)"/><ellipse cx="1155" cy="528" rx="75" ry="58" transform="rotate(-40 1160 530)"/><ellipse cx="1166" cy="531" rx="81" ry="63" transform="rotate(-30 1160 530)"/><ellipse cx="1311" cy="278" rx="67" ry="122" transform="rotate(3 1310 270)"/><ellipse cx="1303" cy="272" rx="64" ry="117" transform="rotate(6 1310 270)"/><ellipse cx="1317" cy="265" rx="50" ry="92" transform="rotate(-1 1310 270)"/><ellipse cx="1310" cy="272" rx="52" ry="96" transform="rotate(-11 1310 270)"/><ellipse cx="1339" cy="740" rx="77" ry="132" transform="rotate(2 1340 740)"/><ellipse cx="1337" cy="742" rx="65" ry="112" transform="rotate(1 1340 740)"/><ellipse cx="1343" cy="737" rx="63" ry="109" transform="rotate(-12 1340 740)"/><ellipse cx="1333" cy="735" rx="63" ry="107" transform="rotate(6 1340 740)"/><ellipse cx="806" cy="1834" rx="75" ry="56" transform="rotate(-11 800 1830)"/><ellipse cx="807" cy="1823" rx="89" ry="67" transform="rotate(10 800 1830)"/><ellipse cx="800" cy="1838" rx="76" ry="57" transform="rotate(-6 800 1830)"/><ellipse cx="807" cy="1834" rx="78" ry="59" transform="rotate(-1 800 1830)"/><ellipse cx="1195" cy="1802" rx="78" ry="45" transform="rotate(-9 1190 1800)"/><ellipse cx="1189" cy="1795" rx="71" ry="40" transform="rotate(-11 1190 1800)"/><ellipse cx="1184" cy="1799" rx="68" ry="39" transform="rotate(4 1190 1800)"/><ellipse cx="1186" cy="1801" rx="67" ry="38" transform="rotate(-2 1190 1800)"/><ellipse cx="480" cy="1628" rx="53" ry="105" transform="rotate(-9 480 1620)"/><ellipse cx="476" cy="1614" rx="52" ry="104" transform="rotate(-11 480 1620)"/><ellipse cx="482" cy="1618" rx="53" ry="106" transform="rotate(-25 480 1620)"/><ellipse cx="481" cy="1621" rx="51" ry="103" transform="rotate(-17 480 1620)"/><ellipse cx="245" cy="1396" rx="63" ry="52" transform="rotate(12 250 1400)"/><ellipse cx="256" cy="1393" rx="66" ry="55" transform="rotate(-11 250 1400)"/><ellipse cx="249" cy="1402" rx="54" ry="45" transform="rotate(-10 250 1400)"/><ellipse cx="243" cy="1393" rx="59" ry="49" transform="rotate(4 250 1400)"/><ellipse cx="782" cy="558" rx="69" ry="34" transform="rotate(-26 780 560)"/><ellipse cx="777" cy="564" rx="62" ry="31" transform="rotate(-17 780 560)"/><ellipse cx="774" cy="565" rx="59" ry="29" transform="rotate(-22 780 560)"/><ellipse cx="775" cy="559" rx="74" ry="37" transform="rotate(-31 780 560)"/><ellipse cx="1468" cy="432" rx="74" ry="96" transform="rotate(12 1470 430)"/><ellipse cx="1471" cy="434" rx="64" ry="83" transform="rotate(10 1470 430)"/><ellipse cx="1468" cy="424" rx="66" ry="85" transform="rotate(9 1470 430)"/><ellipse cx="1463" cy="431" rx="59" ry="76" transform="rotate(-0 1470 430)"/><ellipse cx="1537" cy="814" rx="56" ry="97" transform="rotate(-10 1540 810)"/><ellipse cx="1543" cy="803" rx="49" ry="84" transform="rotate(-5 1540 810)"/><ellipse cx="1543" cy="807" rx="57" ry="99" transform="rotate(-9 1540 810)"/><ellipse cx="1544" cy="808" rx="51" ry="88" transform="rotate(-9 1540 810)"/><ellipse cx="251" cy="957" rx="93" ry="114" transform="rotate(-9 250 950)"/><ellipse cx="249" cy="955" rx="98" ry="120" transform="rotate(-25 250 950)"/><ellipse cx="248" cy="957" rx="82" ry="101" transform="rotate(-11 250 950)"/><ellipse cx="248" cy="948" rx="81" ry="98" transform="rotate(-23 250 950)"/><ellipse cx="1518" cy="1495" rx="38" ry="113" transform="rotate(17 1520 1500)"/><ellipse cx="1521" cy="1505" rx="42" ry="127" transform="rotate(17 1520 1500)"/><ellipse cx="1524" cy="1506" rx="35" ry="105" transform="rotate(10 1520 1500)"/><ellipse cx="1520" cy="1501" rx="33" ry="99" transform="rotate(17 1520 1500)"/></g>
<ellipse cx="1693.90" cy="363.60" rx="135.80" ry="147.80" fill="none" stroke="#8faadc" stroke-width="0.45"/>
<ellipse cx="1694.65" cy="363.00" rx="135.05" ry="147.18" fill="none" stroke="#8faadc" stroke-width="0.45"/>
<ellipse cx="1695.40" cy="362.40" rx="134.30" ry="146.56" fill="none" stroke="#8faadc" stroke-width="0.45"/>
<ellipse cx="1696.15" cy="361.80" rx="133.55" ry="145.94" fill="none" stroke="#8faadc" stroke-width="0.45"/>
<ellipse cx="1696.90" cy="361.20" rx="132.80" ry="145.32" fill="none" stroke="#8faadc" stroke-width="0.45"/>
<ellipse cx="1697.65" cy="360.60" rx="132.05" ry="144.70" fill="none" stroke="#8faadc" stroke-width="0.45"/>
<ellipse cx="1698.40" cy="360.00" rx="131.30" ry="144.08" fill="none" stroke="#8faadc" stroke-width="0.45"/>
<ellipse cx="1699.15" cy="359.40" rx="130.55" ry="143.46" fill="none" stroke="#8faadc" stroke-width="0.45"/>
<ellipse cx="1699.90" cy="358.80" rx="129.80" ry="142.84" fill="none" stroke="#8faadc" stroke-width="0.45"/>
</g>
</g>
<g id="pd">
<text font-size="64.08" fill="#000" font-weight="bold" transform="translate(-0.27 686.00) scale(1 1.0415)">D</text>
<text font-size="44.06" fill="#000" font-weight="bold" transform="translate(78.60 884.86) rotate(-90)">Control</text>
<text font-size="38.49" fill="#000" font-weight="bold" transform="translate(78.60 1182.37) rotate(-90) scale(1 1.0415)">pUL37x1</text>
<rect x="89.2" y="679.0" width="286.0" height="286.0" fill="#000"/>
<rect x="379.3" y="679.0" width="286.0" height="286.0" fill="#000"/>
<rect x="667.1" y="679.0" width="286.0" height="286.0" fill="#000"/>
<rect x="89.2" y="969.0" width="286.0" height="286.0" fill="#000"/>
<rect x="379.3" y="969.0" width="286.0" height="286.0" fill="#000"/>
<rect x="667.1" y="969.0" width="286.0" height="286.0" fill="#000"/>
<use href="#cytop" x="89.2" y="679.0"/>
<use href="#redtop" x="89.2" y="679.0" opacity="0.6"/>
<use href="#redtop" x="89.2" y="679.0" style="mix-blend-mode:screen" opacity="0.55"/>
<use href="#redtop" x="379.3" y="679.0"/>
<use href="#cytop" x="667.1" y="679.0"/>
<use href="#cybot" x="89.2" y="969.0"/>
<use href="#redbot" x="89.2" y="969.0" opacity="0.6"/>
<use href="#redbot" x="89.2" y="969.0" style="mix-blend-mode:screen" opacity="0.55"/>
<use href="#redbot" x="379.3" y="969.0"/>
<use href="#cybot" x="667.1" y="969.0"/>
<use href="#arw" transform="translate(174.9,1018.3) rotate(-32)"/>
<use href="#arw" transform="translate(212.4,1014.7) rotate(30)"/>
<use href="#arw" transform="translate(276.3,1053.6) rotate(0)"/>
<use href="#arw" transform="translate(153.5,1114.4) rotate(0)"/>
<use href="#arw" transform="translate(179.2,1121.9) rotate(27)"/>
<use href="#arw" transform="translate(318.5,1192.9) rotate(0)"/>
<use href="#arw" transform="translate(465.0,1018.3) rotate(-32)"/>
<use href="#arw" transform="translate(502.5,1014.7) rotate(30)"/>
<use href="#arw" transform="translate(566.4,1053.6) rotate(0)"/>
<use href="#arw" transform="translate(443.6,1114.4) rotate(0)"/>
<use href="#arw" transform="translate(469.3,1121.9) rotate(27)"/>
<use href="#arw" transform="translate(608.6,1192.9) rotate(0)"/>
<use href="#arw" transform="translate(752.8,1018.3) rotate(-32)"/>
<use href="#arw" transform="translate(790.3,1014.7) rotate(30)"/>
<use href="#arw" transform="translate(854.2,1053.6) rotate(0)"/>
<use href="#arw" transform="translate(731.4,1114.4) rotate(0)"/>
<use href="#arw" transform="translate(757.1,1121.9) rotate(27)"/>
<use href="#arw" transform="translate(896.4,1192.9) rotate(0)"/>
<rect x="691.8" y="1236.4" width="57" height="10.7" fill="#fff"/>
<text font-size="31.97" fill="#fff" transform="translate(683.90 1227.50)">2 µm</text>
<rect x="89.2" y="1260" width="863.8" height="73.6" fill="#000"/>
<text x="521" y="1291" font-size="28.6" text-anchor="middle" fill="#fff"><tspan fill="#9dc3e6">ER</tspan>:(mCh-Sec61β), <tspan fill="#ff0000">Mito</tspan> (GFP-OMP25, Top),</text>
<text x="521" y="1326" font-size="28.6" text-anchor="middle" fill="#fff"><tspan fill="#ff0000">pUL37x1-GFP</tspan> (bottom), ROI = 10 x 10 µm</text>
</g>
<g id="pe">
<text font-size="62.68" fill="#000" font-weight="bold" transform="translate(1030.72 685.90) scale(1 1.0415)">E</text>
<text font-size="42.41" fill="#000" font-weight="bold" transform="translate(1179.17 701.30) scale(1 1.0415)">MFN2 KO</text>
<rect x="1099.0" y="715.2" width="174.7" height="177.6" fill="#000"/>
<use href="#enet0" x="1099.0" y="715.2"/>
<rect x="1277.3" y="715.2" width="174.7" height="177.6" fill="#000"/>
<use href="#enet0" x="1277.3" y="715.2"/>
<ellipse cx="1187.2" cy="807.5" rx="25.3" ry="22.2" transform="rotate(0 1187.2 807.5)" fill="#46e010" filter="url(#eg)"/>
<ellipse cx="1187.2" cy="807.5" rx="19.0" ry="16.6" transform="rotate(0 1187.2 807.5)" fill="#3cf808" filter="url(#eg)"/>
<ellipse cx="1364.4" cy="809.1" rx="17.1" ry="13.0" transform="rotate(-8 1364.4 809.1)" fill="#000" opacity="0.8" filter="url(#eg)"/>
<ellipse cx="1364.4" cy="809.1" rx="24.4" ry="18.5" transform="rotate(-8 1364.4 809.1)" fill="none" stroke="#8f8383" stroke-width="3.3" stroke-dasharray="8.5 3"/>
<rect x="1099.0" y="895.0" width="174.7" height="177.6" fill="#000"/>
<use href="#enet1" x="1099.0" y="895.0"/>
<rect x="1277.3" y="895.0" width="174.7" height="177.6" fill="#000"/>
<use href="#enet1" x="1277.3" y="895.0"/>
<ellipse cx="1199.7" cy="994.1" rx="24.4" ry="22.2" transform="rotate(0 1199.7 994.1)" fill="#46e010" filter="url(#eg)"/>
<ellipse cx="1199.7" cy="994.1" rx="18.3" ry="16.6" transform="rotate(0 1199.7 994.1)" fill="#3cf808" filter="url(#eg)"/>
<ellipse cx="1378.0" cy="992.9" rx="17.1" ry="13.0" transform="rotate(-8 1378.0 992.9)" fill="#000" opacity="0.8" filter="url(#eg)"/>
<ellipse cx="1378.0" cy="992.9" rx="24.4" ry="18.5" transform="rotate(-8 1378.0 992.9)" fill="none" stroke="#8f8383" stroke-width="3.3" stroke-dasharray="8.5 3"/>
<rect x="1099.0" y="1076.3" width="174.7" height="177.6" fill="#000"/>
<use href="#enet2" x="1099.0" y="1076.3"/>
<rect x="1277.3" y="1076.3" width="174.7" height="177.6" fill="#000"/>
<use href="#enet2" x="1277.3" y="1076.3"/>
<ellipse cx="1220.7" cy="1143.7" rx="22.6" ry="26.7" transform="rotate(25 1220.7 1143.7)" fill="#46e010" filter="url(#eg)"/>
<ellipse cx="1220.7" cy="1143.7" rx="17.0" ry="20.0" transform="rotate(25 1220.7 1143.7)" fill="#3cf808" filter="url(#eg)"/>
<ellipse cx="1398.1" cy="1143.7" rx="13.5" ry="16.6" transform="rotate(25 1398.1 1143.7)" fill="#000" opacity="0.8" filter="url(#eg)"/>
<ellipse cx="1398.1" cy="1143.7" rx="19.2" ry="23.8" transform="rotate(25 1398.1 1143.7)" fill="none" stroke="#8f8383" stroke-width="3.3" stroke-dasharray="8.5 3"/>
<text font-size="31.12" fill="#fff" transform="translate(1103.26 882.80)">0s</text>
<text font-size="31.12" fill="#fff" transform="translate(1103.11 1062.60)">150s</text>
<text font-size="31.29" fill="#fff" transform="translate(1102.75 1242.00)">300s</text>
<text font-size="31.19" fill="#fff" transform="translate(1373.61 1222.40)">1 µm</text>
<rect x="1380.2" y="1231.2" width="60.8" height="11.1" fill="#fff"/>
<rect x="1098.6" y="1257.2" width="353.4" height="76.5" fill="#000"/>
<text font-size="29.00" fill="#fff" transform="translate(1150.08 1288.50)"><tspan fill="#92d050">Mito</tspan><tspan fill="#ff0000">:</tspan>(GFP-OMP25)</text>
<text font-size="28.92" fill="#fff" transform="translate(1157.59 1323.50)"><tspan fill="#c00000">ER</tspan><tspan fill="#9dc3e6">:</tspan>(mCh-Sec61b)</text>
</g>
<g id="pf">
<text font-size="62.76" fill="#000" font-weight="bold" transform="translate(1468.92 674.70) scale(1 1.0415)">F</text>
<text font-size="55.08" fill="#262626" font-weight="bold" transform="translate(1588.83 738.00) scale(1 1.0415)">MFN2 KO</text>
<text font-size="54.74" fill="#262626" font-weight="bold" transform="translate(1631.35 794.00) scale(1 1.0415)">MENC</text>
<rect x="1625.5" y="830.2" width="94" height="313.5" fill="#3a3b52"/>
<rect x="1625.5" y="1143.7" width="94" height="51.3" fill="#74829a"/>
<rect x="1625.5" y="1195.0" width="94" height="33.0" fill="#a9cbc9"/>
<path d="M1625.5,1228.0 V830.2 H1719.5 V1228.0 M1625.5,1143.7 H1719.5 M1625.5,1195.0 H1719.5" fill="none" stroke="#000" stroke-width="3.5"/>
<rect x="1744.5" y="830.2" width="95.5" height="19.9" fill="#3a3b52"/>
<rect x="1744.5" y="850.1" width="95.5" height="37.0" fill="#74829a"/>
<rect x="1744.5" y="887.1" width="95.5" height="340.9" fill="#a9cbc9"/>
<path d="M1744.5,1228.0 V830.2 H1840.0 V1228.0 M1744.5,850.1 H1840.0 M1744.5,887.1 H1840.0" fill="none" stroke="#000" stroke-width="3.5"/>
<g stroke="#262626" stroke-width="6.2" fill="none">
<path d="M1614.2,827.1 V1231.1"/>
<path d="M1603.7,1228 H1852.4"/>
<path d="M1603.7,1228.0 H1614"/>
<path d="M1603.7,1148.4 H1614"/>
<path d="M1603.7,1068.9 H1614"/>
<path d="M1603.7,989.3 H1614"/>
<path d="M1603.7,909.8 H1614"/>
<path d="M1603.7,830.2 H1614"/>
<path d="M1672,1228 V1238.5"/>
<path d="M1790.8,1228 V1238.5"/>
</g>
<text font-size="39.5" fill="#262626" text-anchor="end" transform="translate(1600.86 1243.20) scale(1 1.0415)">0</text>
<text font-size="39.5" fill="#262626" text-anchor="end" transform="translate(1600.84 1163.64) scale(1 1.0415)">20</text>
<text font-size="39.5" fill="#262626" text-anchor="end" transform="translate(1600.84 1084.08) scale(1 1.0415)">40</text>
<text font-size="39.5" fill="#262626" text-anchor="end" transform="translate(1600.84 1004.52) scale(1 1.0415)">60</text>
<text font-size="39.5" fill="#262626" text-anchor="end" transform="translate(1600.84 924.96) scale(1 1.0415)">80</text>
<text font-size="39.5" fill="#262626" text-anchor="end" transform="translate(1600.82 845.40) scale(1 1.0415)">100</text>
<text font-size="50.70" fill="#262626" transform="translate(1521.00 1155.23) rotate(-90)">Percentage</text>
<text font-size="44.00" fill="#000" transform="translate(1763.76 842.50) scale(1 1.0415)">***</text>
<text font-size="42" fill="#262626" text-anchor="end" transform="translate(1742.00 1271.00) rotate(-30)">sgCTRL</text>
<text font-size="42" fill="#262626" text-anchor="end" transform="translate(1867.00 1268.50) rotate(-30)">MFN2KO</text>
<rect x="1868.7" y="816" width="43" height="41" fill="#302f43"/>
<rect x="1868.7" y="1016.2" width="43" height="40.5" fill="#8598a6"/>
<rect x="1868.7" y="1201.2" width="43" height="40.5" fill="#b9d4d3"/>
<text font-size="38.26" fill="#000" transform="translate(1902.30 803.59) rotate(-90)">None</text>
<text font-size="38.04" fill="#000" transform="translate(1902.30 1007.17) rotate(-90)">Partial</text>
<text font-size="38.32" fill="#000" transform="translate(1902.30 1192.89) rotate(-90)">MENC</text>
</g>
<g id="pg">
<text font-size="64.73" fill="#000" font-weight="bold" transform="translate(-1.49 1400.20) scale(1 1.0415)">G</text>
<text font-size="31.87" fill="#000" font-weight="bold" transform="translate(203.88 1428.40) scale(1 1.0415)">PTPIP51-pUL37</text>
<text font-size="32.11" fill="#000" font-weight="bold" transform="translate(239.86 1466.50)">Interaction</text>
<clipPath id="gclip"><rect x="120" y="1480" width="420" height="386"/></clipPath><g clip-path="url(#gclip)">
<polygon points="152.4,1865.7 240.0,1481.7 328.8,1583.8 417.0,1594.5 505.5,1629.5 505.5,1644.8 417.0,1681.0 328.8,1687.4 240.0,1660.0 152.4,1865.7" fill="#e1e4ea" stroke="#d0d4dc" stroke-width="1"/>
<polyline points="152.4,1865.7 240.0,1570.5 328.8,1636.4 417.0,1638.3 505.5,1635.6" fill="none" stroke="#6f7b93" stroke-width="3.4"/>
<circle cx="152.4" cy="1865.7" r="12.6" fill="#6f7b93" stroke="#fff" stroke-width="1.6"/>
<circle cx="240.0" cy="1570.5" r="12.6" fill="#6f7b93" stroke="#fff" stroke-width="1.6"/>
<circle cx="328.8" cy="1636.4" r="12.6" fill="#6f7b93" stroke="#fff" stroke-width="1.6"/>
<circle cx="417.0" cy="1638.3" r="12.6" fill="#6f7b93" stroke="#fff" stroke-width="1.6"/>
<circle cx="505.5" cy="1635.6" r="12.6" fill="#6f7b93" stroke="#fff" stroke-width="1.6"/>
</g>
<g stroke="#262626" stroke-width="5.6" fill="none">
<path d="M133.3,1493.2 V1868.8"/>
<path d="M126,1866.0 H526.5"/>
<path d="M126,1866.0 H133"/>
<path d="M126,1742.7 H133"/>
<path d="M126,1619.3 H133"/>
<path d="M126,1496.0 H133"/>
<path d="M152.4,1866.0 V1875.0"/>
<path d="M240,1866.0 V1875.0"/>
<path d="M328.8,1866.0 V1875.0"/>
<path d="M417,1866.0 V1875.0"/>
<path d="M505.5,1866.0 V1875.0"/>
</g>
<text font-size="35.2" fill="#262626" text-anchor="end" transform="translate(116.41 1878.80) scale(1 1.0415)">0.0</text>
<text font-size="35.2" fill="#262626" text-anchor="end" transform="translate(116.53 1755.47) scale(1 1.0415)">0.5</text>
<text font-size="35.2" fill="#262626" text-anchor="end" transform="translate(116.41 1632.13) scale(1 1.0415)">1.0</text>
<text font-size="35.2" fill="#262626" text-anchor="end" transform="translate(116.53 1508.80) scale(1 1.0415)">1.5</text>
<text font-size="27" fill="#262626" text-anchor="middle" transform="translate(152.40 1905.00) scale(1 1.0415)">M</text>
<text font-size="27" fill="#262626" text-anchor="middle" transform="translate(240.00 1905.00) scale(1 1.0415)">24</text>
<text font-size="27" fill="#262626" text-anchor="middle" transform="translate(328.80 1905.00) scale(1 1.0415)">48</text>
<text font-size="27" fill="#262626" text-anchor="middle" transform="translate(417.00 1905.00) scale(1 1.0415)">72</text>
<text font-size="27" fill="#262626" text-anchor="middle" transform="translate(505.50 1905.00) scale(1 1.0415)">96</text>
<text font-size="44.34" fill="#262626" transform="translate(54.00 1838.70) rotate(-90)">Peptide Intensity</text>
<path d="M255,1803 H345" stroke="#6f7b93" stroke-width="4" stroke-linecap="round"/>
<circle cx="299.8" cy="1803" r="12.6" fill="#6f7b93"/>
<text font-size="42.42" fill="#262626" transform="translate(378.75 1817.00) scale(1 1.0415)">UL37</text>
</g>
<g id="ph">
<text font-size="62.39" fill="#000" font-weight="bold" transform="translate(568.74 1399.80) scale(1 1.0415)">H</text>
<text font-size="32.35" fill="#262626" font-weight="bold" transform="translate(745.84 1440.00) scale(1 1.0415)">PTPIP51-ATG</text>
<text font-size="32.25" fill="#262626" font-weight="bold" transform="translate(756.45 1473.00)">Interactions</text>
<polygon points="748.9,1837.1 849.1,1496.4 948.2,1632.0 1047.8,1824.8 1047.8,1830.2 948.2,1751.4 849.1,1800.7 770.4,1830.2 748.9,1841.4" fill="#383a52" fill-opacity="0.2" stroke="#b0b0bc" stroke-width="1"/>
<polygon points="648.7,1811.4 748.9,1784.6 849.1,1656.1 948.2,1661.4 1047.8,1744.5 1047.8,1790.0 948.2,1795.3 849.1,1814.1 748.9,1795.3 648.7,1838.2" fill="#74809a" fill-opacity="0.22"/>
<polygon points="648.7,1814.1 748.9,1785.7 849.1,1661.4 948.2,1665.7 1047.8,1752.5 1047.8,1792.7 948.2,1780.3 849.1,1806.1 748.9,1794.3 648.7,1835.5" fill="#a9cbc9" fill-opacity="0.3"/>
<polyline points="648.7,1824.8 748.9,1790.0 849.1,1733.7 948.2,1732.7 1047.8,1765.9" fill="none" stroke="#74809a" stroke-width="4.2" stroke-dasharray="11 5"/>
<polyline points="648.7,1827.5 748.9,1791.1 849.1,1730.0 948.2,1726.8 1047.8,1771.2" fill="none" stroke="#a9cbc9" stroke-width="4.2" stroke-dasharray="3.5 3.5"/>
<polyline points="648.7,1848.9 748.9,1839.3 849.1,1648.0 948.2,1683.9 1047.8,1827.5" fill="none" stroke="#383a52" stroke-width="3.9"/>
<path d="M643.7,1819.8 l10,10 m0,-10 l-10,10" stroke="#fff" stroke-width="5" fill="none"/><path d="M644.2,1820.3 l9,9 m0,-9 l-9,9" stroke="#74809a" stroke-width="2.6" fill="none"/>
<path d="M743.9,1785.0 l10,10 m0,-10 l-10,10" stroke="#fff" stroke-width="5" fill="none"/><path d="M744.4,1785.5 l9,9 m0,-9 l-9,9" stroke="#74809a" stroke-width="2.6" fill="none"/>
<path d="M844.1,1728.7 l10,10 m0,-10 l-10,10" stroke="#fff" stroke-width="5" fill="none"/><path d="M844.6,1729.2 l9,9 m0,-9 l-9,9" stroke="#74809a" stroke-width="2.6" fill="none"/>
<path d="M943.2,1727.7 l10,10 m0,-10 l-10,10" stroke="#fff" stroke-width="5" fill="none"/><path d="M943.7,1728.2 l9,9 m0,-9 l-9,9" stroke="#74809a" stroke-width="2.6" fill="none"/>
<path d="M1042.8,1760.9 l10,10 m0,-10 l-10,10" stroke="#fff" stroke-width="5" fill="none"/><path d="M1043.3,1761.4 l9,9 m0,-9 l-9,9" stroke="#74809a" stroke-width="2.6" fill="none"/>
<rect x="642.5" y="1821.3" width="12.4" height="12.4" fill="#a9cbc9" stroke="#fff" stroke-width="1.4"/>
<rect x="742.7" y="1784.9" width="12.4" height="12.4" fill="#a9cbc9" stroke="#fff" stroke-width="1.4"/>
<rect x="842.9" y="1723.8" width="12.4" height="12.4" fill="#a9cbc9" stroke="#fff" stroke-width="1.4"/>
<rect x="942.0" y="1720.6" width="12.4" height="12.4" fill="#a9cbc9" stroke="#fff" stroke-width="1.4"/>
<rect x="1041.6" y="1765.0" width="12.4" height="12.4" fill="#a9cbc9" stroke="#fff" stroke-width="1.4"/>
<circle cx="648.7" cy="1848.9" r="8.6" fill="#383a52" stroke="#fff" stroke-width="1.6"/>
<circle cx="748.9" cy="1839.3" r="8.6" fill="#383a52" stroke="#fff" stroke-width="1.6"/>
<circle cx="849.1" cy="1648.0" r="8.6" fill="#383a52" stroke="#fff" stroke-width="1.6"/>
<circle cx="948.2" cy="1683.9" r="8.6" fill="#383a52" stroke="#fff" stroke-width="1.6"/>
<circle cx="1047.8" cy="1827.5" r="8.6" fill="#383a52" stroke="#fff" stroke-width="1.6"/>
<g stroke="#262626" stroke-width="5.4" fill="none">
<path d="M630.5,1490.0 V1873.2"/>
<path d="M627.8,1870.5 H1070.3"/>
<path d="M621.9,1861.2 H630.5"/>
<path d="M621.9,1769.1 H630.5"/>
<path d="M621.9,1677.0 H630.5"/>
<path d="M621.9,1584.8 H630.5"/>
<path d="M621.9,1492.7 H630.5"/>
<path d="M648.7,1870.5 V1878.5"/>
<path d="M748.9,1870.5 V1878.5"/>
<path d="M849.1,1870.5 V1878.5"/>
<path d="M948.2,1870.5 V1878.5"/>
<path d="M1047.8,1870.5 V1878.5"/>
</g>
<text font-size="29.5" fill="#262626" text-anchor="end" transform="translate(614.16 1872.04) scale(1 1.0415)">0</text>
<text font-size="29.5" fill="#262626" text-anchor="end" transform="translate(614.46 1779.90) scale(1 1.0415)">1</text>
<text font-size="29.5" fill="#262626" text-anchor="end" transform="translate(614.46 1687.76) scale(1 1.0415)">2</text>
<text font-size="29.5" fill="#262626" text-anchor="end" transform="translate(614.26 1595.62) scale(1 1.0415)">3</text>
<text font-size="29.5" fill="#262626" text-anchor="end" transform="translate(613.87 1503.48) scale(1 1.0415)">4</text>
<text font-size="29.5" fill="#262626" text-anchor="middle" transform="translate(648.75 1908.00) scale(1 1.0415)">M</text>
<text font-size="29.5" fill="#262626" text-anchor="middle" transform="translate(748.92 1908.00) scale(1 1.0415)">24</text>
<text font-size="29.5" fill="#262626" text-anchor="middle" transform="translate(849.10 1908.00) scale(1 1.0415)">48</text>
<text font-size="29.5" fill="#262626" text-anchor="middle" transform="translate(948.21 1908.00) scale(1 1.0415)">72</text>
<text font-size="29.5" fill="#262626" text-anchor="middle" transform="translate(1047.85 1908.00) scale(1 1.0415)">96</text>
<text font-size="32.04" fill="#262626" transform="translate(588.50 1818.37) rotate(-90)">Protein Abundance</text>
<path d="M926.8,1500.7 H982.5" stroke="#383a52" stroke-width="3"/>
<text font-size="24.6" fill="#262626" text-anchor="start" transform="translate(1002.85 1509.51) scale(1 1.0415)">ATG5</text>
<path d="M926.8,1538.2 H982.5" stroke="#74809a" stroke-width="3" stroke-dasharray="11 5"/>
<text font-size="24.6" fill="#262626" text-anchor="start" transform="translate(1002.85 1547.01) scale(1 1.0415)">ATG12</text>
<path d="M926.8,1575.7 H982.5" stroke="#a9cbc9" stroke-width="3" stroke-dasharray="3 3.5"/>
<text font-size="24.6" fill="#262626" text-anchor="start" transform="translate(1002.85 1584.51) scale(1 1.0415)">ATG16L1</text>
<circle cx="954.6" cy="1500.7" r="6.5" fill="#383a52" stroke="#fff" stroke-width="1.5"/>
<path d="M950.6,1534.2 l8,8 m0,-8 l-8,8" stroke="#fff" stroke-width="5" fill="none"/><path d="M950.6,1534.2 l8,8 m0,-8 l-8,8" stroke="#74809a" stroke-width="2.4" fill="none"/>
<rect x="950.1" y="1571.2" width="9" height="9" fill="#a9cbc9" stroke="#fff" stroke-width="1"/>
<g transform="translate(540,1340) scale(0.535705)"><path d="M1317,290 V405 M1245,385 L1265,410 M1400,385 L1380,410" stroke="#000" stroke-width="6" fill="none"/><path d="M1317,295 L1270,330 M1317,295 L1370,330 M1285,358 L1355,355" stroke="#666" stroke-width="2.5" fill="none"/><path d="M-58,0 V-24 A58 58 0 0 1 58,-24 V0 Z" transform="translate(1316.5,296)" fill="#bf8f00" stroke="#8a6500" stroke-width="2"/><path d="M-58,0 V-24 A58 58 0 0 1 58,-24 V0 Z" transform="translate(1231.3,392) rotate(-14.5)" fill="#ffd966" stroke="#bf9000" stroke-width="2.5"/><path d="M-58,0 V-24 A58 58 0 0 1 58,-24 V0 Z" transform="translate(1405.2,390) rotate(14)" fill="#fff2cc" stroke="#bf9000" stroke-width="2.5"/><path d="M1190,420 L1317,400 L1443,420 V490 L1317,510 L1190,490 Z" fill="#bdbdbd" stroke="#8c8c8c" stroke-width="2.5"/><path d="M1437,628 L1470,570 A55 55 0 1 1 1490,660 Z" fill="#ffc000"/><path d="M1455,722 C1490,702 1560,700 1585,728 C1605,765 1592,835 1548,880 C1505,915 1440,922 1410,912 C1395,898 1420,884 1465,882 C1525,872 1555,820 1562,780 C1568,745 1540,730 1480,740 C1450,745 1440,735 1455,722 Z" fill="#fff2cc" stroke="#bf9000" stroke-width="2.5" stroke-dasharray="2.5 3.5"/><circle cx="1455" cy="930" r="20" fill="#ffc000"/><circle cx="1502" cy="927" r="20" fill="#ffc000"/><circle cx="1540" cy="900" r="20" fill="#ffc000"/><path d="M1545,452 C1590,470 1600,510 1578,535" stroke="#000" stroke-width="2.5" stroke-dasharray="2.5 3" fill="none"/><path d="M1563,530 L1588,524 L1570,548 Z" fill="#000"/><path d="M1415,612 C1380,630 1370,670 1382,700" stroke="#000" stroke-width="2.5" stroke-dasharray="2.5 3" fill="none"/><path d="M1372,698 L1396,697 L1387,722 Z" fill="#000"/></g>
<text font-size="28.6" fill="#000" font-style="italic" text-anchor="middle" transform="translate(1244.45 1485.71) scale(1 1.0415)">16</text>
<text font-size="30" fill="#000" text-anchor="middle" transform="translate(1198.92 1547.85) scale(1 1.0415)">12</text>
<text font-size="29.5" fill="#000" font-style="italic" text-anchor="middle" transform="translate(1295.34 1544.64) scale(1 1.0415)">5</text>
<text font-size="29.8" fill="#000" text-anchor="middle" transform="translate(1245.52 1596.07) scale(1 1.0415)">PTPIP51</text>
<text font-size="28.3" fill="#7f6000" font-style="italic" text-anchor="middle" transform="translate(1345.70 1675.35) scale(1 1.0415)">LC3</text>
<text font-size="29.3" fill="#7f6000" text-anchor="end" transform="translate(1355.80 1765.50)">auto-</text>
<text font-size="28.8" fill="#7f6000" text-anchor="end" transform="translate(1355.80 1799.00)">phagosome</text>
<text font-size="28" font-style="italic" fill="#7f6000"><textPath href="#atgarc" startOffset="0">ATG complex</textPath></text>
</g>
<g id="pi">
<text font-size="62.79" fill="#000" font-weight="bold" transform="translate(1432.61 1399.80) scale(1 1.0415)">I</text>
<text font-size="48.10" fill="#262626" font-weight="bold" transform="translate(1616.79 1420.00) scale(1 1.0415)">MENC LC3</text>
<clipPath id="iclip"><rect x="1590" y="1430" width="320" height="420.5"/></clipPath><g clip-path="url(#iclip)">
<path d="M1668.7,1463.7 C1670.2,1465.4 1674.9,1470.0 1677.9,1474.4 C1680.8,1478.7 1686.7,1484.5 1686.4,1489.6 C1686.2,1494.7 1678.4,1500.6 1676.3,1504.9 C1674.3,1509.2 1671.9,1511.5 1674.2,1515.6 C1676.5,1519.6 1682.3,1523.0 1690.1,1529.3 C1697.8,1535.7 1714.6,1547.4 1720.6,1553.7 C1726.6,1560.1 1727.6,1562.4 1726.1,1567.5 C1724.6,1572.6 1716.7,1579.0 1711.5,1584.3 C1706.2,1589.5 1695.2,1593.8 1694.7,1598.9 C1694.2,1604.0 1704.8,1609.9 1708.4,1614.8 C1712.0,1619.8 1716.5,1624.0 1716.0,1628.6 C1715.5,1633.1 1707.9,1638.5 1705.4,1642.3 C1702.8,1646.1 1699.6,1647.1 1700.8,1651.5 C1701.9,1655.8 1712.6,1663.2 1712.4,1668.3 C1712.1,1673.3 1704.5,1677.7 1699.2,1682.0 C1694.0,1686.3 1686.0,1689.5 1680.9,1694.2 C1675.8,1698.9 1670.7,1707.4 1668.7,1710.1 C1666.7,1712.7 1670.7,1712.7 1668.7,1710.1 C1666.7,1707.4 1661.6,1698.9 1656.5,1694.2 C1651.4,1689.5 1643.4,1686.3 1638.2,1682.0 C1632.9,1677.7 1625.3,1673.3 1625.0,1668.3 C1624.8,1663.2 1635.5,1655.8 1636.6,1651.5 C1637.8,1647.1 1634.6,1646.1 1632.1,1642.3 C1629.5,1638.5 1621.9,1633.1 1621.4,1628.6 C1620.9,1624.0 1625.5,1619.8 1629.0,1614.8 C1632.6,1609.9 1643.3,1604.0 1642.8,1598.9 C1642.2,1593.8 1631.2,1589.5 1626.0,1584.3 C1620.7,1579.0 1612.8,1572.6 1611.3,1567.5 C1609.8,1562.4 1610.8,1560.1 1616.8,1553.7 C1622.8,1547.4 1639.6,1535.7 1647.3,1529.3 C1655.1,1523.0 1660.9,1519.6 1663.2,1515.6 C1665.5,1511.5 1663.1,1509.2 1661.1,1504.9 C1659.0,1500.6 1651.3,1494.7 1651.0,1489.6 C1650.7,1484.5 1656.6,1478.7 1659.5,1474.4 C1662.5,1470.0 1667.2,1465.4 1668.7,1463.7 Z" fill="#4e4f69" stroke="#2f2f2f" stroke-width="3" stroke-linejoin="round"/>
<path d="M1811.0,1482.0 C1812.3,1484.8 1817.0,1493.9 1818.9,1498.8 C1820.9,1503.6 1823.1,1505.9 1822.6,1511.0 C1822.1,1516.1 1817.8,1523.7 1815.9,1529.3 C1814.0,1534.9 1812.1,1532.9 1811.3,1544.6 C1810.5,1556.3 1810.0,1587.8 1811.3,1599.5 C1812.6,1611.3 1817.1,1609.7 1818.9,1614.8 C1820.8,1619.9 1822.4,1624.5 1822.6,1630.1 C1822.9,1635.7 1820.3,1642.8 1820.5,1648.4 C1820.6,1654.0 1820.7,1658.6 1823.5,1663.7 C1826.3,1668.8 1831.4,1673.9 1837.3,1678.9 C1843.1,1684.0 1853.7,1688.9 1858.6,1694.2 C1863.6,1699.6 1866.9,1705.9 1867.2,1711.0 C1867.4,1716.1 1863.4,1719.4 1860.2,1724.7 C1857.0,1730.1 1850.8,1737.0 1848.0,1743.1 C1845.2,1749.2 1846.2,1755.3 1843.4,1761.4 C1840.6,1767.5 1835.5,1774.1 1831.2,1779.7 C1826.8,1785.3 1820.5,1789.9 1817.4,1795.0 C1814.4,1800.1 1813.1,1804.1 1812.8,1810.2 C1812.6,1816.4 1815.9,1825.0 1815.9,1831.6 C1815.9,1838.2 1813.5,1845.4 1812.8,1849.9 C1812.1,1854.5 1812.4,1857.6 1811.6,1859.1 C1810.8,1860.6 1808.8,1860.6 1808.0,1859.1 C1807.1,1857.6 1807.4,1854.5 1806.7,1849.9 C1806.0,1845.4 1803.7,1838.2 1803.7,1831.6 C1803.7,1825.0 1807.0,1816.4 1806.7,1810.2 C1806.5,1804.1 1805.2,1800.1 1802.1,1795.0 C1799.1,1789.9 1792.7,1785.3 1788.4,1779.7 C1784.1,1774.1 1779.0,1767.5 1776.2,1761.4 C1773.4,1755.3 1774.4,1749.2 1771.6,1743.1 C1768.8,1737.0 1762.6,1730.1 1759.4,1724.7 C1756.2,1719.4 1752.1,1716.1 1752.4,1711.0 C1752.6,1705.9 1755.9,1699.6 1760.9,1694.2 C1765.9,1688.9 1776.4,1684.0 1782.3,1678.9 C1788.2,1673.9 1793.2,1668.8 1796.0,1663.7 C1798.8,1658.6 1798.9,1654.0 1799.1,1648.4 C1799.2,1642.8 1796.7,1635.7 1797.0,1630.1 C1797.2,1624.5 1798.7,1619.9 1800.6,1614.8 C1802.5,1609.7 1807.0,1611.3 1808.3,1599.5 C1809.5,1587.8 1809.0,1556.3 1808.3,1544.6 C1807.5,1532.9 1805.6,1534.9 1803.7,1529.3 C1801.8,1523.7 1797.5,1516.1 1797.0,1511.0 C1796.4,1505.9 1798.7,1503.6 1800.6,1498.8 C1802.6,1493.9 1807.2,1484.8 1808.6,1482.0 Z" fill="#9bafb5" stroke="#2f2f2f" stroke-width="3" stroke-linejoin="round"/>
<path d="M1613.7,1560.5 H1723.7" stroke="#2b2b2b" stroke-width="3.2" stroke-dasharray="3.4 3.6" fill="none"/>
<path d="M1642.8,1598.9 H1694.7" stroke="#2b2b2b" stroke-width="3.2" stroke-dasharray="9 4" fill="none"/>
<path d="M1632.1,1642.3 H1705.4" stroke="#2b2b2b" stroke-width="3.2" stroke-dasharray="3.4 3.6" fill="none"/>
<path d="M1772.5,1695.1 H1847.3" stroke="#2b2b2b" stroke-width="3.2" stroke-dasharray="3.4 3.6" fill="none"/>
<path d="M1755.7,1716.2 H1864.1" stroke="#2b2b2b" stroke-width="3.2" stroke-dasharray="9 4" fill="none"/>
<path d="M1775.6,1749.2 H1844.3" stroke="#2b2b2b" stroke-width="3.2" stroke-dasharray="3.4 3.6" fill="none"/>
<circle cx="1666.3" cy="1486.0" r="2.8" fill="#9bb4ba"/>
<circle cx="1668.7" cy="1491.1" r="2.8" fill="#9bb4ba"/>
<circle cx="1667.5" cy="1531.8" r="2.8" fill="#9bb4ba"/>
<circle cx="1668.7" cy="1538.5" r="2.8" fill="#9bb4ba"/>
<circle cx="1668.7" cy="1546.4" r="2.8" fill="#9bb4ba"/>
<circle cx="1666.3" cy="1558.3" r="2.8" fill="#9bb4ba"/>
<circle cx="1671.2" cy="1558.3" r="2.8" fill="#9bb4ba"/>
<circle cx="1676.3" cy="1556.8" r="2.8" fill="#9bb4ba"/>
<circle cx="1668.7" cy="1564.4" r="2.8" fill="#9bb4ba"/>
<circle cx="1664.4" cy="1566.6" r="2.8" fill="#9bb4ba"/>
<circle cx="1663.2" cy="1579.7" r="2.8" fill="#9bb4ba"/>
<circle cx="1668.7" cy="1579.7" r="2.8" fill="#9bb4ba"/>
<circle cx="1673.9" cy="1576.6" r="2.8" fill="#9bb4ba"/>
<circle cx="1678.8" cy="1576.6" r="2.8" fill="#9bb4ba"/>
<circle cx="1668.7" cy="1591.3" r="2.8" fill="#9bb4ba"/>
<circle cx="1668.7" cy="1605.7" r="2.8" fill="#9bb4ba"/>
<circle cx="1668.7" cy="1611.8" r="2.8" fill="#9bb4ba"/>
<circle cx="1667.2" cy="1618.5" r="2.8" fill="#9bb4ba"/>
<circle cx="1668.7" cy="1625.5" r="2.8" fill="#9bb4ba"/>
<circle cx="1663.2" cy="1631.6" r="2.8" fill="#9bb4ba"/>
<circle cx="1668.7" cy="1631.6" r="2.8" fill="#9bb4ba"/>
<circle cx="1673.9" cy="1630.7" r="2.8" fill="#9bb4ba"/>
<circle cx="1664.4" cy="1646.9" r="2.8" fill="#9bb4ba"/>
<circle cx="1668.7" cy="1649.0" r="2.8" fill="#9bb4ba"/>
<circle cx="1668.7" cy="1661.2" r="2.8" fill="#9bb4ba"/>
<circle cx="1666.3" cy="1669.2" r="2.8" fill="#9bb4ba"/>
<circle cx="1671.2" cy="1669.2" r="2.8" fill="#9bb4ba"/>
<circle cx="1676.3" cy="1666.7" r="2.8" fill="#9bb4ba"/>
<circle cx="1664.4" cy="1671.3" r="2.8" fill="#9bb4ba"/>
<circle cx="1668.7" cy="1675.3" r="2.8" fill="#9bb4ba"/>
<circle cx="1668.7" cy="1687.5" r="2.8" fill="#9bb4ba"/>
<circle cx="1806.1" cy="1510.4" r="2.8" fill="#5a5c7c"/>
<circle cx="1810.7" cy="1512.5" r="2.8" fill="#5a5c7c"/>
<circle cx="1809.8" cy="1626.4" r="2.8" fill="#5a5c7c"/>
<circle cx="1809.8" cy="1635.0" r="2.8" fill="#5a5c7c"/>
<circle cx="1809.8" cy="1658.2" r="2.8" fill="#5a5c7c"/>
<circle cx="1809.8" cy="1688.7" r="2.8" fill="#5a5c7c"/>
<circle cx="1804.6" cy="1694.2" r="2.8" fill="#5a5c7c"/>
<circle cx="1814.7" cy="1693.6" r="2.8" fill="#5a5c7c"/>
<circle cx="1809.8" cy="1695.7" r="2.8" fill="#5a5c7c"/>
<circle cx="1800.0" cy="1702.8" r="2.8" fill="#5a5c7c"/>
<circle cx="1804.6" cy="1704.9" r="2.8" fill="#5a5c7c"/>
<circle cx="1814.7" cy="1704.0" r="2.8" fill="#5a5c7c"/>
<circle cx="1809.8" cy="1708.0" r="2.8" fill="#5a5c7c"/>
<circle cx="1806.1" cy="1713.1" r="2.8" fill="#5a5c7c"/>
<circle cx="1813.8" cy="1715.6" r="2.8" fill="#5a5c7c"/>
<circle cx="1809.8" cy="1720.2" r="2.8" fill="#5a5c7c"/>
<circle cx="1806.1" cy="1727.8" r="2.8" fill="#5a5c7c"/>
<circle cx="1809.8" cy="1732.4" r="2.8" fill="#5a5c7c"/>
<circle cx="1806.1" cy="1736.3" r="2.8" fill="#5a5c7c"/>
<circle cx="1812.8" cy="1735.4" r="2.8" fill="#5a5c7c"/>
<circle cx="1809.8" cy="1743.1" r="2.8" fill="#5a5c7c"/>
<circle cx="1809.8" cy="1750.7" r="2.8" fill="#5a5c7c"/>
<circle cx="1806.1" cy="1762.0" r="2.8" fill="#5a5c7c"/>
<circle cx="1812.2" cy="1761.4" r="2.8" fill="#5a5c7c"/>
<circle cx="1809.8" cy="1766.0" r="2.8" fill="#5a5c7c"/>
<circle cx="1807.6" cy="1773.0" r="2.8" fill="#5a5c7c"/>
<circle cx="1806.1" cy="1777.3" r="2.8" fill="#5a5c7c"/>
<circle cx="1810.7" cy="1773.6" r="2.8" fill="#5a5c7c"/>
<circle cx="1809.8" cy="1781.2" r="2.8" fill="#5a5c7c"/>
<circle cx="1809.8" cy="1832.8" r="2.8" fill="#5a5c7c"/>
</g>
<g stroke="#262626" stroke-width="5" fill="none">
<path d="M1598.3,1435.8 V1852.5"/>
<path d="M1591.5,1850.0 H1883"/>
<path d="M1591.5,1850.0 H1598"/>
<path d="M1591.5,1712.8 H1598"/>
<path d="M1591.5,1575.5 H1598"/>
<path d="M1591.5,1438.3 H1598"/>
<path d="M1668.7,1850.0 V1858.0"/>
<path d="M1809.8,1850.0 V1858.0"/>
</g>
<text font-size="30.5" fill="#262626" text-anchor="end" transform="translate(1587.81 1861.00) scale(1 1.0415)">0.95</text>
<text font-size="30.5" fill="#262626" text-anchor="end" transform="translate(1587.71 1723.77) scale(1 1.0415)">1.00</text>
<text font-size="30.5" fill="#262626" text-anchor="end" transform="translate(1587.81 1586.53) scale(1 1.0415)">1.05</text>
<text font-size="30.5" fill="#262626" text-anchor="end" transform="translate(1587.71 1449.30) scale(1 1.0415)">1.10</text>
<text font-size="31.66" fill="#262626" transform="translate(1587.36 1884.40)">Non-MENC</text>
<text font-size="32.76" fill="#262626" transform="translate(1761.27 1884.40)">MENC</text>
<text font-size="38.55" fill="#000" transform="translate(1689.07 1919.30)">72 hpi</text>
<text font-size="38.38" fill="#262626" transform="translate(1515.00 1757.90) rotate(-90)">LC3 Intensity</text>
<text font-size="45.00" fill="#548235" transform="translate(1643.17 1473.00) scale(1 1.0415)">***</text>
</g>
<g id="pj">
<text font-size="61.28" fill="#000" font-weight="bold" transform="translate(5.98 1958.80) scale(1 1.0415)">J</text>
<text font-size="38.59" fill="#000" transform="translate(59.00 2276.53) rotate(-90)">72 hpi</text>
<text font-size="38.00" fill="#000" font-weight="bold" transform="translate(304.40 2099.83) rotate(-90) scale(1 1.0415)">MENC</text>
<text font-size="37.70" fill="#000" font-weight="bold" transform="translate(304.40 2415.51) rotate(-90) scale(1 1.0415)">Non-MENC</text>
<rect x="74" y="1949.6" width="182" height="551" fill="#000"/>
<g clip-path="url(#cellclip)"><g mask="url(#cellmask)">
<rect x="74" y="1949.6" width="182" height="551" fill="#00262a"/>
<ellipse cx="185" cy="2125" rx="52" ry="85" fill="#006a70" opacity="0.55" filter="url(#jb)"/>
<ellipse cx="215" cy="2165" rx="26" ry="50" fill="#008088" opacity="0.35" filter="url(#jb)"/>
<rect x="74" y="1949.6" width="182" height="551" filter="url(#jtex)" opacity="0.62" style="mix-blend-mode:screen"/>
<ellipse cx="133" cy="2128" rx="23" ry="36" fill="#001c20" opacity="0.92" filter="url(#jc3)"/>
<ellipse cx="130" cy="2172" rx="19" ry="26" fill="#001c20" opacity="0.9" filter="url(#jc3)"/>
<rect x="74" y="1949.6" width="182" height="75" fill="#000" opacity="0.35" filter="url(#jb2)"/>
<rect x="74" y="2330" width="182" height="175" fill="#000" opacity="0.2" filter="url(#jb2)"/>
<circle cx="178" cy="2114" r="4" fill="#001a1e" opacity="0.8" filter="url(#jc1)"/>
<circle cx="203" cy="2123" r="4" fill="#001a1e" opacity="0.8" filter="url(#jc1)"/>
<circle cx="217" cy="2133" r="4.5" fill="#001a1e" opacity="0.8" filter="url(#jc1)"/>
<circle cx="195" cy="2140" r="4" fill="#001a1e" opacity="0.8" filter="url(#jc1)"/>
<circle cx="170" cy="2160" r="3.5" fill="#001a1e" opacity="0.8" filter="url(#jc1)"/>
<circle cx="228" cy="2105" r="3" fill="#001a1e" opacity="0.8" filter="url(#jc1)"/>
<ellipse cx="160.0" cy="1965.9" rx="2.7" ry="3.9" fill="#f5e020" transform="rotate(-21 160.0 1965.9)" filter="url(#jc1)"/>
<ellipse cx="161.9" cy="2029.0" rx="2.1" ry="3.2" fill="#f5e020" transform="rotate(10 161.9 2029.0)" filter="url(#jc1)"/>
<ellipse cx="196.2" cy="2029.0" rx="2.3" ry="5.2" fill="#f5e020" transform="rotate(-19 196.2 2029.0)" filter="url(#jc1)"/>
<ellipse cx="129.0" cy="2034.5" rx="2.7" ry="4.0" fill="#ffd000" transform="rotate(3 129.0 2034.5)" filter="url(#jc1)"/>
<ellipse cx="171.5" cy="2064.7" rx="2.2" ry="5.1" fill="#f5e020" transform="rotate(-21 171.5 2064.7)" filter="url(#jc1)"/>
<ellipse cx="186.6" cy="2050.9" rx="2.8" ry="3.3" fill="#ffe000" transform="rotate(19 186.6 2050.9)" filter="url(#jc1)"/>
<ellipse cx="211.3" cy="2056.4" rx="2.0" ry="4.9" fill="#f5e020" transform="rotate(-16 211.3 2056.4)" filter="url(#jc1)"/>
<ellipse cx="197.6" cy="2057.8" rx="3.1" ry="4.0" fill="#f5e020" transform="rotate(8 197.6 2057.8)" filter="url(#jc1)"/>
<ellipse cx="179.7" cy="2072.9" rx="3.0" ry="4.1" fill="#ffd000" transform="rotate(-8 179.7 2072.9)" filter="url(#jc1)"/>
<ellipse cx="194.8" cy="2072.9" rx="2.1" ry="3.5" fill="#ffd000" transform="rotate(30 194.8 2072.9)" filter="url(#jc1)"/>
<ellipse cx="111.1" cy="2072.9" rx="2.8" ry="4.8" fill="#ffb000" transform="rotate(-19 111.1 2072.9)" filter="url(#jc1)"/>
<ellipse cx="103.7" cy="2109.9" rx="3.0" ry="4.3" fill="#f5e020" transform="rotate(-6 103.7 2109.9)" filter="url(#jc1)"/>
<ellipse cx="103.7" cy="2116.8" rx="3.1" ry="4.6" fill="#ffe000" transform="rotate(7 103.7 2116.8)" filter="url(#jc1)"/>
<ellipse cx="105.7" cy="2138.7" rx="3.2" ry="4.5" fill="#ffd000" transform="rotate(29 105.7 2138.7)" filter="url(#jc1)"/>
<ellipse cx="108.4" cy="2158.0" rx="2.4" ry="4.3" fill="#ffe000" transform="rotate(16 108.4 2158.0)" filter="url(#jc1)"/>
<ellipse cx="111.1" cy="2167.6" rx="2.3" ry="4.9" fill="#ffb000" transform="rotate(17 111.1 2167.6)" filter="url(#jc1)"/>
<ellipse cx="150.4" cy="2136.0" rx="2.1" ry="4.9" fill="#f5e020" transform="rotate(-17 150.4 2136.0)" filter="url(#jc1)"/>
<ellipse cx="145.4" cy="2151.1" rx="3.0" ry="4.0" fill="#ffd000" transform="rotate(-33 145.4 2151.1)" filter="url(#jc1)"/>
<ellipse cx="160.5" cy="2137.4" rx="2.5" ry="4.0" fill="#ffe000" transform="rotate(-38 160.5 2137.4)" filter="url(#jc1)"/>
<ellipse cx="166.0" cy="2144.2" rx="2.7" ry="3.3" fill="#ffb000" transform="rotate(-36 166.0 2144.2)" filter="url(#jc1)"/>
<ellipse cx="209.9" cy="2141.5" rx="3.1" ry="3.8" fill="#ffd000" transform="rotate(4 209.9 2141.5)" filter="url(#jc1)"/>
<ellipse cx="220.9" cy="2147.0" rx="2.4" ry="3.4" fill="#ffe000" transform="rotate(40 220.9 2147.0)" filter="url(#jc1)"/>
<ellipse cx="197.6" cy="2160.7" rx="3.2" ry="3.8" fill="#ffb000" transform="rotate(36 197.6 2160.7)" filter="url(#jc1)"/>
<ellipse cx="181.1" cy="2162.1" rx="2.1" ry="4.9" fill="#ffb000" transform="rotate(-28 181.1 2162.1)" filter="url(#jc1)"/>
<ellipse cx="209.9" cy="2179.9" rx="2.2" ry="4.9" fill="#f5e020" transform="rotate(-11 209.9 2179.9)" filter="url(#jc1)"/>
<ellipse cx="196.2" cy="2190.9" rx="2.6" ry="4.5" fill="#ffe000" transform="rotate(-3 196.2 2190.9)" filter="url(#jc1)"/>
<ellipse cx="203.1" cy="2195.0" rx="3.1" ry="4.2" fill="#f5e020" transform="rotate(10 203.1 2195.0)" filter="url(#jc1)"/>
<ellipse cx="123.5" cy="2288.3" rx="2.9" ry="5.1" fill="#f5e020" transform="rotate(11 123.5 2288.3)" filter="url(#jc1)"/>
<ellipse cx="126.2" cy="2336.3" rx="2.6" ry="4.3" fill="#ff8a00" transform="rotate(38 126.2 2336.3)" filter="url(#jc1)"/>
<ellipse cx="115.3" cy="2363.8" rx="2.4" ry="4.0" fill="#ffa000" transform="rotate(39 115.3 2363.8)" filter="url(#jc1)"/>
<ellipse cx="107.0" cy="2372.0" rx="2.4" ry="3.9" fill="#ffc000" transform="rotate(11 107.0 2372.0)" filter="url(#jc1)"/>
<ellipse cx="105.7" cy="2378.9" rx="2.9" ry="3.2" fill="#ffc000" transform="rotate(17 105.7 2378.9)" filter="url(#jc1)"/>
<ellipse cx="115.3" cy="2396.7" rx="2.4" ry="4.5" fill="#ffc000" transform="rotate(-38 115.3 2396.7)" filter="url(#jc1)"/>
<ellipse cx="94.7" cy="2394.0" rx="2.2" ry="3.6" fill="#ffc000" transform="rotate(8 94.7 2394.0)" filter="url(#jc1)"/>
<ellipse cx="105.7" cy="2421.4" rx="2.9" ry="3.4" fill="#ffc000" transform="rotate(-19 105.7 2421.4)" filter="url(#jc1)"/>
<ellipse cx="96.0" cy="2446.1" rx="2.2" ry="4.2" fill="#ffa000" transform="rotate(15 96.0 2446.1)" filter="url(#jc1)"/>
<ellipse cx="112.5" cy="2446.1" rx="2.8" ry="4.5" fill="#ffa000" transform="rotate(-14 112.5 2446.1)" filter="url(#jc1)"/>
<ellipse cx="90.6" cy="2473.5" rx="3.1" ry="4.5" fill="#ff8a00" transform="rotate(8 90.6 2473.5)" filter="url(#jc1)"/>
<ellipse cx="170.1" cy="2229.3" rx="3.2" ry="3.4" fill="#ffd000" transform="rotate(25 170.1 2229.3)" filter="url(#jc1)"/>
<ellipse cx="171.5" cy="2244.4" rx="2.5" ry="3.7" fill="#ffe000" transform="rotate(31 171.5 2244.4)" filter="url(#jc1)"/>
<ellipse cx="222.3" cy="2089.4" rx="3.1" ry="3.8" fill="#ffd000" transform="rotate(-37 222.3 2089.4)" filter="url(#jc1)"/>
<ellipse cx="227.8" cy="2092.1" rx="2.4" ry="4.9" fill="#ffe000" transform="rotate(29 227.8 2092.1)" filter="url(#jc1)"/>
<ellipse cx="214.1" cy="2133.3" rx="2.4" ry="3.5" fill="#ffb000" transform="rotate(25 214.1 2133.3)" filter="url(#jc1)"/>
<ellipse cx="175.6" cy="2092.1" rx="3.0" ry="4.1" fill="#f5e020" transform="rotate(1 175.6 2092.1)" filter="url(#jc1)"/>
<ellipse cx="189.4" cy="2125.0" rx="2.7" ry="3.3" fill="#f5e020" transform="rotate(-17 189.4 2125.0)" filter="url(#jc1)"/>
<ellipse cx="175.6" cy="2152.5" rx="2.0" ry="5.1" fill="#f5e020" transform="rotate(-28 175.6 2152.5)" filter="url(#jc1)"/>
<ellipse cx="227.8" cy="2125.0" rx="3.2" ry="4.6" fill="#ffe000" transform="rotate(5 227.8 2125.0)" filter="url(#jc1)"/>
<ellipse cx="167.4" cy="2116.8" rx="3.0" ry="4.5" fill="#ffb000" transform="rotate(20 167.4 2116.8)" filter="url(#jc1)"/>
<ellipse cx="205.8" cy="2041.3" rx="3.1" ry="4.9" fill="#ffb000" transform="rotate(4 205.8 2041.3)" filter="url(#jc1)"/>
<ellipse cx="183.9" cy="1997.4" rx="2.3" ry="3.3" fill="#ffd000" transform="rotate(-30 183.9 1997.4)" filter="url(#jc1)"/>
<ellipse cx="155.0" cy="2002.9" rx="3.1" ry="4.4" fill="#ffe000" transform="rotate(32 155.0 2002.9)" filter="url(#jc1)"/>
<ellipse cx="220.9" cy="2163.4" rx="2.1" ry="4.2" fill="#ffd000" transform="rotate(-2 220.9 2163.4)" filter="url(#jc1)"/>
<ellipse cx="146.8" cy="2184.0" rx="2.6" ry="4.0" fill="#ffe000" transform="rotate(13 146.8 2184.0)" filter="url(#jc1)"/>
<circle cx="181.8" cy="2074.0" r="1.9" fill="#e0a060" opacity="0.8" filter="url(#jc1)"/>
<circle cx="220.5" cy="2042.0" r="1.2" fill="#d8e000" opacity="0.8" filter="url(#jc1)"/>
<circle cx="197.7" cy="2168.5" r="1.2" fill="#a0d040" opacity="0.8" filter="url(#jc1)"/>
<circle cx="229.6" cy="2166.7" r="1.8" fill="#d8e000" opacity="0.8" filter="url(#jc1)"/>
<circle cx="193.8" cy="2127.3" r="1.4" fill="#a0d040" opacity="0.8" filter="url(#jc1)"/>
<circle cx="174.1" cy="2135.2" r="1.5" fill="#d8e000" opacity="0.8" filter="url(#jc1)"/>
<circle cx="192.6" cy="2161.7" r="1.0" fill="#d8e000" opacity="0.8" filter="url(#jc1)"/>
<circle cx="217.5" cy="2039.5" r="1.0" fill="#e0a060" opacity="0.8" filter="url(#jc1)"/>
<circle cx="233.9" cy="2174.8" r="1.1" fill="#e0a060" opacity="0.8" filter="url(#jc1)"/>
<circle cx="179.7" cy="2084.4" r="1.4" fill="#e0a060" opacity="0.8" filter="url(#jc1)"/>
<circle cx="202.0" cy="2092.1" r="1.2" fill="#a0d040" opacity="0.8" filter="url(#jc1)"/>
<circle cx="189.0" cy="2053.1" r="1.0" fill="#e0a060" opacity="0.8" filter="url(#jc1)"/>
<circle cx="219.2" cy="2126.6" r="1.0" fill="#e0a060" opacity="0.8" filter="url(#jc1)"/>
<circle cx="203.4" cy="2162.7" r="1.4" fill="#d8e000" opacity="0.8" filter="url(#jc1)"/>
<circle cx="205.0" cy="2104.0" r="1.4" fill="#e0a060" opacity="0.8" filter="url(#jc1)"/>
<circle cx="216.2" cy="2084.4" r="2.0" fill="#e0a060" opacity="0.8" filter="url(#jc1)"/>
<circle cx="191.6" cy="2072.7" r="1.5" fill="#d8e000" opacity="0.8" filter="url(#jc1)"/>
<circle cx="219.8" cy="2069.3" r="1.1" fill="#d8e000" opacity="0.8" filter="url(#jc1)"/>
<circle cx="230.8" cy="2094.4" r="1.9" fill="#a0d040" opacity="0.8" filter="url(#jc1)"/>
<circle cx="163.7" cy="2147.3" r="1.9" fill="#e0a060" opacity="0.8" filter="url(#jc1)"/>
<circle cx="208.6" cy="2154.5" r="1.6" fill="#d8e000" opacity="0.8" filter="url(#jc1)"/>
<circle cx="220.5" cy="2151.7" r="1.5" fill="#ffd000" opacity="0.8" filter="url(#jc1)"/>
<circle cx="217.4" cy="2039.1" r="1.1" fill="#d8e000" opacity="0.8" filter="url(#jc1)"/>
<circle cx="207.9" cy="2094.6" r="1.8" fill="#a0d040" opacity="0.8" filter="url(#jc1)"/>
<circle cx="223.0" cy="2052.0" r="1.8" fill="#e0a060" opacity="0.8" filter="url(#jc1)"/>
<circle cx="222.5" cy="2191.2" r="1.6" fill="#d8e000" opacity="0.8" filter="url(#jc1)"/>
<circle cx="156.7" cy="2160.2" r="1.5" fill="#ffd000" opacity="0.8" filter="url(#jc1)"/>
<circle cx="162.5" cy="2157.1" r="1.9" fill="#d8e000" opacity="0.8" filter="url(#jc1)"/>
<circle cx="199.0" cy="2177.3" r="1.2" fill="#d8e000" opacity="0.8" filter="url(#jc1)"/>
<circle cx="173.6" cy="2061.8" r="1.2" fill="#e0a060" opacity="0.8" filter="url(#jc1)"/>
<circle cx="174.5" cy="2132.1" r="1.9" fill="#e0a060" opacity="0.8" filter="url(#jc1)"/>
<circle cx="233.2" cy="2094.6" r="1.2" fill="#e0a060" opacity="0.8" filter="url(#jc1)"/>
<circle cx="223.1" cy="2193.6" r="1.4" fill="#e0a060" opacity="0.8" filter="url(#jc1)"/>
<circle cx="166.5" cy="2098.9" r="1.9" fill="#ffd000" opacity="0.8" filter="url(#jc1)"/>
<circle cx="161.6" cy="2157.0" r="1.9" fill="#e0a060" opacity="0.8" filter="url(#jc1)"/>
<circle cx="202.0" cy="2175.4" r="1.1" fill="#ffd000" opacity="0.8" filter="url(#jc1)"/>
<circle cx="165.7" cy="2118.0" r="1.9" fill="#a0d040" opacity="0.8" filter="url(#jc1)"/>
<circle cx="209.0" cy="2174.9" r="1.6" fill="#a0d040" opacity="0.8" filter="url(#jc1)"/>
<circle cx="226.9" cy="2083.2" r="1.3" fill="#e0a060" opacity="0.8" filter="url(#jc1)"/>
<circle cx="170.2" cy="2127.1" r="1.2" fill="#e0a060" opacity="0.8" filter="url(#jc1)"/>
<circle cx="217.4" cy="2055.8" r="2.0" fill="#e0a060" opacity="0.8" filter="url(#jc1)"/>
<circle cx="211.4" cy="2066.2" r="1.6" fill="#d8e000" opacity="0.8" filter="url(#jc1)"/>
<circle cx="193.3" cy="2152.4" r="1.9" fill="#e0a060" opacity="0.8" filter="url(#jc1)"/>
<circle cx="218.1" cy="2179.3" r="1.0" fill="#ffd000" opacity="0.8" filter="url(#jc1)"/>
<circle cx="227.0" cy="2140.2" r="1.8" fill="#d8e000" opacity="0.8" filter="url(#jc1)"/>
<circle cx="119.2" cy="2477.0" r="1.3" fill="#ffa000" opacity="0.8" filter="url(#jc1)"/>
<circle cx="112.1" cy="2372.8" r="1.7" fill="#e08020" opacity="0.8" filter="url(#jc1)"/>
<circle cx="115.3" cy="2483.7" r="1.3" fill="#ffa000" opacity="0.8" filter="url(#jc1)"/>
<circle cx="94.4" cy="2414.4" r="1.9" fill="#ffa000" opacity="0.8" filter="url(#jc1)"/>
<circle cx="86.9" cy="2391.2" r="2.1" fill="#ffa000" opacity="0.8" filter="url(#jc1)"/>
<circle cx="96.0" cy="2437.2" r="1.8" fill="#ffa000" opacity="0.8" filter="url(#jc1)"/>
<circle cx="83.5" cy="2401.0" r="1.5" fill="#ffa000" opacity="0.8" filter="url(#jc1)"/>
<circle cx="90.4" cy="2437.9" r="2.1" fill="#ffc000" opacity="0.8" filter="url(#jc1)"/>
<circle cx="87.1" cy="2399.2" r="2.1" fill="#ffa000" opacity="0.8" filter="url(#jc1)"/>
<circle cx="107.9" cy="2369.2" r="2.1" fill="#ffc000" opacity="0.8" filter="url(#jc1)"/>
<circle cx="86.1" cy="2489.7" r="1.4" fill="#ffc000" opacity="0.8" filter="url(#jc1)"/>
<circle cx="111.4" cy="2395.8" r="1.8" fill="#e08020" opacity="0.8" filter="url(#jc1)"/>
<circle cx="118.6" cy="2471.7" r="1.1" fill="#ffc000" opacity="0.8" filter="url(#jc1)"/>
<circle cx="108.2" cy="2430.8" r="1.1" fill="#ffc000" opacity="0.8" filter="url(#jc1)"/>
<circle cx="101.9" cy="2361.5" r="1.4" fill="#e08020" opacity="0.8" filter="url(#jc1)"/>
<circle cx="104.1" cy="2379.3" r="1.8" fill="#e08020" opacity="0.8" filter="url(#jc1)"/>
<circle cx="88.1" cy="2406.7" r="2.1" fill="#ffc000" opacity="0.8" filter="url(#jc1)"/>
<circle cx="87.1" cy="2488.3" r="1.2" fill="#ffc000" opacity="0.8" filter="url(#jc1)"/>
<circle cx="107.1" cy="2447.3" r="1.5" fill="#ffc000" opacity="0.8" filter="url(#jc1)"/>
<circle cx="107.2" cy="2419.4" r="1.4" fill="#ffa000" opacity="0.8" filter="url(#jc1)"/>
<circle cx="109.4" cy="2368.4" r="1.2" fill="#e08020" opacity="0.8" filter="url(#jc1)"/>
<circle cx="103.2" cy="2460.4" r="1.4" fill="#ffc000" opacity="0.8" filter="url(#jc1)"/>
<circle cx="92.7" cy="2360.6" r="1.2" fill="#ffc000" opacity="0.8" filter="url(#jc1)"/>
<circle cx="101.7" cy="2388.8" r="1.9" fill="#ffc000" opacity="0.8" filter="url(#jc1)"/>
<circle cx="116.0" cy="2490.3" r="1.5" fill="#ffa000" opacity="0.8" filter="url(#jc1)"/>
<circle cx="95.9" cy="2476.0" r="1.1" fill="#ffc000" opacity="0.8" filter="url(#jc1)"/>
<circle cx="105.0" cy="2451.9" r="1.7" fill="#e08020" opacity="0.8" filter="url(#jc1)"/>
<circle cx="86.6" cy="2454.3" r="1.7" fill="#e08020" opacity="0.8" filter="url(#jc1)"/>
<circle cx="110.9" cy="2471.4" r="1.9" fill="#e08020" opacity="0.8" filter="url(#jc1)"/>
<circle cx="105.7" cy="2477.8" r="2.0" fill="#e08020" opacity="0.8" filter="url(#jc1)"/>
<circle cx="102.6" cy="2435.5" r="1.2" fill="#ffc000" opacity="0.8" filter="url(#jc1)"/>
<circle cx="96.5" cy="2395.4" r="2.0" fill="#ffc000" opacity="0.8" filter="url(#jc1)"/>
<circle cx="116.6" cy="2490.9" r="1.5" fill="#e08020" opacity="0.8" filter="url(#jc1)"/>
<circle cx="117.1" cy="2397.8" r="1.6" fill="#e08020" opacity="0.8" filter="url(#jc1)"/>
<circle cx="108.7" cy="2396.3" r="2.0" fill="#ffc000" opacity="0.8" filter="url(#jc1)"/>
<circle cx="83.5" cy="2380.5" r="1.8" fill="#ffa000" opacity="0.8" filter="url(#jc1)"/>
<circle cx="111.9" cy="2449.1" r="1.6" fill="#e08020" opacity="0.8" filter="url(#jc1)"/>
<circle cx="106.3" cy="2381.7" r="1.9" fill="#ffa000" opacity="0.8" filter="url(#jc1)"/>
<circle cx="83.8" cy="2425.6" r="1.8" fill="#ffc000" opacity="0.8" filter="url(#jc1)"/>
<circle cx="86.6" cy="2394.0" r="1.8" fill="#ffa000" opacity="0.8" filter="url(#jc1)"/>
</g>
<rect x="154.5" y="2160.7" width="11" height="11" fill="none" stroke="#fff" stroke-width="0.9" stroke-dasharray="2.2 1.2"/>
<circle cx="160.0" cy="2166.2" r="1.8" fill="#ffe0d0"/>
<rect x="140.5" y="2178.0" width="11" height="11" fill="none" stroke="#fff" stroke-width="0.9" stroke-dasharray="2.2 1.2"/>
<circle cx="146.0" cy="2183.5" r="1.8" fill="#ffe0d0"/>
<rect x="173.1" y="2196.4" width="11" height="11" fill="none" stroke="#fff" stroke-width="0.9" stroke-dasharray="2.2 1.2"/>
<circle cx="178.6" cy="2201.9" r="1.8" fill="#ffe0d0"/>
<rect x="175.6" y="2491.8" width="72.3" height="2.6" fill="#fff"/>
</g>
<rect x="495.7" y="1949" width="39.3" height="550.6" fill="#000"/>
<rect x="720.6" y="1949" width="39.4" height="550.6" fill="#000"/>
<rect x="945.6" y="1949" width="38.2" height="550.6" fill="#000"/>
<rect x="1170.3" y="1949" width="38.3" height="550.6" fill="#000"/>
<text font-size="32.01" fill="#ff0000" transform="translate(527.30 2277.67) rotate(-90)">Low pH</text>
<text font-size="32.15" fill="#ffd966" transform="translate(751.80 2300.98) rotate(-90)">Neutral pH</text>
<text font-size="31.94" fill="#bdd7ee" transform="translate(975.60 2352.10) rotate(-90) scale(1 1.0415)">GFP-Sec61b (ER)</text>
<text font-size="32.04" fill="#d9d9d9" transform="translate(1200.20 2376.67) rotate(-90)">Low/Neutral pH Ratio</text>
<g transform="translate(312.4,1949.6)"><g clip-path="url(#jclip)"><rect width="181.5" height="182.1" fill="#000"/><rect width="182" height="182" fill="#003338"/><ellipse cx="60.0" cy="20.0" rx="110.0" ry="26.0" fill="#00a0a8" opacity="0.85" filter="url(#jb)"/><ellipse cx="10.0" cy="120.0" rx="36.0" ry="70.0" fill="#008890" opacity="0.8" filter="url(#jb)"/><ellipse cx="120.0" cy="165.0" rx="90.0" ry="26.0" fill="#007078" opacity="0.8" filter="url(#jb)"/><ellipse cx="90.0" cy="90.0" rx="55.0" ry="50.0" fill="#001518" opacity="0.75" filter="url(#jb)"/><ellipse cx="170.0" cy="60.0" rx="28.0" ry="40.0" fill="#001518" opacity="0.8" filter="url(#jb)"/><ellipse cx="150.0" cy="10.0" rx="40.0" ry="18.0" fill="#001518" opacity="0.9" filter="url(#jb)"/><ellipse cx="82.0" cy="92.0" rx="44.0" ry="40.0" fill="#d8d000" opacity="0.95" filter="url(#jb)"/><ellipse cx="82.0" cy="88.0" rx="22.0" ry="20.0" fill="#fff000" opacity="1" filter="url(#jb)"/><ellipse cx="0.0" cy="130.0" rx="10.0" ry="30.0" fill="#a09000" opacity="0.8" filter="url(#jb)"/></g></g>
<g transform="translate(312.4,2134.4)"><g clip-path="url(#jclip)"><rect width="181.5" height="181.1" fill="#000"/><rect width="182" height="182" fill="#005a60"/><ellipse cx="110.0" cy="30.0" rx="90.0" ry="30.0" fill="#00a8b0" opacity="0.8" filter="url(#jb)"/><ellipse cx="20.0" cy="100.0" rx="36.0" ry="50.0" fill="#00a0a8" opacity="0.75" filter="url(#jb)"/><ellipse cx="90.0" cy="110.0" rx="50.0" ry="30.0" fill="#00a0a8" opacity="0.6" filter="url(#jb)"/><ellipse cx="160.0" cy="120.0" rx="30.0" ry="40.0" fill="#00959c" opacity="0.7" filter="url(#jb)"/><ellipse cx="100.0" cy="160.0" rx="70.0" ry="16.0" fill="#000" opacity="0.9" transform="rotate(12 100.0 160.0)" filter="url(#jb)"/><ellipse cx="40.0" cy="150.0" rx="30.0" ry="14.0" fill="#000" opacity="0.8" filter="url(#jb)"/><ellipse cx="20.0" cy="40.0" rx="24.0" ry="24.0" fill="#000" opacity="0.55" filter="url(#jb)"/><ellipse cx="140.0" cy="70.0" rx="22.0" ry="16.0" fill="#000" opacity="0.5" filter="url(#jb)"/><ellipse cx="86.0" cy="98.0" rx="38.0" ry="34.0" fill="#e8e060" opacity="0.95" filter="url(#jb)"/><ellipse cx="84.0" cy="100.0" rx="24.0" ry="21.0" fill="#fff8a0" opacity="1" filter="url(#jb2)"/><ellipse cx="181.0" cy="125.0" rx="12.0" ry="38.0" fill="#c0ff40" opacity="1" filter="url(#jb2)"/></g></g>
<g transform="translate(312.4,2318.0)"><g clip-path="url(#jclip)"><rect width="181.5" height="182.1" fill="#000"/><rect width="182" height="182" fill="#004a50"/><path d="M-10,175 L60,120 L120,50 L190,5" stroke="#00c8d0" stroke-width="50" fill="none" opacity="0.9" filter="url(#jb)"/><ellipse cx="10.0" cy="170.0" rx="40.0" ry="30.0" fill="#00d0d8" opacity="0.9" filter="url(#jb)"/><ellipse cx="30.0" cy="50.0" rx="45.0" ry="30.0" fill="#000" opacity="0.85" filter="url(#jb)"/><ellipse cx="150.0" cy="120.0" rx="40.0" ry="40.0" fill="#000" opacity="0.7" filter="url(#jb)"/><ellipse cx="100.0" cy="175.0" rx="50.0" ry="18.0" fill="#000" opacity="0.7" filter="url(#jb)"/><ellipse cx="170.0" cy="60.0" rx="20.0" ry="20.0" fill="#006a70" opacity="0.6" filter="url(#jb)"/><ellipse cx="88.0" cy="100.0" rx="28.0" ry="42.0" fill="#e8e070" opacity="0.95" transform="rotate(20 88.0 100.0)" filter="url(#jb)"/><ellipse cx="88.0" cy="96.0" rx="17.0" ry="27.0" fill="#fffab0" opacity="1" transform="rotate(20 88.0 96.0)" filter="url(#jb2)"/><ellipse cx="78.0" cy="138.0" rx="18.0" ry="14.0" fill="#ff9030" opacity="0.9" filter="url(#jb2)"/></g></g>
<g transform="translate(536.9,1949.6)"><g clip-path="url(#jclip)"><rect width="181.5" height="182.1" fill="#000"/><ellipse cx="84.0" cy="100.0" rx="40.0" ry="44.0" fill="#300000" opacity="0.7" filter="url(#jb2)"/><path d="M18,58 C20,38 45,22 72,20 C88,19 98,25 108,36 C122,50 140,75 142,100 C144,118 142,130 132,140 C115,152 96,156 80,150 C52,140 32,115 22,85 C18,72 17,66 18,58 Z" transform="translate(8.0,13.0) scale(1.02)" fill="none" stroke="#fff" stroke-width="3.04" stroke-dasharray="10.29 4.90"/></g></g>
<g transform="translate(536.9,2134.4)"><g clip-path="url(#jclip)"><rect width="181.5" height="181.1" fill="#000"/><ellipse cx="83.0" cy="95.0" rx="38.0" ry="33.0" fill="#f00000" opacity="1" filter="url(#jb2)"/><ellipse cx="83.0" cy="97.0" rx="24.0" ry="20.0" fill="#ff0000" opacity="1" filter="url(#jb2)"/></g></g>
<g transform="translate(536.9,2318.0)"><g clip-path="url(#jclip)"><rect width="181.5" height="182.1" fill="#000"/><ellipse cx="85.0" cy="100.0" rx="34.0" ry="46.0" fill="#f00000" opacity="1" transform="rotate(18 85.0 100.0)" filter="url(#jb2)"/><ellipse cx="84.0" cy="104.0" rx="20.0" ry="30.0" fill="#ff0000" opacity="1" transform="rotate(18 84.0 104.0)" filter="url(#jb2)"/></g></g>
<g transform="translate(762.5,1949.6)"><g clip-path="url(#jclip)"><rect width="181.5" height="182.1" fill="#000"/><ellipse cx="82.0" cy="88.0" rx="58.0" ry="52.0" fill="#d4d400" opacity="1" filter="url(#jb3)"/><ellipse cx="82.0" cy="86.0" rx="32.0" ry="28.0" fill="#f4f400" opacity="1" filter="url(#jb)"/><ellipse cx="0.0" cy="140.0" rx="14.0" ry="36.0" fill="#807800" opacity="0.9" filter="url(#jb)"/><path d="M18,58 C20,38 45,22 72,20 C88,19 98,25 108,36 C122,50 140,75 142,100 C144,118 142,130 132,140 C115,152 96,156 80,150 C52,140 32,115 22,85 C18,72 17,66 18,58 Z" transform="translate(54.0,12.0) scale(1.02)" fill="none" stroke="#fff" stroke-width="3.04" stroke-dasharray="10.29 4.90"/></g></g>
<g transform="translate(762.5,2134.4)"><g clip-path="url(#jclip)"><rect width="181.5" height="181.1" fill="#000"/><ellipse cx="80.0" cy="92.0" rx="44.0" ry="32.0" fill="#c8c400" opacity="0.95" filter="url(#jb3)"/><ellipse cx="82.0" cy="96.0" rx="22.0" ry="14.0" fill="#d8d400" opacity="0.8" filter="url(#jb)"/><ellipse cx="50.0" cy="45.0" rx="40.0" ry="22.0" fill="#605c00" opacity="0.8" filter="url(#jb)"/><ellipse cx="181.0" cy="125.0" rx="12.0" ry="40.0" fill="#f0f000" opacity="1" filter="url(#jb2)"/><ellipse cx="150.0" cy="60.0" rx="30.0" ry="30.0" fill="#403c00" opacity="0.7" filter="url(#jb)"/></g></g>
<g transform="translate(762.5,2318.0)"><g clip-path="url(#jclip)"><rect width="181.5" height="182.1" fill="#000"/><ellipse cx="84.0" cy="100.0" rx="26.0" ry="42.0" fill="#8c8800" opacity="0.95" transform="rotate(10 84.0 100.0)" filter="url(#jb3)"/></g></g>
<g transform="translate(987.0,1949.6)"><g clip-path="url(#jclip)"><rect width="181.5" height="182.1" fill="#000"/><rect width="182" height="182" fill="#003338"/><ellipse cx="60.0" cy="20.0" rx="110.0" ry="26.0" fill="#00a0a8" opacity="0.85" filter="url(#jb)"/><ellipse cx="10.0" cy="120.0" rx="36.0" ry="70.0" fill="#008890" opacity="0.8" filter="url(#jb)"/><ellipse cx="120.0" cy="165.0" rx="90.0" ry="26.0" fill="#007078" opacity="0.8" filter="url(#jb)"/><ellipse cx="90.0" cy="90.0" rx="55.0" ry="50.0" fill="#000" opacity="0.75" filter="url(#jb)"/><ellipse cx="170.0" cy="60.0" rx="28.0" ry="40.0" fill="#000" opacity="0.8" filter="url(#jb)"/><ellipse cx="150.0" cy="10.0" rx="40.0" ry="18.0" fill="#000" opacity="0.9" filter="url(#jb)"/><path d="M18,58 C20,38 45,22 72,20 C88,19 98,25 108,36 C122,50 140,75 142,100 C144,118 142,130 132,140 C115,152 96,156 80,150 C52,140 32,115 22,85 C18,72 17,66 18,58 Z" transform="translate(8.0,13.0) scale(1.02)" fill="none" stroke="#fff" stroke-width="3.04" stroke-dasharray="10.29 4.90"/></g></g>
<g transform="translate(987.0,2134.4)"><g clip-path="url(#jclip)"><rect width="181.5" height="181.1" fill="#000"/><rect width="182" height="182" fill="#005a60"/><ellipse cx="110.0" cy="30.0" rx="90.0" ry="30.0" fill="#00a8b0" opacity="0.8" filter="url(#jb)"/><ellipse cx="20.0" cy="100.0" rx="36.0" ry="50.0" fill="#00a0a8" opacity="0.75" filter="url(#jb)"/><ellipse cx="90.0" cy="110.0" rx="50.0" ry="30.0" fill="#00a0a8" opacity="0.6" filter="url(#jb)"/><ellipse cx="160.0" cy="120.0" rx="30.0" ry="40.0" fill="#00959c" opacity="0.7" filter="url(#jb)"/><ellipse cx="100.0" cy="160.0" rx="70.0" ry="16.0" fill="#000" opacity="0.9" transform="rotate(12 100.0 160.0)" filter="url(#jb)"/><ellipse cx="40.0" cy="150.0" rx="30.0" ry="14.0" fill="#000" opacity="0.8" filter="url(#jb)"/><ellipse cx="20.0" cy="40.0" rx="24.0" ry="24.0" fill="#000" opacity="0.55" filter="url(#jb)"/><ellipse cx="140.0" cy="70.0" rx="22.0" ry="16.0" fill="#000" opacity="0.5" filter="url(#jb)"/><path d="M44,82 C50,76 60,76 70,71 C76,62 84,56 94,57 C104,58 110,64 112,80 C113,95 116,108 108,116 C94,124 78,128 62,124 C50,118 44,100 44,82 Z" transform="translate(-7.4,-9.4) scale(1.15)" fill="none" stroke="#fff" stroke-width="2.70" stroke-dasharray="9.13 4.35"/></g></g>
<g transform="translate(987.0,2318.0)"><g clip-path="url(#jclip)"><rect width="181.5" height="182.1" fill="#000"/><rect width="182" height="182" fill="#004a50"/><path d="M-10,175 L60,120 L120,50 L190,5" stroke="#00c8d0" stroke-width="50" fill="none" opacity="0.9" filter="url(#jb)"/><ellipse cx="10.0" cy="170.0" rx="40.0" ry="30.0" fill="#00d0d8" opacity="0.9" filter="url(#jb)"/><ellipse cx="30.0" cy="50.0" rx="45.0" ry="30.0" fill="#000" opacity="0.85" filter="url(#jb)"/><ellipse cx="150.0" cy="120.0" rx="40.0" ry="40.0" fill="#000" opacity="0.7" filter="url(#jb)"/><ellipse cx="100.0" cy="175.0" rx="50.0" ry="18.0" fill="#000" opacity="0.7" filter="url(#jb)"/><ellipse cx="170.0" cy="60.0" rx="20.0" ry="20.0" fill="#006a70" opacity="0.6" filter="url(#jb)"/><path d="M44,88 C46,68 62,52 84,48 C104,44 124,54 134,74 C140,92 132,116 118,132 C104,144 82,150 64,144 C48,136 42,112 44,88 Z" transform="translate(0.0,0.0) scale(1.0)" fill="none" stroke="#fff" stroke-width="3.10" stroke-dasharray="10.50 5.00"/></g></g>
<g transform="translate(1211.5,1949.6)"><g clip-path="url(#jclip)"><rect width="181.5" height="182.1" fill="#000"/><path d="M18,58 C20,38 45,22 72,20 C88,19 98,25 108,36 C122,50 140,75 142,100 C144,118 142,130 132,140 C115,152 96,156 80,150 C52,140 32,115 22,85 C18,72 17,66 18,58 Z" transform="translate(8.0,13.0) scale(1.02)" fill="none" stroke="#fff" stroke-width="3.04" stroke-dasharray="10.29 4.90"/></g></g>
<g transform="translate(1211.5,2134.4)"><g clip-path="url(#jclip)"><rect width="181.5" height="181.1" fill="#000"/><path d="M44,82 C50,76 60,76 70,71 C76,62 84,56 94,57 C104,58 110,64 112,80 C113,95 116,108 108,116 C94,124 78,128 62,124 C50,118 44,100 44,82 Z" transform="translate(-7.4,-9.4) scale(1.15)" fill="#858585"/><path d="M44,82 C50,76 60,76 70,71 C76,62 84,56 94,57 C104,58 110,64 112,80 C113,95 116,108 108,116 C94,124 78,128 62,124 C50,118 44,100 44,82 Z" transform="translate(-7.4,-9.4) scale(1.15)" fill="none" stroke="#fff" stroke-width="2.70" stroke-dasharray="9.13 4.35"/></g></g>
<g transform="translate(1211.5,2318.0)"><g clip-path="url(#jclip)"><rect width="181.5" height="182.1" fill="#000"/><path d="M44,88 C46,68 62,52 84,48 C104,44 124,54 134,74 C140,92 132,116 118,132 C104,144 82,150 64,144 C48,136 42,112 44,88 Z" fill="#595959"/><path d="M44,88 C46,68 62,52 84,48 C104,44 124,54 134,74 C140,92 132,116 118,132 C104,144 82,150 64,144 C48,136 42,112 44,88 Z" transform="translate(0.0,0.0) scale(1.0)" fill="none" stroke="#fff" stroke-width="3.10" stroke-dasharray="10.50 5.00"/></g></g>
</g>
</svg>
</body></html>
